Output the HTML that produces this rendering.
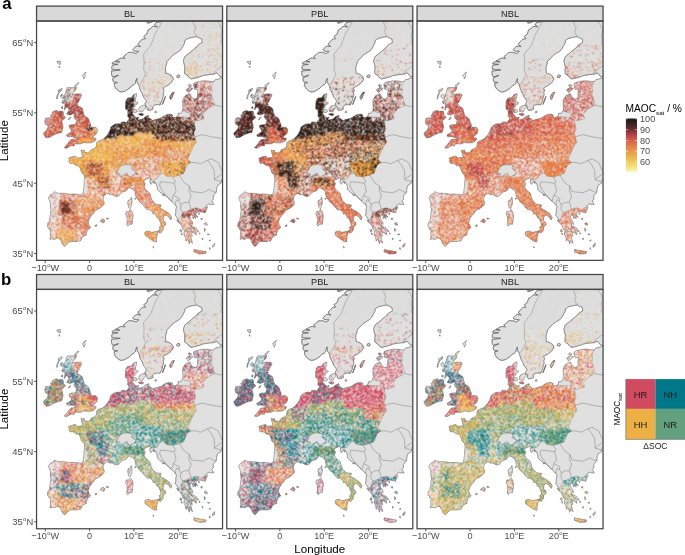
<!DOCTYPE html><html><head><meta charset="utf-8"><style>
html,body{margin:0;padding:0;background:#fff;}
svg{display:block;}
text{font-family:"Liberation Sans",Arial,sans-serif;}
</style></head><body>
<svg width="685" height="555" viewBox="0 0 685 555">
<defs>
<clipPath id="land"><path d="M65.9,245.4 67.9,243.0 70.1,241.4 74.1,241.4 77.2,241.5 78.7,240.6 80.1,241.3 81.2,239.4 82.5,236.6 85.2,235.4 86.5,235.0 86.3,233.5 87.4,230.1 89.6,228.2 90.6,227.3 89.2,225.7 88.1,222.2 89.4,218.5 91.4,215.5 93.5,213.4 95.1,210.6 99.2,208.6 102.0,206.4 103.8,204.6 104.2,202.0 103.1,200.4 103.1,198.0 104.0,195.5 106.9,193.4 108.7,193.7 110.0,194.8 111.8,194.4 113.3,195.2 116.0,196.6 118.9,195.9 120.4,193.7 121.7,192.3 123.1,191.8 126.0,190.9 129.1,187.3 131.7,188.8 133.3,189.7 135.0,191.6 135.3,193.4 136.1,197.3 138.8,200.4 139.2,201.5 141.9,203.6 143.9,206.0 145.7,208.2 147.2,209.6 149.7,209.8 151.2,210.6 152.8,212.5 153.2,214.1 155.0,213.6 156.1,215.5 157.3,218.1 159.0,218.3 159.6,220.5 160.7,223.3 161.2,225.7 159.0,227.5 160.1,228.9 159.0,231.0 159.0,232.4 160.7,233.0 163.0,229.9 163.2,226.8 165.6,225.0 165.4,222.6 163.0,220.5 163.2,217.6 164.5,215.2 166.1,215.2 169.0,216.9 169.6,218.7 171.0,219.8 171.6,217.3 169.4,213.8 166.3,211.7 164.4,210.4 161.4,208.9 160.1,207.5 161.2,205.0 158.8,204.8 156.5,204.6 153.9,202.5 152.5,201.0 151.0,198.0 149.9,193.4 149.4,192.9 145.5,189.7 144.1,187.1 145.2,183.6 143.9,181.8 144.3,180.0 146.8,179.0 149.4,177.9 150.6,178.6 149.9,181.1 149.9,182.5 151.0,184.3 152.3,182.5 153.7,180.9 155.7,182.8 157.0,186.0 157.4,189.5 160.1,192.3 162.5,193.7 165.0,195.2 167.6,197.6 169.8,199.7 171.8,201.5 174.0,203.6 175.6,205.3 176.5,207.1 175.8,209.2 175.8,212.4 175.2,215.5 176.7,216.9 178.5,220.5 179.6,223.3 181.6,225.7 183.1,229.6 184.9,230.3 186.0,229.9 188.9,229.6 192.0,232.1 189.3,231.7 186.2,230.7 184.0,231.7 184.2,234.9 185.6,237.7 185.8,240.8 187.6,239.4 188.7,241.9 189.3,243.8 189.8,240.8 190.7,241.2 192.4,243.3 191.6,240.1 190.5,235.9 192.4,235.9 191.6,234.5 192.0,232.8 193.3,232.4 194.7,233.1 196.1,234.9 196.2,232.4 194.0,229.6 192.4,227.8 190.7,226.4 191.3,222.9 192.9,224.3 192.4,221.9 190.5,219.1 189.8,216.6 191.1,214.1 192.9,216.6 193.1,218.7 194.4,216.9 195.5,218.7 196.0,215.9 197.8,217.3 195.3,213.8 197.8,211.8 200.4,211.7 204.4,212.4 205.1,213.1 206.4,209.6 207.5,207.1 206.4,206.0 207.5,204.6 209.3,203.9 211.5,204.6 213.7,204.4 212.6,202.2 211.5,201.1 213.3,199.4 213.3,195.9 216.4,192.0 216.6,188.8 217.7,185.3 221.0,183.2 221.3,181.1 222.1,179.0 223.9,176.2 229.2,173.4 229.2,78.5 223.5,78.5 220.4,78.1 218.2,79.2 215.5,79.5 213.7,81.5 211.1,81.6 207.1,80.9 202.6,80.9 199.3,81.6 196.2,82.3 193.8,83.4 193.6,85.1 194.2,87.6 194.7,89.3 198.2,89.1 197.5,93.2 197.5,96.7 196.4,98.8 194.2,99.1 191.6,97.4 189.8,93.6 185.4,95.7 182.9,99.5 182.7,102.4 182.9,105.9 183.1,108.0 182.5,110.8 180.7,113.3 178.0,113.3 178.0,115.7 176.5,116.8 175.2,117.5 172.5,117.1 171.8,115.7 172.9,115.4 171.2,114.3 167.6,114.3 164.5,115.7 161.4,117.8 158.8,118.7 155.2,119.6 152.8,120.5 150.8,119.2 149.9,118.2 147.9,117.8 149.0,115.7 148.1,115.4 145.0,116.8 143.2,118.7 140.6,119.6 138.4,119.9 137.7,119.2 138.8,117.1 137.0,117.8 134.8,116.8 133.5,114.7 132.2,114.0 132.8,112.2 132.2,110.1 132.8,109.0 134.8,106.9 135.0,104.8 136.8,104.5 138.1,102.7 135.3,101.7 135.5,98.8 136.4,95.7 136.6,93.6 133.7,94.6 131.3,97.8 127.7,98.0 126.0,100.6 125.5,103.8 125.5,109.0 127.7,110.1 127.9,113.6 127.7,116.4 129.1,117.8 128.8,119.9 127.7,120.8 126.0,123.1 125.1,122.0 121.5,122.0 120.6,124.1 118.9,123.8 115.3,124.1 111.8,126.3 110.7,127.3 109.8,130.8 108.2,133.6 106.9,135.4 105.3,137.2 104.5,138.2 102.9,139.3 100.9,140.3 97.8,141.4 96.7,142.8 96.5,146.6 94.5,148.5 91.2,149.8 90.0,151.6 88.5,153.0 84.7,152.4 84.1,150.2 82.5,150.5 81.0,150.0 81.6,152.6 82.5,156.1 83.2,157.5 80.7,157.5 77.4,158.2 75.4,156.1 71.9,157.0 68.5,158.2 69.4,159.6 69.0,161.8 70.3,163.5 72.3,163.2 74.5,164.2 75.9,165.6 78.5,165.6 79.8,167.4 80.7,169.5 81.6,172.7 84.3,175.1 84.7,179.0 84.1,183.2 84.1,185.7 83.6,190.2 83.0,193.7 81.6,194.7 80.7,194.9 76.5,194.3 72.8,194.0 69.7,194.4 64.3,193.4 60.8,193.3 58.3,193.4 54.6,191.8 52.8,193.4 50.1,195.2 48.4,198.0 49.7,200.8 50.6,203.6 50.4,206.0 51.0,210.3 50.1,216.9 49.5,221.2 47.9,222.9 47.5,226.9 49.3,227.8 48.8,229.2 50.6,229.2 50.4,232.8 50.6,236.6 49.9,239.4 51.5,238.7 54.6,239.4 56.8,238.0 58.8,238.0 61.2,240.8 61.9,243.0 63.2,245.1 64.8,246.5Z"/><path d="M229.2,77.4 220.4,76.7 216.8,72.8 213.7,74.2 208.8,74.6 202.6,75.6 200.2,76.7 196.0,77.8 191.3,79.0 189.3,77.8 187.6,75.6 184.5,73.5 184.7,70.0 184.9,66.9 184.0,63.7 183.4,60.9 184.5,57.4 185.4,56.0 188.5,53.8 192.0,50.7 196.0,47.5 198.2,44.7 202.2,42.6 201.8,39.1 198.7,37.7 196.7,36.6 193.8,37.0 188.0,38.4 184.9,40.5 184.5,43.3 183.6,44.7 181.8,48.2 179.6,51.0 176.0,53.1 172.9,55.3 170.7,57.4 169.0,59.5 166.7,61.6 166.7,63.7 165.8,65.8 165.4,68.6 165.8,72.1 165.8,73.2 168.5,73.9 171.2,75.3 172.9,77.8 173.4,79.2 172.1,81.3 171.2,82.7 169.4,84.1 167.6,85.5 164.5,86.9 163.2,88.3 164.1,90.4 163.2,92.5 163.6,94.6 162.7,97.4 161.9,100.9 159.9,105.2 158.8,104.5 154.8,104.8 152.5,106.9 153.2,109.0 150.8,110.1 148.1,110.4 147.0,109.0 147.0,107.3 145.7,105.5 145.0,103.8 146.6,101.3 145.0,98.8 143.2,96.7 142.4,93.9 141.2,91.8 140.1,89.7 139.2,86.2 138.8,84.4 137.5,83.4 136.8,80.6 137.0,78.5 135.9,80.6 135.3,83.4 133.9,84.8 132.2,85.5 129.5,88.3 127.3,89.7 125.1,91.1 122.8,91.8 120.9,92.0 118.9,91.1 116.2,89.0 114.4,86.2 114.4,84.8 114.0,83.4 117.5,82.5 114.0,82.0 113.1,81.3 112.7,79.2 113.1,77.8 118.4,75.3 113.1,76.9 112.2,76.3 111.5,74.2 111.5,71.1 120.2,69.9 111.8,69.3 111.8,66.5 112.7,65.1 118.0,64.4 112.2,63.8 112.2,63.0 114.4,61.6 119.7,61.9 115.8,60.7 117.1,60.2 120.6,58.1 125.1,58.4 123.3,56.7 126.0,54.6 128.2,52.4 132.2,52.3 136.1,53.5 138.8,51.4 133.9,51.0 132.6,49.6 134.8,47.5 136.1,46.1 140.6,46.5 137.9,44.7 138.8,42.6 142.4,39.1 145.5,38.7 143.7,36.3 146.8,34.2 148.1,29.9 150.3,28.9 152.5,26.4 157.4,26.8 154.3,25.0 156.1,22.6 161.4,21.5 158.3,20.1 160.5,14.5 229.2,14.5Z"/><path d="M95.8,140.0 96.0,138.3 93.6,137.9 92.7,137.5 93.8,135.7 95.1,135.0 96.7,133.3 97.4,130.5 97.1,128.7 95.6,127.3 91.8,127.3 90.9,128.0 90.0,127.7 90.9,126.3 90.5,123.8 89.8,122.7 88.7,119.2 87.6,117.8 85.2,116.4 84.3,115.4 83.2,112.5 82.5,108.7 80.7,107.3 79.0,106.2 76.3,105.9 78.1,104.5 77.2,103.4 78.5,101.7 80.3,98.1 81.6,95.3 80.7,93.9 76.3,93.9 71.9,95.0 72.8,92.9 75.9,89.7 76.3,87.2 72.8,87.6 67.4,87.6 66.5,89.7 65.7,92.5 64.8,95.0 63.9,97.1 64.3,100.2 62.1,100.9 64.8,102.7 65.0,105.9 64.3,110.1 66.1,107.3 67.9,107.6 69.0,110.1 67.4,112.9 66.8,114.0 70.1,115.0 73.6,113.6 75.0,113.6 73.9,116.4 75.4,119.2 77.0,119.9 76.3,121.7 75.9,124.1 75.0,124.5 71.0,124.9 69.2,125.6 69.7,128.4 71.4,129.8 71.4,131.9 68.8,133.6 66.5,135.0 67.4,136.8 70.5,136.5 72.3,136.8 75.4,137.9 77.6,137.2 76.3,138.9 72.8,139.6 71.0,139.6 69.7,141.0 67.4,144.2 64.3,147.7 66.5,148.3 71.0,145.6 74.1,145.9 74.5,143.8 78.5,143.8 81.0,143.8 83.8,142.4 86.1,142.8 90.5,142.8 93.8,141.7Z"/><path d="M63.0,111.5 63.4,115.4 65.4,117.1 64.8,118.2 62.6,119.9 61.7,121.3 62.6,124.5 63.0,127.3 61.5,132.6 58.6,132.9 55.0,134.3 52.8,135.4 49.7,137.2 46.2,137.9 44.4,135.7 43.5,133.3 46.6,130.1 47.5,128.7 48.4,125.9 45.3,124.1 44.8,121.3 45.7,118.2 49.7,117.8 51.9,117.8 50.6,115.4 51.9,114.0 52.8,111.8 56.4,110.4 58.6,111.5 60.8,111.1Z"/><path d="M68.3,119.6 70.1,117.1 70.5,117.5 69.2,119.6Z"/><path d="M62.1,88.3 61.7,90.4 59.0,92.5 57.2,95.3 56.6,98.8 57.2,98.8 57.9,95.3 58.8,93.6 58.1,90.4 60.3,89.3Z"/><path d="M62.1,93.9 64.3,96.7 63.0,98.8 60.3,96.7 60.8,95.0Z"/><path d="M64.3,102.4 61.7,102.0 63.0,103.8Z"/><path d="M62.6,106.6 61.0,107.6 62.6,108.7Z"/><path d="M74.5,85.8 77.2,83.4 79.0,82.7 77.2,85.1 75.9,86.5Z"/><path d="M83.8,78.8 85.2,76.3 84.7,74.2 86.1,72.1 84.1,73.5 82.1,75.6 83.8,77.0Z"/><path d="M56.8,61.6 60.3,61.2 60.3,64.4 58.6,64.0Z"/><path d="M59.7,66.5 59.5,67.9 58.8,66.5Z"/><path d="M131.3,197.3 131.9,200.1 131.9,203.6 130.6,207.5 130.2,208.6 128.6,207.5 128.2,205.0 127.7,202.2 128.4,200.4 130.8,199.5Z"/><path d="M130.4,209.6 132.2,212.0 133.0,215.5 132.4,221.9 131.9,224.3 129.9,224.0 127.7,226.1 126.8,224.7 127.3,220.5 126.8,216.2 125.7,214.1 126.2,211.7 128.6,211.7Z"/><path d="M158.8,230.7 157.0,235.2 156.5,239.1 156.5,241.9 153.4,241.2 149.4,238.4 145.2,235.2 144.8,232.4 146.3,231.4 148.6,231.0 151.7,232.4 156.5,231.4Z"/><path d="M193.8,251.4 194.2,249.3 196.0,250.0 200.4,250.7 204.0,251.4 206.2,251.7 205.5,253.5 199.1,254.0 196.9,252.8 194.2,252.1Z"/><path d="M100.0,221.2 102.9,218.7 104.9,220.5 103.8,222.9 101.8,221.9Z"/><path d="M106.4,218.0 108.7,218.7 106.7,219.1Z"/><path d="M94.9,225.7 96.5,224.7 96.7,226.1 95.4,226.4Z"/><path d="M143.9,105.2 145.5,105.5 145.5,108.0 143.7,109.7 142.8,111.8 139.2,111.5 138.8,108.7 140.6,106.2Z"/><path d="M132.6,109.4 136.1,109.4 137.3,111.5 135.7,112.5 133.5,112.2Z"/><path d="M138.4,114.0 141.9,113.3 143.7,114.3 142.4,115.7 139.7,115.0Z"/><path d="M154.8,112.2 155.7,110.8 156.8,112.2 155.2,113.0Z"/><path d="M169.8,96.7 172.5,92.5 174.3,92.2 172.9,95.0 172.1,97.4 170.7,99.5 170.1,98.5Z"/><path d="M162.3,104.5 164.5,99.5 165.4,96.4 163.9,100.2 162.7,104.1Z"/><path d="M186.2,89.7 189.3,87.6 192.9,88.3 190.7,90.4 188.0,92.5 187.1,91.1Z"/><path d="M188.0,85.5 189.3,84.4 191.6,85.8 189.8,86.9Z"/><path d="M176.5,77.0 177.8,74.9 180.0,75.6 179.1,77.8Z"/><path d="M146.8,22.6 151.2,20.8 156.1,19.0 159.2,17.3 157.9,19.4 153.0,21.5 148.6,23.3Z"/><path d="M190.7,225.4 193.3,226.8 196.4,228.5 198.7,231.7 196.9,231.0 194.2,229.2 192.0,227.5Z"/><path d="M176.7,220.1 178.3,220.5 178.7,222.6 177.6,221.5Z"/><path d="M179.8,231.0 180.9,229.2 181.8,231.7 180.3,231.7Z"/><path d="M181.1,233.1 182.5,234.2 181.8,234.9Z"/><path d="M204.2,223.6 206.2,222.6 207.5,225.0 205.3,225.0Z"/><path d="M204.2,228.2 205.5,229.6 204.6,231.4Z"/><path d="M207.3,234.2 209.5,234.2 208.0,234.9Z"/><path d="M212.6,245.1 214.8,243.3 214.4,246.1 212.6,247.2Z"/><path d="M200.6,218.7 202.4,218.3 202.0,219.8Z"/><path d="M198.4,213.1 199.5,213.4 198.9,214.5Z"/><path d="M202.0,238.4 202.9,238.4 202.6,239.8Z"/><path d="M199.1,232.8 200.2,233.5 199.5,234.2Z"/><path d="M209.1,240.5 210.8,240.1 209.7,241.2Z"/><path d="M209.7,247.5 210.2,249.3 209.5,249.3Z"/><path d="M153.0,246.5 154.1,247.5 153.4,247.9Z"/><path d="M134.4,198.7 135.9,198.3 135.5,199.2Z"/><path d="M153.4,181.8 155.0,182.8 154.1,183.6Z"/><path d="M162.3,194.8 164.5,195.2 163.2,195.5Z"/></clipPath>
<clipPath id="mask"><path d="M32.0,267.6 32.0,92.5 137.5,92.5 140.6,98.8 144.1,104.5 146.1,108.7 149.4,112.9 171.6,112.9 175.2,116.4 176.5,116.8 190.7,117.5 189.8,112.9 184.0,111.5 182.5,110.8 180.5,108.7 180.5,95.3 184.9,88.3 184.9,81.3 204.9,78.5 213.7,79.9 213.7,81.5 211.5,85.5 212.0,91.8 211.1,94.6 212.4,96.7 214.6,105.2 207.5,108.7 202.6,114.3 204.0,118.5 197.8,120.6 193.8,120.6 195.5,129.1 193.8,132.6 194.7,136.8 196.4,142.4 193.8,145.2 189.6,154.4 187.6,159.3 191.1,162.5 187.1,164.9 183.6,173.4 179.6,175.1 172.9,176.9 166.3,176.2 163.2,172.7 159.2,174.8 157.4,178.3 153.9,179.7 149.9,179.7 148.6,179.7 147.2,183.2 149.4,190.2 155.2,197.3 162.7,202.9 171.6,209.9 173.8,214.8 175.2,219.4 177.8,220.6 178.5,220.5 180.9,217.6 182.7,212.4 186.2,211.7 191.1,209.2 196.0,207.8 201.8,209.6 206.2,206.4 207.5,207.1 206.4,209.6 205.1,213.1 218.2,214.8 218.2,267.6Z"/><path d="M138.4,91.8 138.6,86.2 139.5,84.4 140.1,84.1 143.7,78.5 145.5,74.2 144.1,70.7 143.7,68.6 144.1,61.6 143.5,54.2 150.8,45.4 155.2,33.5 162.3,21.5 165.0,17.3 216.4,14.5 216.8,20.8 219.9,25.0 222.1,29.9 220.8,35.6 221.7,39.8 220.8,43.3 224.8,47.5 224.8,63.0 221.7,66.2 216.8,70.0 212.8,73.9 211.5,77.8 187.1,81.3 173.8,98.8 160.5,110.8 151.7,111.5 145.0,110.8 142.8,103.8Z"/><path d="M40.8,151.6 99.4,141.7 99.4,123.4 87.4,67.2 40.8,67.2Z"/></clipPath>
<path id="landp" d="M65.9,245.4 67.9,243.0 70.1,241.4 74.1,241.4 77.2,241.5 78.7,240.6 80.1,241.3 81.2,239.4 82.5,236.6 85.2,235.4 86.5,235.0 86.3,233.5 87.4,230.1 89.6,228.2 90.6,227.3 89.2,225.7 88.1,222.2 89.4,218.5 91.4,215.5 93.5,213.4 95.1,210.6 99.2,208.6 102.0,206.4 103.8,204.6 104.2,202.0 103.1,200.4 103.1,198.0 104.0,195.5 106.9,193.4 108.7,193.7 110.0,194.8 111.8,194.4 113.3,195.2 116.0,196.6 118.9,195.9 120.4,193.7 121.7,192.3 123.1,191.8 126.0,190.9 129.1,187.3 131.7,188.8 133.3,189.7 135.0,191.6 135.3,193.4 136.1,197.3 138.8,200.4 139.2,201.5 141.9,203.6 143.9,206.0 145.7,208.2 147.2,209.6 149.7,209.8 151.2,210.6 152.8,212.5 153.2,214.1 155.0,213.6 156.1,215.5 157.3,218.1 159.0,218.3 159.6,220.5 160.7,223.3 161.2,225.7 159.0,227.5 160.1,228.9 159.0,231.0 159.0,232.4 160.7,233.0 163.0,229.9 163.2,226.8 165.6,225.0 165.4,222.6 163.0,220.5 163.2,217.6 164.5,215.2 166.1,215.2 169.0,216.9 169.6,218.7 171.0,219.8 171.6,217.3 169.4,213.8 166.3,211.7 164.4,210.4 161.4,208.9 160.1,207.5 161.2,205.0 158.8,204.8 156.5,204.6 153.9,202.5 152.5,201.0 151.0,198.0 149.9,193.4 149.4,192.9 145.5,189.7 144.1,187.1 145.2,183.6 143.9,181.8 144.3,180.0 146.8,179.0 149.4,177.9 150.6,178.6 149.9,181.1 149.9,182.5 151.0,184.3 152.3,182.5 153.7,180.9 155.7,182.8 157.0,186.0 157.4,189.5 160.1,192.3 162.5,193.7 165.0,195.2 167.6,197.6 169.8,199.7 171.8,201.5 174.0,203.6 175.6,205.3 176.5,207.1 175.8,209.2 175.8,212.4 175.2,215.5 176.7,216.9 178.5,220.5 179.6,223.3 181.6,225.7 183.1,229.6 184.9,230.3 186.0,229.9 188.9,229.6 192.0,232.1 189.3,231.7 186.2,230.7 184.0,231.7 184.2,234.9 185.6,237.7 185.8,240.8 187.6,239.4 188.7,241.9 189.3,243.8 189.8,240.8 190.7,241.2 192.4,243.3 191.6,240.1 190.5,235.9 192.4,235.9 191.6,234.5 192.0,232.8 193.3,232.4 194.7,233.1 196.1,234.9 196.2,232.4 194.0,229.6 192.4,227.8 190.7,226.4 191.3,222.9 192.9,224.3 192.4,221.9 190.5,219.1 189.8,216.6 191.1,214.1 192.9,216.6 193.1,218.7 194.4,216.9 195.5,218.7 196.0,215.9 197.8,217.3 195.3,213.8 197.8,211.8 200.4,211.7 204.4,212.4 205.1,213.1 206.4,209.6 207.5,207.1 206.4,206.0 207.5,204.6 209.3,203.9 211.5,204.6 213.7,204.4 212.6,202.2 211.5,201.1 213.3,199.4 213.3,195.9 216.4,192.0 216.6,188.8 217.7,185.3 221.0,183.2 221.3,181.1 222.1,179.0 223.9,176.2 229.2,173.4 229.2,78.5 223.5,78.5 220.4,78.1 218.2,79.2 215.5,79.5 213.7,81.5 211.1,81.6 207.1,80.9 202.6,80.9 199.3,81.6 196.2,82.3 193.8,83.4 193.6,85.1 194.2,87.6 194.7,89.3 198.2,89.1 197.5,93.2 197.5,96.7 196.4,98.8 194.2,99.1 191.6,97.4 189.8,93.6 185.4,95.7 182.9,99.5 182.7,102.4 182.9,105.9 183.1,108.0 182.5,110.8 180.7,113.3 178.0,113.3 178.0,115.7 176.5,116.8 175.2,117.5 172.5,117.1 171.8,115.7 172.9,115.4 171.2,114.3 167.6,114.3 164.5,115.7 161.4,117.8 158.8,118.7 155.2,119.6 152.8,120.5 150.8,119.2 149.9,118.2 147.9,117.8 149.0,115.7 148.1,115.4 145.0,116.8 143.2,118.7 140.6,119.6 138.4,119.9 137.7,119.2 138.8,117.1 137.0,117.8 134.8,116.8 133.5,114.7 132.2,114.0 132.8,112.2 132.2,110.1 132.8,109.0 134.8,106.9 135.0,104.8 136.8,104.5 138.1,102.7 135.3,101.7 135.5,98.8 136.4,95.7 136.6,93.6 133.7,94.6 131.3,97.8 127.7,98.0 126.0,100.6 125.5,103.8 125.5,109.0 127.7,110.1 127.9,113.6 127.7,116.4 129.1,117.8 128.8,119.9 127.7,120.8 126.0,123.1 125.1,122.0 121.5,122.0 120.6,124.1 118.9,123.8 115.3,124.1 111.8,126.3 110.7,127.3 109.8,130.8 108.2,133.6 106.9,135.4 105.3,137.2 104.5,138.2 102.9,139.3 100.9,140.3 97.8,141.4 96.7,142.8 96.5,146.6 94.5,148.5 91.2,149.8 90.0,151.6 88.5,153.0 84.7,152.4 84.1,150.2 82.5,150.5 81.0,150.0 81.6,152.6 82.5,156.1 83.2,157.5 80.7,157.5 77.4,158.2 75.4,156.1 71.9,157.0 68.5,158.2 69.4,159.6 69.0,161.8 70.3,163.5 72.3,163.2 74.5,164.2 75.9,165.6 78.5,165.6 79.8,167.4 80.7,169.5 81.6,172.7 84.3,175.1 84.7,179.0 84.1,183.2 84.1,185.7 83.6,190.2 83.0,193.7 81.6,194.7 80.7,194.9 76.5,194.3 72.8,194.0 69.7,194.4 64.3,193.4 60.8,193.3 58.3,193.4 54.6,191.8 52.8,193.4 50.1,195.2 48.4,198.0 49.7,200.8 50.6,203.6 50.4,206.0 51.0,210.3 50.1,216.9 49.5,221.2 47.9,222.9 47.5,226.9 49.3,227.8 48.8,229.2 50.6,229.2 50.4,232.8 50.6,236.6 49.9,239.4 51.5,238.7 54.6,239.4 56.8,238.0 58.8,238.0 61.2,240.8 61.9,243.0 63.2,245.1 64.8,246.5ZM229.2,77.4 220.4,76.7 216.8,72.8 213.7,74.2 208.8,74.6 202.6,75.6 200.2,76.7 196.0,77.8 191.3,79.0 189.3,77.8 187.6,75.6 184.5,73.5 184.7,70.0 184.9,66.9 184.0,63.7 183.4,60.9 184.5,57.4 185.4,56.0 188.5,53.8 192.0,50.7 196.0,47.5 198.2,44.7 202.2,42.6 201.8,39.1 198.7,37.7 196.7,36.6 193.8,37.0 188.0,38.4 184.9,40.5 184.5,43.3 183.6,44.7 181.8,48.2 179.6,51.0 176.0,53.1 172.9,55.3 170.7,57.4 169.0,59.5 166.7,61.6 166.7,63.7 165.8,65.8 165.4,68.6 165.8,72.1 165.8,73.2 168.5,73.9 171.2,75.3 172.9,77.8 173.4,79.2 172.1,81.3 171.2,82.7 169.4,84.1 167.6,85.5 164.5,86.9 163.2,88.3 164.1,90.4 163.2,92.5 163.6,94.6 162.7,97.4 161.9,100.9 159.9,105.2 158.8,104.5 154.8,104.8 152.5,106.9 153.2,109.0 150.8,110.1 148.1,110.4 147.0,109.0 147.0,107.3 145.7,105.5 145.0,103.8 146.6,101.3 145.0,98.8 143.2,96.7 142.4,93.9 141.2,91.8 140.1,89.7 139.2,86.2 138.8,84.4 137.5,83.4 136.8,80.6 137.0,78.5 135.9,80.6 135.3,83.4 133.9,84.8 132.2,85.5 129.5,88.3 127.3,89.7 125.1,91.1 122.8,91.8 120.9,92.0 118.9,91.1 116.2,89.0 114.4,86.2 114.4,84.8 114.0,83.4 117.5,82.5 114.0,82.0 113.1,81.3 112.7,79.2 113.1,77.8 118.4,75.3 113.1,76.9 112.2,76.3 111.5,74.2 111.5,71.1 120.2,69.9 111.8,69.3 111.8,66.5 112.7,65.1 118.0,64.4 112.2,63.8 112.2,63.0 114.4,61.6 119.7,61.9 115.8,60.7 117.1,60.2 120.6,58.1 125.1,58.4 123.3,56.7 126.0,54.6 128.2,52.4 132.2,52.3 136.1,53.5 138.8,51.4 133.9,51.0 132.6,49.6 134.8,47.5 136.1,46.1 140.6,46.5 137.9,44.7 138.8,42.6 142.4,39.1 145.5,38.7 143.7,36.3 146.8,34.2 148.1,29.9 150.3,28.9 152.5,26.4 157.4,26.8 154.3,25.0 156.1,22.6 161.4,21.5 158.3,20.1 160.5,14.5 229.2,14.5ZM95.8,140.0 96.0,138.3 93.6,137.9 92.7,137.5 93.8,135.7 95.1,135.0 96.7,133.3 97.4,130.5 97.1,128.7 95.6,127.3 91.8,127.3 90.9,128.0 90.0,127.7 90.9,126.3 90.5,123.8 89.8,122.7 88.7,119.2 87.6,117.8 85.2,116.4 84.3,115.4 83.2,112.5 82.5,108.7 80.7,107.3 79.0,106.2 76.3,105.9 78.1,104.5 77.2,103.4 78.5,101.7 80.3,98.1 81.6,95.3 80.7,93.9 76.3,93.9 71.9,95.0 72.8,92.9 75.9,89.7 76.3,87.2 72.8,87.6 67.4,87.6 66.5,89.7 65.7,92.5 64.8,95.0 63.9,97.1 64.3,100.2 62.1,100.9 64.8,102.7 65.0,105.9 64.3,110.1 66.1,107.3 67.9,107.6 69.0,110.1 67.4,112.9 66.8,114.0 70.1,115.0 73.6,113.6 75.0,113.6 73.9,116.4 75.4,119.2 77.0,119.9 76.3,121.7 75.9,124.1 75.0,124.5 71.0,124.9 69.2,125.6 69.7,128.4 71.4,129.8 71.4,131.9 68.8,133.6 66.5,135.0 67.4,136.8 70.5,136.5 72.3,136.8 75.4,137.9 77.6,137.2 76.3,138.9 72.8,139.6 71.0,139.6 69.7,141.0 67.4,144.2 64.3,147.7 66.5,148.3 71.0,145.6 74.1,145.9 74.5,143.8 78.5,143.8 81.0,143.8 83.8,142.4 86.1,142.8 90.5,142.8 93.8,141.7ZM63.0,111.5 63.4,115.4 65.4,117.1 64.8,118.2 62.6,119.9 61.7,121.3 62.6,124.5 63.0,127.3 61.5,132.6 58.6,132.9 55.0,134.3 52.8,135.4 49.7,137.2 46.2,137.9 44.4,135.7 43.5,133.3 46.6,130.1 47.5,128.7 48.4,125.9 45.3,124.1 44.8,121.3 45.7,118.2 49.7,117.8 51.9,117.8 50.6,115.4 51.9,114.0 52.8,111.8 56.4,110.4 58.6,111.5 60.8,111.1ZM68.3,119.6 70.1,117.1 70.5,117.5 69.2,119.6ZM62.1,88.3 61.7,90.4 59.0,92.5 57.2,95.3 56.6,98.8 57.2,98.8 57.9,95.3 58.8,93.6 58.1,90.4 60.3,89.3ZM62.1,93.9 64.3,96.7 63.0,98.8 60.3,96.7 60.8,95.0ZM64.3,102.4 61.7,102.0 63.0,103.8ZM62.6,106.6 61.0,107.6 62.6,108.7ZM74.5,85.8 77.2,83.4 79.0,82.7 77.2,85.1 75.9,86.5ZM83.8,78.8 85.2,76.3 84.7,74.2 86.1,72.1 84.1,73.5 82.1,75.6 83.8,77.0ZM56.8,61.6 60.3,61.2 60.3,64.4 58.6,64.0ZM59.7,66.5 59.5,67.9 58.8,66.5ZM131.3,197.3 131.9,200.1 131.9,203.6 130.6,207.5 130.2,208.6 128.6,207.5 128.2,205.0 127.7,202.2 128.4,200.4 130.8,199.5ZM130.4,209.6 132.2,212.0 133.0,215.5 132.4,221.9 131.9,224.3 129.9,224.0 127.7,226.1 126.8,224.7 127.3,220.5 126.8,216.2 125.7,214.1 126.2,211.7 128.6,211.7ZM158.8,230.7 157.0,235.2 156.5,239.1 156.5,241.9 153.4,241.2 149.4,238.4 145.2,235.2 144.8,232.4 146.3,231.4 148.6,231.0 151.7,232.4 156.5,231.4ZM193.8,251.4 194.2,249.3 196.0,250.0 200.4,250.7 204.0,251.4 206.2,251.7 205.5,253.5 199.1,254.0 196.9,252.8 194.2,252.1ZM100.0,221.2 102.9,218.7 104.9,220.5 103.8,222.9 101.8,221.9ZM106.4,218.0 108.7,218.7 106.7,219.1ZM94.9,225.7 96.5,224.7 96.7,226.1 95.4,226.4ZM143.9,105.2 145.5,105.5 145.5,108.0 143.7,109.7 142.8,111.8 139.2,111.5 138.8,108.7 140.6,106.2ZM132.6,109.4 136.1,109.4 137.3,111.5 135.7,112.5 133.5,112.2ZM138.4,114.0 141.9,113.3 143.7,114.3 142.4,115.7 139.7,115.0ZM154.8,112.2 155.7,110.8 156.8,112.2 155.2,113.0ZM169.8,96.7 172.5,92.5 174.3,92.2 172.9,95.0 172.1,97.4 170.7,99.5 170.1,98.5ZM162.3,104.5 164.5,99.5 165.4,96.4 163.9,100.2 162.7,104.1ZM186.2,89.7 189.3,87.6 192.9,88.3 190.7,90.4 188.0,92.5 187.1,91.1ZM188.0,85.5 189.3,84.4 191.6,85.8 189.8,86.9ZM176.5,77.0 177.8,74.9 180.0,75.6 179.1,77.8ZM146.8,22.6 151.2,20.8 156.1,19.0 159.2,17.3 157.9,19.4 153.0,21.5 148.6,23.3ZM190.7,225.4 193.3,226.8 196.4,228.5 198.7,231.7 196.9,231.0 194.2,229.2 192.0,227.5ZM176.7,220.1 178.3,220.5 178.7,222.6 177.6,221.5ZM179.8,231.0 180.9,229.2 181.8,231.7 180.3,231.7ZM181.1,233.1 182.5,234.2 181.8,234.9ZM204.2,223.6 206.2,222.6 207.5,225.0 205.3,225.0ZM204.2,228.2 205.5,229.6 204.6,231.4ZM207.3,234.2 209.5,234.2 208.0,234.9ZM212.6,245.1 214.8,243.3 214.4,246.1 212.6,247.2ZM200.6,218.7 202.4,218.3 202.0,219.8ZM198.4,213.1 199.5,213.4 198.9,214.5ZM202.0,238.4 202.9,238.4 202.6,239.8ZM199.1,232.8 200.2,233.5 199.5,234.2ZM209.1,240.5 210.8,240.1 209.7,241.2ZM209.7,247.5 210.2,249.3 209.5,249.3ZM153.0,246.5 154.1,247.5 153.4,247.9ZM134.4,198.7 135.9,198.3 135.5,199.2ZM153.4,181.8 155.0,182.8 154.1,183.6ZM162.3,194.8 164.5,195.2 163.2,195.5Z"/>
<path id="bord" d="M50.1,205.2 53.2,203.6 57.7,204.6 60.3,204.6 62.1,207.1 59.0,211.3 59.5,216.2 58.6,220.5 56.4,220.8 58.6,225.4 57.2,229.2 58.6,232.4 56.4,235.6 56.8,238.0M81.7,194.7 83.4,196.9 86.5,198.3 89.6,199.4 92.7,198.3 96.0,200.1 98.5,201.5 103.6,201.3M100.9,140.3 102.5,143.1 106.0,145.9 108.2,148.1 110.9,147.0 111.1,149.5 114.0,151.6 115.3,151.2 118.0,151.8 120.6,154.0 126.0,155.3M126.0,155.3 124.2,158.6 123.3,164.9 120.6,166.0 118.4,169.5 116.6,173.4 119.7,173.4 120.6,176.9M120.6,176.9 121.1,181.8 119.1,183.2 120.6,188.8 122.8,191.8M104.5,138.4 108.7,138.2 111.8,137.9 115.3,140.0 114.9,142.8M114.9,142.8 116.6,145.2 118.0,145.9 116.6,148.8 115.3,151.2M114.9,142.8 116.2,141.0 117.1,137.5 116.0,135.4 119.7,134.7 120.9,131.5 121.5,125.2M127.9,113.6 131.5,114.3M152.8,120.5 153.4,124.9 154.3,129.8 154.8,133.3 156.1,140.3M156.1,140.3 153.0,140.7 150.8,143.1 146.8,145.2 143.2,145.9 145.0,148.4 146.3,153.0 150.8,156.8M150.8,156.8 147.2,160.0 146.8,164.2 143.7,164.9 138.4,166.3 134.8,167.0 132.2,165.3M132.2,165.3 127.7,164.6 123.3,164.9M132.2,165.3 131.7,168.8 135.9,172.3 134.4,174.4 129.5,177.2 126.8,173.0 120.6,176.9M135.9,170.2 143.7,168.8 150.3,172.5M150.3,172.5 156.1,171.6 160.5,171.2 161.0,170.2M150.3,172.5 149.4,176.2 150.6,178.6M150.8,156.8 154.8,157.9 156.1,155.1 160.5,156.8 164.5,157.9M164.5,157.9 165.4,162.1 162.7,165.6 161.0,170.2M156.1,140.3 161.9,143.5 163.6,146.6 168.5,148.1 173.2,151.6M173.2,151.6 168.1,155.8 164.5,157.9M173.2,151.6 178.3,153.7 182.7,152.3 189.6,154.4M189.6,154.4 193.8,145.2 196.4,142.4 194.7,136.8 193.8,132.6 195.5,129.1 193.8,120.6M193.8,120.6 190.7,117.5 176.5,116.8M190.7,117.5 189.8,112.9 184.0,111.5 182.5,110.8M193.8,120.6 197.8,120.6 204.0,118.5 202.6,114.3 207.5,108.7M182.9,105.5 187.1,103.1 196.0,103.8 203.1,104.8 207.5,108.7M207.5,108.7 214.6,105.2 212.4,96.7 211.1,94.6M197.5,92.9 203.5,92.5 207.1,95.0 211.1,94.6M211.1,94.6 212.0,91.8 211.5,85.5 213.7,81.5M165.4,162.1 172.9,163.5 178.3,160.7 187.6,159.3M187.6,159.3 189.6,154.4M161.0,170.2 163.2,172.7 166.3,176.2 172.9,176.9 179.6,175.1M179.6,175.1 183.6,173.4 187.1,164.9 191.1,162.5 187.6,159.3M191.1,162.5 196.0,162.5 200.4,163.9 207.5,160.4M207.5,160.4 211.5,165.6 214.2,170.5 214.6,179.7M207.5,160.4 211.5,158.9 218.2,162.5 223.0,173.4 217.7,176.9 214.6,179.7M214.6,179.7 221.3,181.8M179.6,175.1 182.7,180.4 184.9,183.2 189.3,186.0M189.3,186.0 191.6,191.6 198.2,192.3 202.6,192.7 209.3,189.5 213.7,192.0 216.3,192.1M189.3,186.0 188.9,190.9 191.1,195.9 189.3,200.8 188.9,202.2M188.9,202.2 191.1,209.2M191.1,209.2 196.0,207.8 201.8,209.6 206.2,206.4M191.1,209.2 186.2,211.7 182.7,212.4M182.7,212.4 180.5,209.2 180.9,204.3M180.9,204.3 184.9,202.5 188.9,202.2M182.7,212.4 180.9,217.6 178.5,220.5M180.9,204.3 178.7,200.8 176.9,199.7 175.2,202.9 175.6,205.3M171.6,201.1 173.4,195.2 176.0,196.6 179.6,198.7 178.7,200.8M171.6,201.1 167.6,197.3 161.4,189.5 159.6,185.0 160.5,181.8 165.0,182.1 173.8,183.2M173.8,183.2 175.2,186.7 176.0,191.6 173.4,195.2M173.8,183.2 175.6,181.8 172.9,176.9M149.9,179.7 153.9,179.7 157.4,178.3 159.2,174.8 163.2,172.7M194.7,136.8 202.6,134.7 211.5,136.8 224.8,138.9M214.6,105.2 224.8,107.3 229.2,119.9"/>
<path id="nbord" d="M140.1,84.1 143.7,78.5 145.5,74.2 144.1,70.7 143.7,68.6 144.1,61.6 143.5,54.2 150.8,45.4 155.2,33.5 162.3,21.5 165.0,17.3M196.7,36.6 194.2,32.1 195.5,28.5 193.3,22.9 194.2,20.8 188.9,17.3M212.8,73.9 216.8,70.0 221.7,66.2 224.8,63.0M224.8,47.5 220.8,43.3 221.7,39.8 220.8,35.6 222.1,29.9 219.9,25.0 216.8,20.8 216.4,14.5M229.2,77.4 220.4,76.7 216.8,72.8 213.7,74.2 208.8,74.6 202.6,75.6 200.2,76.7 196.0,77.8 191.3,79.0 189.3,77.8 187.6,75.6 184.5,73.5 184.7,70.0 184.9,66.9 184.0,63.7 183.4,60.9 184.5,57.4 185.4,56.0 188.5,53.8 192.0,50.7 196.0,47.5 198.2,44.7 202.2,42.6 201.8,39.1 198.7,37.7 196.7,36.6 193.8,37.0 188.0,38.4 184.9,40.5 184.5,43.3 183.6,44.7 181.8,48.2 179.6,51.0 176.0,53.1 172.9,55.3 170.7,57.4 169.0,59.5 166.7,61.6 166.7,63.7 165.8,65.8 165.4,68.6 165.8,72.1 165.8,73.2 168.5,73.9 171.2,75.3 172.9,77.8 173.4,79.2 172.1,81.3 171.2,82.7 169.4,84.1 167.6,85.5 164.5,86.9 163.2,88.3 164.1,90.4 163.2,92.5 163.6,94.6 162.7,97.4 161.9,100.9 159.9,105.2 158.8,104.5 154.8,104.8 152.5,106.9 153.2,109.0 150.8,110.1 148.1,110.4 147.0,109.0 147.0,107.3 145.7,105.5 145.0,103.8 146.6,101.3 145.0,98.8 143.2,96.7 142.4,93.9 141.2,91.8 140.1,89.7 139.2,86.2 138.8,84.4 137.5,83.4 136.8,80.6 137.0,78.5 135.9,80.6 135.3,83.4 133.9,84.8 132.2,85.5 129.5,88.3 127.3,89.7 125.1,91.1 122.8,91.8 120.9,92.0 118.9,91.1 116.2,89.0 114.4,86.2 114.4,84.8 114.0,83.4 117.5,82.5 114.0,82.0 113.1,81.3 112.7,79.2 113.1,77.8 118.4,75.3 113.1,76.9 112.2,76.3 111.5,74.2 111.5,71.1 120.2,69.9 111.8,69.3 111.8,66.5 112.7,65.1 118.0,64.4 112.2,63.8 112.2,63.0 114.4,61.6 119.7,61.9 115.8,60.7 117.1,60.2 120.6,58.1 125.1,58.4 123.3,56.7 126.0,54.6 128.2,52.4 132.2,52.3 136.1,53.5 138.8,51.4 133.9,51.0 132.6,49.6 134.8,47.5 136.1,46.1 140.6,46.5 137.9,44.7 138.8,42.6 142.4,39.1 145.5,38.7 143.7,36.3 146.8,34.2 148.1,29.9 150.3,28.9 152.5,26.4 157.4,26.8 154.3,25.0 156.1,22.6 161.4,21.5 158.3,20.1 160.5,14.5 229.2,14.5ZM169.8,96.7 172.5,92.5 174.3,92.2 172.9,95.0 172.1,97.4 170.7,99.5 170.1,98.5ZM162.3,104.5 164.5,99.5 165.4,96.4 163.9,100.2 162.7,104.1ZM176.5,77.0 177.8,74.9 180.0,75.6 179.1,77.8ZM146.8,22.6 151.2,20.8 156.1,19.0 159.2,17.3 157.9,19.4 153.0,21.5 148.6,23.3Z"/>
<path id="swiss" d="M123.3,164.9 127.7,164.6 132.2,165.3 131.7,168.8 135.9,172.3 134.4,174.4 129.5,177.2 126.8,173.0 120.6,176.9 119.7,173.4 116.6,173.4 118.4,169.5 120.6,166.0Z"/>
<path id="z_all" d="M32.0,267.6 231.5,267.6 231.5,7.5 32.0,7.5Z"/>
<path id="z_ire" d="M40.8,141.0 41.3,140.6 44.4,140.1 45.7,139.2 45.5,138.7 47.2,141.2 48.4,140.1 49.9,138.1 50.7,137.6 54.1,137.9 53.3,137.3 54.7,137.3 57.0,137.4 59.7,138.9 60.8,137.0 61.0,137.7 61.7,136.2 63.9,136.8 65.2,135.4 64.4,131.2 63.9,130.7 63.8,129.8 66.0,125.2 64.6,124.4 64.8,121.4 65.3,121.2 65.7,117.8 64.7,115.5 64.1,114.3 62.9,112.6 62.8,110.4 61.4,110.3 59.4,109.9 57.8,110.6 58.6,110.2 55.7,110.3 55.0,110.9 53.1,108.7 52.8,109.7 50.6,110.0 49.7,109.5 48.3,110.4 46.1,109.7 44.1,108.2 44.6,109.9 42.2,110.2 40.8,108.7 40.8,111.9 39.7,112.1 39.8,116.5 40.2,116.4 39.6,120.4 41.2,121.7 39.8,123.0 40.3,125.2 41.3,126.8 42.0,128.9 40.6,132.7 41.0,133.2 39.8,138.0 41.2,137.9Z"/>
<path id="z_ire_w" d="M40.8,127.7 42.9,126.7 43.8,126.4 44.5,127.9 45.6,128.1 47.2,128.1 49.7,127.7 51.1,124.8 49.6,123.3 50.4,121.8 51.5,118.5 52.3,114.9 52.7,114.6 52.6,111.0 53.2,109.4 51.7,108.4 50.0,108.6 49.0,110.0 48.6,109.8 46.1,109.1 44.8,110.1 43.8,110.4 43.3,108.3 40.8,109.4 41.9,110.4 39.6,114.1 41.3,116.0 40.3,119.8 39.9,119.6 40.6,122.5 40.6,124.2Z"/>
<path id="z_scot_hi" d="M54.1,103.8 54.6,104.5 56.5,103.0 57.7,104.2 59.3,102.6 61.5,103.2 62.5,104.1 63.1,102.4 64.3,105.1 66.3,102.9 67.1,104.7 68.8,102.4 71.6,105.1 72.3,103.8 74.1,101.1 73.0,98.8 74.1,96.7 74.6,93.2 73.1,91.3 72.8,90.0 73.8,87.3 73.6,86.2 71.5,86.9 70.2,87.3 70.4,85.2 66.8,86.6 66.5,85.7 66.3,85.5 64.3,86.3 63.0,85.8 61.1,84.9 58.6,84.6 57.6,85.0 57.8,83.7 55.9,84.1 54.1,84.8 54.2,88.2 53.9,90.4 55.0,91.0 55.4,92.6 52.9,94.7 55.3,98.9 53.7,99.4 53.8,101.8Z"/>
<path id="z_scot_ne" d="M72.3,103.8 74.7,104.8 74.6,103.2 75.1,104.1 78.0,102.9 77.9,102.4 81.1,103.2 80.5,103.2 83.0,103.8 82.4,102.0 81.9,100.3 82.5,97.6 82.8,96.1 83.8,93.7 83.8,91.8 83.0,88.0 83.0,86.2 82.9,85.9 80.5,86.7 79.8,86.6 78.2,85.6 75.4,85.0 75.2,86.5 73.6,86.2 74.6,89.6 74.7,91.3 73.2,93.9 73.3,94.0 74.1,96.7 73.2,98.5 72.8,102.7Z"/>
<path id="z_scot_isl" d="M73.6,86.9 75.4,86.4 76.3,85.9 77.7,88.3 79.6,86.5 81.1,88.2 80.5,88.2 82.5,86.6 85.5,87.8 86.5,88.1 87.6,87.7 88.3,86.2 89.6,86.9 88.7,84.2 88.4,81.9 88.7,79.0 89.7,78.2 88.5,77.2 89.1,73.0 90.9,71.4 90.3,68.8 89.6,67.2 89.3,67.6 87.8,67.5 84.9,67.5 83.6,65.9 82.6,68.1 82.8,67.9 81.1,67.4 79.6,67.1 77.5,67.6 75.5,66.0 76.2,67.4 73.6,67.2 73.2,69.1 74.5,72.7 72.5,74.0 72.9,75.3 72.9,76.7 72.9,81.7 72.7,81.6 74.5,83.7Z"/>
<path id="z_faroe" d="M54.1,69.3 54.5,70.4 58.2,70.4 58.3,67.9 59.7,70.3 62.0,68.5 63.0,69.3 63.3,66.0 62.9,64.0 62.9,61.1 63.0,60.2 61.4,59.0 60.4,61.1 58.7,59.8 56.5,58.9 55.6,60.2 54.1,60.2 53.1,62.6 54.4,65.1 53.4,67.1Z"/>
<path id="z_scot_s" d="M58.6,115.7 60.7,115.4 60.9,117.0 63.2,116.3 64.5,116.0 66.2,114.6 67.6,116.8 68.9,115.5 69.7,115.9 71.9,116.9 72.8,114.8 73.1,114.4 76.0,115.9 76.0,115.8 77.3,114.8 78.0,114.9 79.8,115.1 80.4,114.5 81.6,116.1 84.3,115.7 84.4,112.0 83.4,110.4 85.4,109.8 84.5,107.1 84.3,103.8 82.4,104.7 82.5,104.1 81.5,103.3 78.2,102.3 77.4,102.8 76.0,104.9 74.3,104.4 73.2,104.4 72.2,104.8 70.9,103.5 68.6,102.8 67.4,102.5 68.0,104.0 64.5,103.0 64.2,103.9 63.2,102.5 61.5,103.2 61.2,103.7 58.6,103.8 59.6,107.1 57.5,108.1 59.7,112.3 57.6,114.2Z"/>
<path id="z_eng_n" d="M73.2,127.0 73.6,127.5 77.2,125.5 76.0,126.3 79.1,126.4 78.6,128.1 82.0,127.4 81.6,126.7 84.4,127.5 85.6,127.4 86.3,128.1 87.4,127.4 89.3,126.2 90.0,126.4 91.5,127.3 93.1,127.0 93.2,124.1 93.0,121.5 94.0,120.8 94.3,119.0 93.1,115.7 91.5,116.2 90.1,116.0 89.8,115.7 87.9,116.3 85.6,114.6 84.7,114.3 85.0,115.7 83.6,115.5 81.7,115.8 79.4,115.9 78.7,114.5 76.0,116.5 76.6,115.9 74.7,116.4 73.2,115.7 72.4,117.1 72.0,120.9 73.5,121.5 72.3,123.7Z"/>
<path id="z_wales" d="M65.2,137.5 65.7,136.5 68.0,136.6 70.2,138.4 70.3,138.7 73.7,136.9 73.5,136.3 76.5,137.3 76.7,137.5 75.8,133.7 76.8,132.9 77.4,131.1 75.5,129.4 77.2,124.4 76.7,123.4 76.5,124.4 73.4,123.4 72.2,123.9 72.3,124.9 70.6,122.9 68.3,122.1 66.4,124.2 65.2,123.4 64.9,126.6 64.6,129.1 65.3,129.9 64.0,133.1 65.2,134.8Z"/>
<path id="z_eng_sw" d="M63.0,149.5 64.8,150.3 65.4,150.5 66.6,148.4 69.1,149.6 69.9,150.1 70.8,148.5 71.3,148.6 72.6,150.6 74.1,150.2 75.7,148.3 77.4,150.1 79.0,149.5 79.5,146.5 80.3,144.0 78.0,142.4 78.3,142.2 79.0,138.9 77.6,137.6 76.8,138.1 74.5,139.4 72.8,139.7 72.8,137.5 70.1,140.3 70.2,138.9 67.9,139.4 67.2,139.0 66.1,139.8 64.4,139.9 63.0,138.9 64.0,141.5 63.9,141.9 62.1,143.9 63.7,148.1Z"/>
<path id="z_eng_mid" d="M76.7,138.9 77.1,137.7 78.9,140.2 81.7,138.9 82.1,138.4 83.6,137.5 85.9,139.0 87.6,139.5 87.2,138.9 89.6,138.9 89.9,135.6 89.1,134.0 89.4,132.2 89.9,130.5 89.6,127.0 87.1,125.7 86.9,126.1 84.8,126.3 84.9,127.0 83.2,125.9 80.3,126.7 80.3,126.4 77.5,127.7 76.7,127.0 76.9,129.7 77.5,130.3 78.0,133.2 77.2,135.9Z"/>
<path id="z_eng_s" d="M79.0,145.2 79.0,144.5 82.8,143.9 82.8,145.9 83.5,144.4 84.4,143.9 88.2,145.5 87.8,144.5 89.3,144.5 91.7,145.7 91.0,144.1 94.9,145.1 95.0,143.9 97.4,146.2 97.6,145.2 97.5,142.2 97.6,138.9 96.6,139.2 95.3,138.0 93.3,139.2 92.3,139.1 91.8,138.0 89.8,140.2 87.8,138.4 87.1,138.5 86.0,137.5 85.5,138.6 81.8,137.9 80.6,137.9 80.2,138.8 79.0,138.9 80.1,141.8Z"/>
<path id="z_eng_e" d="M89.6,138.9 90.1,137.8 91.5,138.8 94.7,140.2 95.7,137.8 98.0,137.7 98.5,138.9 97.4,135.4 98.4,133.7 99.1,131.6 99.7,128.3 98.5,127.0 97.9,128.4 95.8,125.5 94.0,126.8 93.1,128.3 90.9,126.0 89.6,127.0 89.8,128.0 90.2,131.2 88.8,133.0 89.0,136.0Z"/>
<path id="z_fens" d="M87.8,131.2 89.1,130.4 90.8,130.3 92.7,131.2 92.8,128.6 92.7,126.3 89.9,125.2 90.2,126.1 87.8,126.3 86.6,129.3Z"/>
<path id="z_brittany" d="M67.4,167.7 68.1,166.4 70.5,168.6 71.1,166.6 71.8,169.0 73.8,167.9 75.2,166.8 78.3,168.3 77.7,166.5 80.3,166.9 81.5,167.9 83.0,167.7 81.8,165.1 81.7,162.1 83.3,160.4 82.8,158.3 83.0,155.1 81.9,155.3 79.2,154.7 78.8,154.8 78.6,153.9 74.6,155.0 74.2,155.5 73.1,156.5 72.0,154.1 70.2,155.5 69.9,156.2 67.4,155.1 68.2,158.7 67.5,159.7 68.3,161.6 68.1,165.2Z"/>
<path id="z_normandy" d="M81.2,159.3 81.4,158.7 84.1,160.6 85.0,158.2 87.1,158.0 87.4,159.0 88.5,160.7 90.2,159.4 92.5,160.6 94.2,158.7 95.7,159.0 95.5,158.9 97.1,159.3 95.9,155.8 98.0,156.1 96.2,152.2 97.1,151.3 97.1,148.1 97.1,147.5 94.4,147.2 92.1,147.4 92.3,147.5 89.9,147.8 88.6,148.4 86.9,146.8 87.5,147.1 85.4,147.3 84.2,147.1 81.7,148.3 81.2,148.1 80.3,150.1 79.9,151.6 80.5,155.0 80.0,157.2Z"/>
<path id="z_fra_n" d="M96.2,160.0 97.7,161.4 98.1,159.5 99.8,159.2 103.0,159.7 103.2,158.5 105.0,160.3 107.0,159.9 108.0,160.5 109.9,160.5 110.0,160.0 110.4,156.5 110.0,155.7 109.8,154.4 109.2,151.6 110.8,149.3 110.1,146.9 109.1,142.8 111.3,142.0 110.0,139.6 108.8,138.9 107.4,139.1 105.7,140.4 105.5,140.3 102.0,140.0 101.1,141.0 100.0,138.6 97.7,140.3 97.7,139.5 96.2,139.6 96.3,142.3 95.6,143.6 97.4,145.7 95.1,148.5 96.2,150.0 95.6,152.2 96.3,154.0 95.2,156.3Z"/>
<path id="z_fra_ne" d="M110.0,166.3 112.4,166.1 111.7,166.7 113.6,167.2 115.1,167.6 117.4,167.7 118.7,167.5 120.0,165.1 120.6,165.9 122.8,166.3 124.0,167.7 124.4,166.4 126.4,166.3 127.7,165.0 127.3,161.2 126.3,160.5 125.4,158.6 125.7,156.0 127.1,152.4 127.6,150.3 126.4,148.1 124.2,147.1 124.6,148.9 121.3,147.4 119.9,148.4 119.5,147.6 117.6,148.9 117.2,147.4 114.6,148.6 114.9,148.8 112.3,149.4 111.2,147.9 110.0,148.1 109.5,150.4 110.8,151.4 109.9,153.9 109.2,156.9 111.1,158.3 110.3,161.7 108.8,163.9Z"/>
<path id="z_fra_w" d="M78.5,179.0 80.8,178.3 82.5,180.3 83.0,180.4 83.1,177.9 86.6,179.3 87.8,180.4 88.7,180.1 89.8,179.2 92.1,178.1 92.1,179.1 93.4,180.3 94.9,179.0 95.7,177.6 96.1,175.4 96.2,173.0 94.1,169.5 93.9,169.3 95.5,165.3 95.5,163.4 94.6,161.6 94.9,159.3 93.2,160.0 92.7,160.2 90.8,158.0 89.5,160.6 88.0,159.6 87.0,157.9 84.8,158.6 84.2,159.0 83.9,160.0 82.2,158.6 81.1,160.7 78.5,159.3 79.4,162.8 77.5,162.8 78.7,165.8 78.3,169.4 78.9,169.0 79.4,173.2 78.5,173.6 77.7,177.8Z"/>
<path id="z_fra_c" d="M94.9,181.8 95.0,181.6 98.4,182.0 98.2,180.5 100.1,181.4 101.4,181.8 102.0,181.8 103.8,180.8 105.1,182.4 106.8,182.1 107.1,181.1 109.5,181.8 110.7,178.5 110.8,177.9 109.5,175.6 109.3,174.5 110.9,171.6 109.1,169.4 108.3,165.7 109.9,163.7 109.5,163.1 109.5,160.0 109.5,161.1 106.0,159.5 105.9,159.9 103.7,161.4 103.4,160.5 100.5,158.9 100.1,158.6 99.4,161.1 98.0,160.7 95.8,160.2 94.9,160.0 94.6,162.8 94.0,164.9 95.9,165.5 95.9,169.3 96.2,170.8 94.8,172.8 95.2,176.3 94.2,176.9 95.3,180.2Z"/>
<path id="z_fra_cw" d="M87.4,176.2 88.8,175.7 90.6,175.7 92.5,176.3 93.6,175.2 95.0,177.6 95.4,176.1 97.9,176.3 99.7,175.8 100.8,177.6 101.7,176.9 102.9,176.2 103.2,173.6 102.2,171.8 103.6,167.2 102.8,166.2 102.9,163.5 102.2,163.5 99.0,162.4 99.4,164.2 98.2,164.1 95.1,162.4 93.9,164.9 93.0,163.2 91.8,163.3 90.7,162.2 89.8,162.6 87.4,163.5 86.6,164.9 86.1,167.3 88.1,169.9 88.0,174.1Z"/>
<path id="z_massif" d="M97.6,188.1 99.4,187.9 101.6,186.8 101.6,188.1 103.5,188.1 104.8,189.4 104.6,187.9 107.1,187.8 109.4,189.4 109.5,188.1 110.2,186.9 110.0,183.5 109.8,180.3 110.6,179.6 109.1,177.4 109.5,174.8 107.6,175.8 106.3,176.1 104.9,175.9 104.3,173.9 103.2,174.2 100.6,176.0 99.0,174.1 98.5,173.8 97.6,174.8 98.4,178.1 96.8,178.5 96.8,180.2 98.0,182.5 98.7,185.0Z"/>
<path id="z_fra_sw" d="M80.7,197.3 81.8,197.6 82.8,198.2 84.2,196.5 85.7,198.4 87.9,198.2 89.4,198.7 89.9,195.9 91.0,198.1 94.6,196.2 95.0,197.4 96.4,195.9 97.6,197.3 96.9,196.4 98.2,191.2 97.7,191.5 98.7,186.9 96.8,187.0 97.3,184.8 96.3,181.0 97.6,179.0 95.7,178.2 94.9,179.5 94.2,178.5 92.4,178.9 89.6,179.5 89.8,177.6 86.8,177.7 87.0,178.4 83.7,178.6 83.5,179.7 81.6,179.7 80.7,179.0 80.1,181.1 82.0,183.9 81.9,186.3 79.8,189.4 80.2,189.5 80.8,193.1 81.5,194.7Z"/>
<path id="z_landes" d="M83.0,193.0 84.1,192.8 85.1,192.4 87.8,190.9 87.4,189.5 86.9,187.2 87.8,183.2 85.3,182.0 85.2,180.2 83.8,179.0 82.5,181.1 82.4,183.3 83.7,185.0 81.8,189.0 81.9,190.3Z"/>
<path id="z_fra_s" d="M97.6,202.2 97.8,203.1 100.0,203.2 102.9,203.2 102.0,201.0 104.5,203.3 106.0,201.5 107.7,201.9 108.0,200.9 110.0,202.2 110.5,200.1 109.4,197.1 109.8,195.2 110.4,191.3 110.0,190.6 110.0,188.1 109.8,187.7 107.0,188.6 105.3,189.0 105.6,189.1 102.2,187.4 101.9,187.0 99.1,189.0 99.8,188.6 97.6,188.1 96.7,189.2 97.4,192.6 97.3,195.9 97.4,198.6 96.6,200.5Z"/>
<path id="z_fra_se" d="M109.5,197.3 109.9,198.2 111.5,197.1 113.3,198.3 114.7,198.0 116.7,198.0 117.0,196.2 117.6,196.2 120.6,196.0 120.3,198.6 122.2,196.5 124.2,197.3 124.4,194.3 124.6,192.1 124.6,191.9 125.1,189.4 123.6,186.2 125.1,183.1 124.9,182.7 125.3,180.3 124.4,178.7 124.4,175.3 124.2,173.4 122.7,173.9 121.1,174.3 120.3,174.1 118.9,174.1 118.0,171.9 116.5,172.2 114.7,174.2 113.5,173.1 111.3,172.7 111.2,174.0 109.5,173.4 110.5,175.0 108.9,176.7 109.5,180.8 108.8,181.4 108.3,185.5 110.1,186.8 110.1,189.1 109.2,190.0 108.7,191.9 108.8,195.4Z"/>
<path id="z_alps_fr" d="M114.9,188.8 116.5,190.3 117.8,188.7 120.5,189.4 119.8,189.6 122.4,188.5 124.2,188.8 122.9,187.7 125.1,184.6 124.3,180.8 125.2,179.3 125.3,178.5 125.1,176.5 124.2,173.4 123.5,172.4 120.3,174.6 119.7,173.9 117.9,174.3 116.8,173.0 114.9,173.4 114.8,175.4 115.6,178.1 114.6,178.8 114.2,181.2 115.5,185.7 114.0,186.0Z"/>
<path id="z_belg" d="M100.7,152.3 101.1,150.9 104.5,152.8 104.1,151.4 106.4,152.7 107.0,151.6 107.5,153.0 109.6,151.5 111.5,152.9 113.8,153.1 114.3,151.9 115.3,151.3 116.0,152.5 118.0,152.3 116.9,151.4 117.5,147.0 117.9,146.8 118.0,144.5 119.3,139.5 118.0,138.6 116.6,137.8 115.4,137.6 114.1,138.0 113.6,139.6 111.0,138.8 111.3,139.5 108.0,139.0 108.3,138.3 105.3,139.2 103.7,138.4 103.6,138.0 103.3,138.7 100.7,138.6 100.1,142.2 101.6,144.5 99.5,145.5 101.4,148.4 100.0,151.2Z"/>
<path id="z_neth" d="M104.2,138.6 105.6,139.7 107.0,137.5 109.6,138.2 111.0,138.9 112.2,138.6 113.2,137.4 114.1,138.2 114.9,138.1 116.2,138.7 117.3,140.0 120.8,138.4 121.1,138.6 121.3,135.6 121.7,133.5 120.7,131.9 119.9,129.1 120.0,127.1 121.4,124.9 121.1,122.0 120.4,121.9 117.6,121.8 118.1,122.7 115.6,122.6 113.4,123.0 112.0,121.9 109.9,123.1 108.9,121.9 107.6,121.7 107.0,123.1 106.0,120.8 104.2,122.0 103.5,123.1 104.1,125.4 104.4,129.8 105.3,130.3 104.4,134.7 103.2,135.2Z"/>
<path id="z_de_nw" d="M116.2,135.4 117.4,136.5 120.0,135.1 121.0,135.5 122.1,134.5 124.2,135.2 123.9,136.2 124.7,135.6 127.6,135.3 129.5,134.0 128.8,136.5 129.9,136.1 133.4,135.2 133.9,135.4 134.4,133.7 134.3,129.5 134.4,128.9 134.9,127.9 134.9,125.5 135.0,120.7 133.9,119.9 132.2,119.2 132.1,120.1 129.8,120.4 128.8,120.0 126.8,120.5 126.8,120.1 125.7,119.2 122.7,119.2 122.9,121.2 119.6,119.2 119.6,120.7 118.7,120.9 116.2,119.9 116.7,123.5 116.8,124.3 116.9,126.5 116.3,129.6 116.5,131.8 116.6,134.3Z"/>
<path id="z_de_n" d="M120.6,132.6 121.9,133.6 123.7,133.7 124.7,134.0 125.4,133.4 126.3,132.5 129.8,131.8 129.1,133.4 131.3,132.4 133.9,132.2 133.7,134.1 134.1,133.4 136.8,132.4 139.0,131.7 139.8,131.7 141.8,132.5 143.1,132.7 144.7,132.2 145.0,132.9 146.1,131.6 147.9,133.9 147.8,131.3 151.4,131.2 151.4,132.2 152.1,131.2 154.3,132.6 154.7,129.1 155.1,127.2 154.6,125.1 153.2,124.6 154.6,121.5 153.2,118.0 155.1,118.5 154.2,115.1 154.3,112.9 152.4,113.8 151.7,114.4 150.3,111.5 149.1,113.4 148.3,112.6 147.1,113.2 144.6,112.0 144.4,113.7 142.6,114.2 140.4,112.5 139.5,111.9 139.1,113.3 137.9,111.7 135.0,112.7 133.4,112.9 133.8,113.6 132.3,113.9 130.0,112.8 127.4,113.7 127.3,111.6 126.5,111.7 125.5,112.3 124.1,112.5 121.3,113.6 120.6,112.9 121.8,114.4 120.7,115.8 121.0,119.3 120.6,121.2 120.8,122.5 121.8,126.6 121.7,128.3 121.0,131.7Z"/>
<path id="z_de_c" d="M116.2,145.9 116.3,144.9 120.2,147.2 119.6,144.9 120.6,146.9 123.7,147.3 124.1,146.1 127.0,146.1 126.9,145.3 127.9,145.6 129.6,145.4 130.4,145.2 131.2,146.4 133.2,146.8 134.8,145.4 135.3,145.4 138.1,144.9 138.5,146.7 140.9,146.7 141.1,146.9 144.1,144.8 145.2,145.3 147.0,144.5 147.7,146.2 148.2,145.1 149.0,146.0 150.5,147.0 153.5,146.5 153.1,145.6 154.9,146.8 157.0,145.9 156.1,142.3 156.4,142.8 157.5,139.9 157.0,135.8 156.0,136.3 157.0,132.6 155.5,132.7 155.5,131.6 152.5,131.8 152.3,132.1 150.2,132.7 150.0,132.7 146.2,132.2 147.3,132.8 144.8,131.9 142.9,133.0 140.9,132.7 139.9,131.5 140.1,133.7 138.0,131.7 137.5,132.8 136.3,131.5 134.8,131.6 131.7,133.5 132.2,132.5 129.8,133.6 128.9,133.1 127.8,133.5 124.9,131.9 125.4,132.1 122.9,133.7 121.2,131.6 119.4,131.7 118.2,132.7 116.9,132.6 116.2,132.6 117.5,134.0 115.2,135.7 117.1,137.8 116.6,141.4 115.8,142.5Z"/>
<path id="z_de_s" d="M116.2,167.7 118.5,166.6 118.4,167.7 121.0,167.2 122.2,166.6 122.1,168.1 125.2,167.1 125.9,166.8 126.1,167.2 129.0,167.7 128.3,168.0 131.1,168.4 131.4,167.7 133.8,166.8 135.7,168.8 137.3,169.1 136.7,167.9 138.4,166.3 140.7,168.0 142.6,168.1 142.4,168.9 143.5,167.4 145.2,166.8 147.4,166.6 148.9,167.9 149.7,166.4 150.8,167.7 151.7,164.6 151.1,163.6 150.7,161.3 151.0,158.4 149.5,157.8 150.6,154.5 150.4,151.8 151.0,151.3 149.9,148.8 150.8,145.9 150.7,145.0 147.1,145.1 146.8,145.2 144.5,145.1 142.8,144.8 142.9,147.1 142.7,147.1 140.3,145.1 140.1,147.4 137.9,147.0 134.8,145.9 134.5,144.6 134.7,144.8 131.9,145.2 132.1,144.6 129.3,147.0 128.2,147.3 126.2,146.8 125.9,144.7 123.7,146.0 123.6,146.8 121.4,146.2 120.3,145.6 117.6,146.5 118.6,146.8 116.2,145.9 115.1,148.7 116.2,150.2 116.2,153.6 116.5,153.6 116.4,157.8 116.2,158.6 116.1,161.8 115.0,163.2 115.4,164.2Z"/>
<path id="z_dk" d="M124.2,114.3 126.1,114.9 127.0,115.3 127.6,113.5 128.8,115.6 129.8,113.7 131.4,114.8 133.8,113.6 135.1,113.0 135.3,115.6 137.3,114.8 139.6,114.7 141.3,115.7 143.1,115.1 142.3,115.7 144.8,113.2 147.1,114.9 147.2,114.3 147.6,111.0 147.5,108.6 147.4,107.7 146.3,104.4 148.4,103.1 146.2,101.0 147.7,98.1 148.5,96.0 147.2,94.9 147.2,91.8 146.9,92.4 144.5,90.8 144.1,92.2 140.9,90.4 140.8,91.4 138.9,91.9 136.6,91.5 137.1,92.6 135.5,90.9 133.5,91.7 132.5,90.7 130.2,93.2 128.3,91.7 128.6,91.6 127.2,92.3 126.4,92.9 124.2,91.8 123.9,95.2 123.3,95.6 124.0,98.9 123.8,100.9 124.2,102.7 123.4,105.4 123.2,107.8 125.2,111.0 125.1,112.2Z"/>
<path id="z_pl_n" d="M151.7,134.0 152.4,134.7 154.4,132.9 154.4,135.0 157.4,133.5 159.4,134.8 158.6,134.5 160.8,134.1 163.5,134.0 164.3,135.0 166.1,134.1 167.7,133.2 168.5,133.2 169.5,134.7 169.4,135.2 172.7,132.6 173.4,134.8 175.2,134.4 175.6,133.3 177.8,135.0 178.1,132.7 179.2,134.9 181.6,135.4 181.3,133.1 184.3,135.4 184.0,134.2 186.0,132.6 188.6,133.3 190.0,134.5 190.1,135.0 191.9,133.5 193.5,134.2 195.1,134.1 196.0,134.0 196.9,131.8 195.2,128.7 196.1,129.0 195.4,124.7 195.1,122.9 196.8,120.6 197.1,119.7 194.9,117.9 196.8,113.6 196.0,112.9 194.8,113.5 194.1,111.9 192.9,111.6 190.3,114.4 188.7,112.4 188.4,113.0 186.2,114.4 185.4,113.0 184.5,114.1 183.6,114.1 180.9,113.5 181.0,114.3 178.8,113.1 177.8,112.0 175.6,112.0 173.8,112.5 172.0,112.4 172.6,113.0 170.4,112.5 169.0,112.9 167.0,112.2 167.7,112.2 165.8,113.0 164.7,112.4 161.2,111.5 161.3,111.5 161.0,112.3 159.6,114.1 156.8,113.3 155.8,112.2 153.1,112.9 154.2,112.3 151.7,112.9 152.0,115.4 150.9,117.8 151.6,117.9 150.7,122.8 152.3,122.8 151.3,124.1 152.4,127.9 150.7,129.2 151.3,130.6Z"/>
<path id="z_pl_c" d="M154.3,141.0 156.3,140.7 156.9,141.9 159.5,141.7 161.0,140.1 162.0,142.3 163.7,140.8 162.5,141.4 164.5,139.7 165.8,140.7 169.0,140.4 168.1,141.8 170.3,140.7 172.2,142.0 174.1,140.1 174.2,141.0 175.8,142.3 175.8,140.8 179.4,141.1 179.6,139.9 180.3,141.6 182.1,140.5 184.0,141.3 185.3,140.5 187.8,141.1 188.3,141.3 190.5,141.2 190.3,140.1 191.3,140.6 192.8,139.8 195.5,142.4 196.0,141.0 195.4,138.2 196.7,136.7 196.0,134.0 195.6,134.7 193.4,133.2 192.1,135.1 189.8,134.5 189.2,134.0 187.8,133.5 185.3,133.6 185.7,133.5 183.7,133.6 183.5,134.2 180.6,134.7 179.9,135.3 178.6,133.4 176.4,132.6 174.8,134.1 174.6,132.6 172.8,133.7 172.8,133.9 171.0,134.2 169.4,134.7 168.1,135.4 165.6,133.1 165.0,133.6 162.9,134.7 161.6,133.1 160.5,133.8 160.6,133.4 159.7,135.4 157.6,132.6 154.5,134.5 154.3,134.0 154.4,136.1 153.3,137.5Z"/>
<path id="z_pl_s" d="M151.7,155.1 153.6,153.7 154.7,155.4 155.8,154.7 157.5,155.7 157.0,154.8 159.1,156.0 162.3,153.7 162.1,155.9 163.0,155.9 164.7,156.5 166.2,153.6 167.4,154.4 168.9,154.6 169.7,153.7 171.4,155.9 174.1,154.9 173.8,155.2 175.1,154.9 177.8,155.6 178.4,154.0 178.7,155.9 182.2,154.6 183.0,153.8 183.0,156.5 186.1,154.4 186.6,155.7 187.9,154.3 187.9,153.7 191.5,154.9 190.4,155.2 193.7,155.0 193.4,155.4 195.5,155.4 195.6,154.4 198.2,155.1 197.1,154.1 199.0,149.6 197.8,148.9 197.6,144.5 199.4,142.2 198.2,141.0 196.7,140.1 194.7,140.7 194.3,140.8 191.7,141.1 191.5,142.4 189.7,140.9 188.4,142.5 187.2,141.2 187.3,141.7 184.1,139.8 183.8,142.1 181.9,142.1 180.1,140.9 180.4,140.0 178.3,141.7 177.7,141.9 174.6,140.4 174.0,142.0 171.8,142.5 172.6,142.4 169.4,139.6 168.5,139.9 168.6,140.1 166.2,141.6 166.0,140.8 164.3,142.4 161.9,141.0 161.0,141.2 158.7,139.7 158.8,141.3 158.3,140.7 155.7,140.3 154.0,142.0 154.2,140.7 151.7,141.0 152.8,141.9 150.6,144.2 151.5,149.5 152.3,150.1 152.0,152.7Z"/>
<path id="z_cz" d="M142.8,158.6 143.5,158.7 146.4,158.9 146.9,157.5 148.3,158.9 150.6,158.5 151.9,158.8 151.7,158.9 153.4,159.5 155.1,157.4 155.5,158.8 159.3,157.4 160.5,159.5 161.5,157.6 162.6,157.5 163.3,158.9 163.8,158.3 167.5,158.4 168.1,159.0 169.6,157.3 171.4,158.8 171.4,157.8 173.4,158.6 174.3,155.2 172.7,153.3 173.5,152.3 173.6,149.6 173.9,148.0 172.8,145.7 174.6,142.1 173.4,140.3 171.8,140.5 169.8,141.2 169.3,141.1 166.9,140.2 165.2,139.7 163.9,141.2 164.3,140.8 161.2,140.9 160.6,139.7 158.5,141.6 157.8,139.5 157.7,139.8 154.8,140.1 154.8,139.0 153.3,139.3 152.3,141.3 149.1,139.9 148.6,139.8 147.8,138.9 144.3,140.6 143.7,140.7 142.8,140.3 143.7,141.6 141.7,145.2 141.8,147.5 143.2,148.1 142.7,150.6 142.7,155.3 144.1,156.0Z"/>
<path id="z_at" d="M131.7,174.1 132.4,173.1 133.4,174.2 135.3,173.2 136.6,174.4 137.5,173.9 141.2,173.8 142.0,174.3 142.0,175.4 143.6,173.8 144.8,174.4 146.6,174.0 149.2,174.7 150.6,173.9 151.4,175.1 151.6,173.6 154.6,172.8 155.0,174.1 157.4,173.4 157.0,173.7 157.9,175.2 161.5,175.3 163.0,174.2 162.8,174.4 163.9,174.3 165.8,174.1 164.5,171.4 165.4,169.0 167.1,168.2 166.9,164.8 166.8,162.2 165.6,161.6 165.8,157.9 165.5,157.6 163.4,157.4 162.1,157.4 160.0,158.6 160.3,157.1 158.9,157.7 157.3,156.7 153.6,159.2 153.2,157.1 153.1,159.3 149.6,156.4 148.7,158.4 148.1,158.9 147.7,157.7 144.8,157.4 144.0,156.6 141.8,158.5 140.6,157.6 141.2,157.5 138.3,157.3 136.9,156.8 136.7,156.7 135.1,158.2 132.2,158.1 131.7,157.9 131.1,161.0 130.6,161.7 132.4,165.1 133.0,167.1 131.5,168.5 131.7,173.2Z"/>
<path id="z_sk" d="M164.1,163.9 166.0,164.0 167.7,165.0 167.8,164.1 169.7,164.5 169.6,163.1 171.5,163.7 173.8,163.2 175.4,163.0 177.2,165.0 177.5,162.8 178.7,163.6 180.6,163.9 182.7,163.8 183.0,165.2 184.5,163.4 184.5,163.4 185.8,163.5 189.0,164.7 189.8,163.9 189.2,161.5 189.6,159.3 190.4,155.9 189.1,156.0 188.7,151.7 189.8,150.2 188.9,151.0 187.2,151.3 185.5,149.8 185.7,151.4 182.0,151.6 182.6,149.2 180.6,149.3 178.7,150.4 178.5,150.4 176.1,151.3 175.9,151.6 172.7,150.4 173.5,150.8 171.0,151.4 168.9,150.1 168.8,150.5 165.7,149.9 165.9,150.1 164.1,150.2 164.3,151.2 163.9,154.6 163.7,156.8 164.2,160.1 164.1,161.5Z"/>
<path id="z_hu" d="M160.5,178.3 162.2,178.2 162.2,178.7 164.4,179.7 165.1,176.9 166.9,179.2 169.4,179.4 169.7,177.5 170.9,179.6 171.9,178.2 175.1,178.3 175.9,177.4 178.0,178.8 178.2,177.8 180.2,178.8 180.9,178.7 180.9,178.9 183.3,177.6 186.1,178.4 187.3,177.7 186.9,177.2 188.6,178.4 190.8,176.8 191.6,178.3 190.6,177.4 192.6,174.1 191.6,172.4 191.6,168.7 192.0,166.5 191.0,165.2 191.6,162.1 190.6,162.8 189.0,161.3 188.5,161.0 186.0,162.8 184.4,162.6 183.4,161.6 183.1,161.9 180.2,160.8 180.6,161.5 178.2,162.1 176.0,162.2 174.4,162.1 175.3,163.0 172.3,161.6 170.7,162.0 169.4,161.6 169.2,161.5 166.1,160.8 164.9,163.1 165.3,163.2 162.2,161.6 161.4,161.0 160.5,162.1 159.8,164.6 161.0,166.9 161.7,167.9 161.0,171.3 161.5,172.3 160.8,176.5Z"/>
<path id="z_hu_e" d="M179.6,174.1 181.3,175.0 181.3,174.3 183.5,174.3 185.3,173.3 188.2,173.8 188.2,173.9 191.0,173.6 191.6,174.1 190.9,172.6 190.3,170.0 191.5,167.9 190.6,164.4 192.5,163.1 191.6,160.7 190.2,160.9 188.0,162.1 188.2,161.4 186.6,159.3 185.0,161.5 183.5,162.2 181.1,160.0 179.6,160.7 178.7,163.8 180.2,164.3 180.8,168.3 179.0,168.2 179.0,171.9Z"/>
<path id="z_si" d="M148.6,180.4 150.7,180.7 150.4,180.5 153.0,180.7 154.6,179.1 155.9,180.7 155.8,179.3 157.6,180.0 159.6,179.3 160.3,179.5 163.0,181.7 163.2,180.4 162.9,179.2 164.0,175.0 161.9,175.2 163.5,172.4 163.2,169.8 161.9,169.3 159.6,170.6 159.3,170.4 157.2,168.6 156.8,170.0 154.5,170.5 153.3,169.1 152.5,169.2 152.0,170.0 151.1,169.2 148.6,169.8 148.4,171.0 148.6,173.8 147.8,175.7 149.2,178.2Z"/>
<path id="z_it_alps" d="M118.9,177.6 121.0,177.5 120.9,178.5 123.5,178.5 123.3,176.6 126.4,178.4 125.7,178.8 128.4,177.1 129.6,176.9 131.3,177.2 133.1,177.7 132.9,178.3 133.8,178.5 136.1,177.9 138.2,178.4 139.4,178.9 139.3,178.8 142.2,176.2 143.0,178.7 145.2,177.7 146.1,177.7 145.5,176.3 149.2,177.0 149.1,176.1 150.8,177.6 151.8,175.3 151.6,171.3 150.7,169.6 150.8,167.7 149.7,167.1 147.7,167.2 148.0,168.6 145.9,169.2 143.3,167.6 143.5,168.4 142.7,167.7 139.1,167.3 138.6,168.1 138.0,168.0 137.4,168.3 134.9,169.0 134.2,167.8 131.6,167.2 130.5,166.6 128.6,167.8 127.3,166.9 127.5,166.4 124.2,167.7 124.9,168.0 121.6,168.3 121.7,167.9 121.4,167.4 118.9,167.7 119.0,169.1 120.0,172.9 119.7,174.9Z"/>
<path id="z_it_po" d="M122.4,186.0 123.5,186.6 124.8,187.1 127.5,185.4 127.8,185.7 128.0,187.1 130.8,187.1 130.8,186.6 134.4,185.1 135.4,186.6 137.1,187.2 138.0,186.6 138.0,186.9 140.0,185.6 141.3,186.1 141.4,184.8 145.0,186.2 145.5,186.0 146.6,183.2 144.7,182.3 144.6,180.5 145.5,176.9 145.0,176.9 142.2,177.2 142.3,175.6 141.1,175.5 139.2,177.7 137.8,175.8 136.4,176.2 134.1,177.9 134.2,176.0 132.2,176.0 129.5,176.8 129.8,177.7 128.1,177.7 126.2,177.1 126.2,177.6 124.2,177.1 122.4,176.9 123.4,178.8 123.3,182.4 121.2,184.5Z"/>
<path id="z_it_nw" d="M118.9,192.3 120.0,191.4 122.6,192.8 121.7,191.6 123.7,193.2 125.7,191.4 127.8,193.7 128.9,193.1 128.8,193.7 130.0,193.0 132.8,193.5 133.9,192.3 134.7,190.4 133.9,186.0 132.6,185.7 132.2,187.3 130.2,186.1 127.2,187.1 126.0,187.2 127.0,186.1 124.3,186.2 122.8,184.7 121.2,187.0 120.6,184.9 118.9,186.0 118.6,190.6Z"/>
<path id="z_it_c" d="M131.7,209.2 132.1,209.7 134.6,208.0 135.8,209.3 136.5,209.8 139.2,208.0 138.6,210.4 141.8,209.5 141.7,210.4 144.3,210.2 145.0,208.6 147.3,210.2 148.0,209.3 148.3,209.3 151.7,210.2 150.9,207.8 153.5,209.6 155.6,208.0 156.1,209.2 155.9,205.7 156.9,205.8 155.9,204.0 157.0,199.5 156.3,198.2 155.2,195.9 156.4,194.3 157.1,191.4 154.8,190.8 155.1,186.8 156.1,186.0 155.0,185.1 153.8,185.7 152.8,185.3 150.3,185.1 148.0,186.5 148.1,186.6 147.5,185.1 145.4,185.9 145.1,185.0 143.7,186.5 140.7,185.5 139.0,185.9 138.0,187.4 136.0,186.5 136.7,186.2 133.7,187.4 131.9,187.4 131.7,186.0 132.4,187.7 132.1,191.3 131.5,192.9 131.9,194.7 131.9,196.6 131.7,199.3 130.7,201.2 132.8,202.0 131.2,205.4 130.4,207.0Z"/>
<path id="z_it_s" d="M149.4,233.8 152.1,232.6 152.5,234.1 154.0,233.6 154.2,233.0 155.8,233.2 157.1,234.2 158.5,234.6 160.1,233.4 161.0,234.0 161.9,234.6 163.4,233.7 166.1,232.8 166.9,235.2 168.3,233.3 170.1,233.9 171.6,232.9 172.1,233.8 173.2,230.8 173.0,230.0 170.9,226.0 172.6,225.7 172.4,222.0 171.4,221.6 172.2,217.7 172.5,215.5 172.9,212.8 171.9,210.4 171.0,208.3 171.2,207.2 172.1,205.0 170.8,204.5 169.4,204.8 166.7,204.5 167.1,203.9 165.6,204.9 163.2,203.9 163.6,203.9 162.5,203.7 160.7,204.9 159.5,204.8 158.2,205.4 157.1,205.8 153.5,204.9 152.6,206.5 151.8,203.6 150.9,204.0 149.4,205.0 148.9,207.0 148.6,208.1 150.8,212.4 150.1,214.0 149.3,217.2 148.9,218.5 150.7,219.6 150.5,223.8 148.5,224.0 148.9,225.7 148.2,229.0 148.8,231.7Z"/>
<path id="z_sardinia" d="M125.1,226.8 126.9,225.7 127.1,225.4 129.9,226.2 129.6,225.8 132.4,227.2 133.5,226.8 133.0,224.8 134.0,223.2 133.3,220.5 134.7,218.1 133.8,216.2 133.8,215.0 133.9,211.7 133.5,209.2 131.6,208.9 129.6,207.9 130.3,210.5 128.0,209.1 126.4,210.1 125.1,209.2 126.4,210.8 123.9,213.6 124.7,215.7 123.9,217.3 124.6,218.9 124.5,223.3 126.2,225.2Z"/>
<path id="z_corsica" d="M127.3,209.2 129.5,209.6 131.3,210.5 132.2,209.2 131.6,206.5 131.7,204.9 131.0,203.0 132.2,199.4 131.6,197.3 132.2,196.6 129.4,195.5 128.9,197.3 127.3,196.6 127.9,199.8 128.0,200.4 127.4,202.9 127.1,204.9 126.1,208.4Z"/>
<path id="z_sicily" d="M144.1,243.0 145.2,243.4 147.4,241.8 148.5,243.1 148.6,243.7 149.8,242.7 151.7,244.1 154.5,241.9 155.1,241.8 156.8,242.1 158.5,242.6 159.2,243.0 159.4,241.9 159.8,239.6 159.3,237.5 159.0,232.9 159.5,230.8 159.2,229.6 156.9,229.8 156.3,230.0 154.5,228.5 153.4,228.7 153.2,230.9 150.0,228.6 149.0,228.9 147.5,230.3 148.1,230.5 144.3,231.0 144.1,229.6 142.9,230.9 143.7,233.1 143.8,236.0 145.0,237.1 145.1,239.6Z"/>
<path id="z_galicia" d="M47.5,205.7 47.7,204.7 49.1,206.7 51.5,204.6 53.4,206.3 54.2,205.1 56.0,205.3 57.3,206.3 56.9,206.6 58.5,206.4 60.8,205.7 60.2,204.0 60.9,202.1 60.2,199.6 61.2,197.4 61.0,195.3 62.0,193.5 60.8,190.9 59.6,190.2 57.0,190.0 55.5,189.9 55.8,190.2 55.3,190.5 51.8,192.3 50.1,191.5 49.2,192.3 49.4,189.6 47.5,190.9 47.4,192.8 46.2,194.9 47.8,197.8 46.5,200.7 48.5,202.9 47.0,204.3Z"/>
<path id="z_pt_n" d="M47.0,221.9 47.7,222.5 49.1,221.1 51.4,221.2 52.5,223.3 54.3,222.5 55.4,222.9 56.1,220.6 57.0,221.3 58.6,221.3 60.8,221.9 60.0,218.8 60.7,217.5 61.0,214.3 61.9,212.0 60.5,209.0 61.3,207.7 60.8,205.0 58.3,203.7 57.1,205.9 57.0,206.5 55.3,206.4 53.8,203.8 51.5,206.1 50.4,205.0 50.3,204.7 47.3,205.1 47.0,205.0 47.8,206.3 46.2,210.0 46.3,212.9 48.1,215.1 48.3,218.2 46.3,218.3Z"/>
<path id="z_pt_s" d="M46.2,240.1 47.2,241.5 48.2,240.2 49.8,238.9 53.2,240.2 52.1,239.0 54.3,241.2 57.5,240.6 57.7,240.1 56.6,238.3 58.3,237.0 56.9,234.5 57.8,232.1 57.3,228.7 57.1,226.2 57.0,223.8 57.7,221.9 55.1,220.9 54.7,222.4 54.3,222.8 52.8,221.7 51.0,221.6 48.8,222.0 48.9,222.4 46.2,221.9 45.4,225.0 47.3,225.3 46.0,227.9 46.5,230.5 46.0,234.0 47.2,235.8 45.3,237.6Z"/>
<path id="z_es_n" d="M60.8,200.1 61.7,199.2 63.4,199.2 65.8,201.4 67.4,200.7 68.8,201.5 69.9,200.9 71.5,200.1 73.2,201.0 72.2,198.6 75.7,200.2 76.3,201.1 76.1,200.8 79.1,200.2 80.7,199.7 81.2,200.8 83.0,200.1 83.3,198.3 83.6,193.6 83.0,191.6 82.0,192.2 80.6,192.7 79.3,191.5 77.8,192.9 75.1,190.2 75.8,191.8 73.6,191.8 73.1,192.1 71.4,191.5 68.5,192.4 67.1,191.6 67.1,192.3 64.5,192.4 63.5,191.2 61.8,192.8 60.8,191.6 59.6,195.1 60.1,196.0Z"/>
<path id="z_es_cn" d="M59.0,215.5 60.2,214.2 63.1,216.8 62.3,214.6 63.3,216.8 66.7,215.2 67.4,216.8 69.4,215.0 69.3,214.2 70.3,214.5 73.3,215.0 74.8,216.4 75.4,215.5 75.8,214.5 76.1,212.4 75.5,207.3 76.4,206.9 75.8,203.5 75.9,202.2 75.4,199.4 73.3,200.1 72.8,199.5 70.4,198.2 70.4,199.6 69.3,198.6 67.6,200.0 66.6,200.4 64.1,199.1 62.3,200.7 61.2,198.5 60.6,200.3 59.0,199.4 59.9,201.0 59.1,204.8 58.7,205.4 59.5,207.9 58.9,210.7 58.2,213.1Z"/>
<path id="z_es_cn_dk" d="M62.1,213.4 63.4,214.2 65.2,212.1 65.7,213.0 68.0,213.8 69.2,213.4 68.3,212.4 70.4,209.5 68.3,207.3 69.7,204.2 69.2,202.9 66.5,203.1 67.5,202.1 64.9,201.6 62.2,202.3 62.1,202.9 63.1,205.6 61.5,208.0 61.1,210.6 61.6,212.3Z"/>
<path id="z_es_c" d="M60.8,229.6 62.4,229.6 63.4,230.7 66.1,228.3 65.3,228.9 67.3,228.3 70.2,230.4 69.5,230.3 72.5,229.5 73.9,231.0 75.4,230.3 76.4,228.7 76.0,228.9 77.5,230.6 79.7,229.5 79.8,229.1 81.6,231.0 84.2,228.7 85.2,229.6 84.9,227.9 84.1,225.8 86.2,222.4 83.9,221.0 86.0,217.8 85.2,215.5 84.4,216.6 83.7,216.0 82.3,215.2 79.0,216.7 79.6,215.4 76.7,215.0 74.8,216.0 74.8,216.0 73.7,214.1 72.6,215.2 70.8,214.1 68.8,215.0 67.9,214.8 65.7,216.8 65.0,215.9 64.7,217.0 61.6,215.9 60.8,215.5 59.6,218.7 62.0,221.0 61.4,223.1 61.6,225.9 60.9,228.2Z"/>
<path id="z_es_ne" d="M75.4,215.5 77.0,215.3 78.1,214.5 79.7,214.3 81.8,215.1 82.4,214.3 84.7,216.9 84.0,214.9 87.1,216.0 87.8,214.4 87.5,216.6 90.5,216.0 92.7,216.1 91.7,215.9 95.2,215.5 95.3,216.5 97.8,216.6 99.2,215.3 99.0,215.5 100.7,216.5 102.1,215.2 102.5,216.3 104.7,215.5 105.2,214.2 104.5,210.6 103.5,209.7 105.1,204.5 105.3,203.5 105.2,201.7 104.7,198.7 102.0,200.0 101.7,199.3 101.4,199.9 100.3,198.4 99.0,198.7 97.8,198.4 95.2,197.6 93.2,197.5 91.4,200.1 90.1,198.8 91.1,199.0 88.6,199.2 88.2,198.8 85.1,199.8 84.9,199.9 83.9,199.2 83.4,199.8 80.4,197.6 79.8,198.3 77.4,197.7 75.7,198.4 75.4,198.7 76.3,201.8 74.1,204.6 75.9,206.0 76.3,208.6 75.7,210.4 74.5,212.2Z"/>
<path id="z_es_e" d="M81.6,237.3 84.0,238.5 84.0,237.1 86.3,238.6 87.7,238.1 87.8,238.2 91.7,237.9 91.8,237.3 92.5,233.8 91.6,233.9 91.2,230.3 90.8,228.0 90.7,226.8 93.1,225.6 90.7,222.2 92.8,219.5 91.9,218.7 91.8,215.5 89.8,214.9 89.9,214.7 86.5,216.2 85.9,214.3 83.9,214.4 82.1,216.8 81.6,215.5 81.4,217.4 82.6,221.2 81.3,221.9 80.8,224.6 82.0,226.1 82.1,229.7 81.3,229.7 80.5,233.9 82.2,234.4Z"/>
<path id="z_es_s" d="M56.4,246.5 58.0,247.1 59.5,247.3 59.2,246.6 60.4,247.9 63.9,247.9 64.0,245.9 66.6,247.9 67.5,246.0 68.8,246.1 69.6,245.6 71.5,246.1 71.6,247.3 73.1,245.5 73.7,247.3 77.4,246.7 76.5,247.3 79.2,247.5 81.3,247.1 80.6,246.0 83.0,246.5 84.1,243.0 84.2,241.0 83.5,238.2 81.8,236.8 82.5,234.9 84.2,230.9 83.0,229.6 81.7,228.3 80.9,229.0 77.9,231.0 78.6,230.2 76.1,228.5 75.7,230.2 74.1,228.7 73.0,230.2 70.4,230.0 70.5,229.9 69.2,231.1 67.8,229.4 66.3,229.1 63.3,229.4 62.6,228.3 61.9,229.0 60.5,230.4 59.0,229.5 57.2,230.2 56.4,229.6 55.8,231.3 55.4,235.5 55.7,237.6 56.7,239.2 55.5,241.2 57.1,243.2Z"/>
<path id="z_es_se" d="M76.7,242.3 77.4,242.6 78.3,243.3 82.1,241.1 81.3,241.9 83.1,243.0 85.6,242.8 84.9,243.1 87.4,242.3 86.7,240.1 88.0,236.0 86.5,234.4 88.6,232.0 87.4,229.6 86.1,228.3 86.0,230.7 83.3,230.2 81.9,229.5 80.4,228.2 80.3,230.4 77.3,231.1 76.7,229.6 77.2,233.4 75.6,234.3 75.7,237.2 75.7,239.2Z"/>
<path id="z_balear" d="M94.0,228.2 95.5,228.6 97.2,227.7 97.7,227.7 100.3,229.2 101.0,226.9 102.5,227.3 102.8,226.7 104.4,229.5 105.6,227.1 108.4,227.9 109.5,228.2 109.8,225.5 109.0,223.5 109.0,221.6 110.1,219.7 109.5,216.9 109.2,215.9 106.2,217.3 104.0,217.1 105.2,216.5 102.1,215.7 100.0,218.4 99.8,218.3 99.3,217.2 96.8,218.0 94.6,218.4 94.0,216.9 93.6,220.5 94.1,220.5 93.0,223.2 95.0,227.1Z"/>
<path id="z_se_n" d="M133.9,60.2 135.6,60.4 136.2,59.3 137.9,60.6 139.6,58.8 141.0,59.2 142.8,60.9 142.0,59.6 144.3,60.9 144.9,60.2 146.5,60.5 149.6,59.9 150.5,59.5 150.5,59.8 153.5,60.1 154.0,59.3 154.8,61.4 156.7,59.3 158.9,60.5 158.7,60.9 161.3,59.6 161.9,60.3 162.6,59.2 164.6,60.8 164.8,60.1 167.0,60.2 167.9,59.5 170.9,59.3 171.8,58.8 173.6,60.2 173.2,59.6 176.1,60.4 177.8,59.3 178.9,59.7 178.7,60.3 181.0,59.6 180.9,60.9 183.3,60.8 183.5,59.1 185.6,61.4 186.3,60.4 188.3,61.2 189.1,60.8 192.8,61.2 193.3,59.6 195.2,59.3 196.6,61.6 196.9,60.2 197.2,57.6 195.7,54.5 195.7,53.1 196.9,50.6 198.0,50.6 195.9,47.6 197.4,45.1 196.7,42.4 197.7,41.7 197.1,39.6 197.8,37.4 197.6,35.3 197.7,31.1 196.6,29.3 195.9,27.8 196.4,25.5 196.1,21.8 197.4,20.3 195.7,18.4 195.7,17.5 196.9,14.5 196.2,14.3 194.8,14.7 192.7,13.8 190.6,13.5 191.4,15.1 188.4,14.8 186.6,15.3 187.0,13.2 184.1,14.1 183.5,14.6 182.0,14.8 179.8,13.7 180.8,13.1 177.6,14.9 178.0,14.4 175.1,13.4 173.2,14.1 174.0,15.9 172.0,14.3 170.5,15.4 169.6,14.5 168.0,13.2 164.8,15.6 166.0,15.6 162.3,15.0 160.8,15.7 161.3,15.0 159.2,13.7 158.2,13.3 157.4,15.3 155.0,14.3 154.4,14.0 152.0,14.1 152.4,13.4 150.4,15.5 148.6,14.7 147.5,14.0 146.1,13.9 145.5,14.2 143.4,14.6 140.9,15.4 140.2,15.4 139.8,13.2 138.5,13.3 137.7,13.8 135.3,13.7 133.9,14.5 135.1,15.6 133.4,19.2 134.8,20.2 133.0,23.1 133.9,26.7 134.3,27.8 134.1,29.2 134.8,32.9 134.0,34.4 134.2,35.9 132.8,39.4 134.4,40.0 133.2,41.8 134.7,45.3 134.6,46.0 133.1,48.7 134.2,51.9 134.0,52.2 134.5,56.3 133.6,57.3Z"/>
<path id="z_se_c" d="M133.9,77.8 134.1,77.1 135.4,77.4 136.9,78.4 140.4,77.3 140.2,77.3 141.3,78.1 143.1,77.9 145.6,77.1 145.5,78.9 147.9,78.8 149.1,77.9 149.1,77.5 152.2,76.5 151.8,76.9 153.4,76.7 155.5,78.0 156.8,77.8 157.6,77.8 159.8,78.4 159.8,77.9 162.1,76.8 164.1,78.1 163.8,77.7 165.9,78.8 167.1,77.6 168.6,78.6 171.4,77.6 171.9,76.7 173.5,77.2 175.5,76.8 176.1,76.8 177.3,77.6 178.3,77.8 179.5,75.5 178.2,72.8 178.3,69.7 177.6,70.4 177.6,65.8 177.3,66.0 178.9,63.5 178.3,60.2 177.1,60.5 174.7,59.6 174.8,60.5 172.4,58.8 172.7,59.3 171.2,61.1 168.7,59.0 166.4,60.1 166.6,60.4 166.0,59.5 164.6,59.9 163.0,60.1 159.8,59.0 159.4,60.3 158.4,60.2 155.8,59.7 155.7,59.6 154.0,61.0 152.7,59.8 152.4,61.0 151.2,60.3 149.9,59.7 147.4,61.5 147.3,59.3 144.8,60.9 144.2,59.8 143.2,60.4 140.7,60.1 140.0,61.2 138.8,60.6 136.2,61.5 134.4,58.8 133.9,60.2 133.0,62.0 134.5,63.7 132.8,66.7 135.2,70.0 133.6,72.1 133.1,73.6 134.1,76.2Z"/>
<path id="z_se_m" d="M133.9,89.0 136.6,89.9 136.6,90.4 138.5,89.0 138.5,87.6 140.2,90.1 142.6,88.1 144.5,89.3 145.8,90.4 147.2,89.3 147.8,89.7 149.5,88.3 150.7,90.3 150.6,90.3 151.4,87.9 154.0,89.5 155.6,89.8 155.4,88.0 157.4,88.4 160.3,88.6 159.6,87.9 163.3,88.3 162.7,90.1 164.4,89.3 166.6,88.9 167.9,88.4 168.2,89.0 169.2,89.0 171.6,87.9 172.7,88.0 173.5,88.9 175.1,89.8 177.2,89.6 178.3,89.0 177.9,87.7 178.9,84.5 177.7,81.8 177.7,81.4 178.3,77.8 178.1,78.4 175.3,77.9 173.1,78.8 172.0,77.5 170.6,78.8 169.7,77.8 168.5,76.5 168.1,79.1 167.5,76.7 165.9,79.0 163.4,77.7 163.0,76.3 161.7,78.1 158.6,78.2 157.9,78.8 155.6,78.1 154.8,77.4 154.0,77.4 153.2,77.5 150.6,76.5 149.7,76.5 150.0,77.3 146.9,78.4 146.7,77.7 143.8,76.3 143.8,76.9 142.0,77.7 141.0,79.1 139.3,76.3 136.7,77.1 136.2,78.5 135.2,77.4 133.9,77.8 133.4,80.1 132.6,82.4 134.8,85.5 133.9,87.1Z"/>
<path id="z_se_s" d="M133.9,112.9 134.5,114.3 136.4,113.2 137.7,113.6 138.9,113.3 141.7,112.5 143.1,113.4 143.3,111.7 145.0,112.1 146.0,113.4 147.7,112.4 149.5,113.3 149.6,113.3 151.4,114.0 153.1,113.1 153.6,114.0 154.6,111.7 158.1,113.7 157.7,112.8 158.8,112.4 162.1,113.4 162.3,113.1 164.4,113.7 165.6,114.3 166.1,113.9 168.0,113.8 168.3,112.9 169.8,111.7 171.0,112.0 173.0,114.3 174.3,113.2 175.5,111.7 176.8,112.0 178.3,112.9 178.0,111.8 178.2,108.1 178.5,107.7 179.2,105.4 177.2,101.3 179.2,99.0 179.2,96.3 177.7,96.1 178.1,93.2 177.7,92.0 178.3,89.0 177.9,88.7 175.6,88.9 175.1,89.3 174.2,89.4 171.7,89.5 171.5,88.4 168.1,89.0 167.7,89.0 166.7,88.9 163.8,88.9 162.6,89.9 162.8,90.2 162.0,87.6 158.8,89.8 158.6,89.2 157.2,88.4 155.3,89.2 154.3,89.8 153.4,89.4 151.9,87.8 150.7,90.3 147.9,89.0 147.1,88.9 145.0,88.8 146.0,89.6 143.5,88.0 142.3,88.8 140.1,88.1 139.8,88.4 138.1,89.2 136.0,89.0 134.8,87.9 133.9,89.0 134.6,90.8 134.2,92.0 134.5,96.0 133.5,96.5 134.6,98.7 134.0,103.2 134.1,105.1 134.2,106.6 133.0,107.2 133.3,112.1Z"/>
<path id="z_gotland" d="M168.5,100.2 170.4,100.1 172.5,99.0 172.3,101.3 175.2,100.7 176.0,100.2 175.8,98.8 175.5,96.1 176.5,93.8 176.0,91.1 173.6,90.3 173.5,90.2 172.2,89.8 168.9,90.6 168.5,91.1 169.7,93.2 167.2,95.2 168.1,97.1Z"/>
<path id="z_fi_s" d="M180.5,79.9 182.7,79.8 184.3,79.4 183.5,78.7 184.7,81.1 185.9,79.9 187.8,80.5 189.2,79.5 190.3,79.0 191.7,80.0 193.1,81.2 195.2,78.6 195.5,79.4 196.9,80.6 198.7,78.5 199.8,80.4 201.0,80.3 204.4,80.4 205.5,80.6 205.8,80.5 208.1,79.8 209.3,79.5 211.1,78.6 211.1,78.7 212.1,79.2 212.7,79.4 214.2,80.6 216.8,81.0 219.1,78.8 220.5,80.6 220.5,78.9 223.3,79.8 223.6,79.0 224.8,79.9 224.5,77.7 224.4,74.5 225.6,72.9 224.8,71.1 225.0,67.1 224.8,67.0 224.8,63.7 222.8,64.3 221.6,62.7 220.6,62.8 220.3,63.2 218.4,64.1 217.4,64.0 215.9,65.0 213.7,62.4 211.9,62.7 211.0,62.3 211.3,63.0 209.6,62.5 206.4,63.2 206.1,64.8 205.1,62.9 204.6,62.5 202.6,62.8 200.7,64.8 199.5,64.1 197.9,63.9 196.2,64.9 195.4,63.8 193.6,63.5 191.3,63.1 191.3,63.5 190.2,63.6 188.8,64.9 186.9,62.9 186.8,63.3 183.9,63.0 182.3,63.4 181.0,64.3 180.5,63.7 180.8,66.5 180.1,67.4 181.6,70.9 181.4,72.2 180.4,76.5 180.9,76.6Z"/>
<path id="z_fi_sw" d="M180.5,79.9 183.0,79.4 183.9,81.3 184.2,80.1 186.3,79.3 187.2,79.2 187.7,79.3 190.3,79.8 192.3,79.6 193.4,79.3 195.4,80.2 194.2,78.9 195.8,79.4 198.2,79.9 199.5,77.7 197.1,75.7 199.3,73.9 197.5,70.3 198.9,68.3 198.2,65.1 196.6,64.8 194.8,65.5 195.4,65.3 192.7,64.0 190.1,65.3 191.1,65.5 188.4,65.0 186.3,64.8 185.8,64.7 184.6,66.5 183.9,64.3 181.9,64.6 180.5,65.1 179.4,66.6 181.3,69.7 179.7,73.5 181.6,74.6 179.4,78.0Z"/>
<path id="z_fi_c" d="M180.5,63.7 182.1,65.0 183.7,62.8 184.7,63.9 185.3,63.7 187.4,65.2 188.8,64.2 189.6,64.5 191.5,65.1 192.6,64.4 193.4,63.8 194.3,64.7 196.1,64.8 198.1,63.4 198.7,63.3 201.1,63.3 201.6,64.4 202.5,62.8 203.6,62.2 207.0,65.0 206.3,63.8 210.0,62.3 211.0,62.4 210.1,63.0 211.8,63.1 214.7,62.7 214.2,64.2 215.8,62.8 218.9,64.1 219.9,62.5 221.1,63.4 220.8,64.1 222.5,63.4 224.8,63.7 225.7,61.8 224.3,58.3 226.0,57.3 225.4,54.7 224.7,51.9 225.8,49.2 223.6,47.3 224.8,46.1 222.2,47.1 222.7,45.9 220.2,45.8 220.0,47.0 219.0,45.2 217.9,45.7 214.9,47.5 214.5,46.5 211.9,47.3 210.6,45.1 209.8,45.7 209.8,46.6 206.1,45.6 207.3,46.9 204.8,45.1 203.9,45.7 201.6,46.8 200.1,44.6 199.3,46.8 197.1,47.1 195.6,45.2 196.2,47.3 192.8,47.5 193.3,44.6 191.5,46.1 189.5,45.4 187.2,47.4 186.7,45.2 184.8,45.1 183.3,45.6 183.1,44.7 182.8,46.0 180.5,46.1 179.7,47.0 179.9,50.2 180.5,53.1 181.5,55.5 181.0,58.3 180.4,59.9 179.8,62.7Z"/>
<path id="z_fi_n" d="M196.0,46.1 198.6,45.5 199.9,45.0 200.5,45.2 202.2,46.7 202.2,46.7 203.9,45.0 206.5,44.9 206.7,46.9 209.0,45.9 209.1,46.6 210.3,46.3 213.7,45.8 212.8,46.7 215.6,44.9 215.5,46.5 218.1,45.1 218.6,45.9 219.6,46.0 221.1,47.2 222.7,45.0 224.8,46.1 224.1,42.7 224.3,41.6 224.7,39.6 223.7,37.2 223.5,34.2 225.0,33.6 225.8,30.4 225.9,28.4 224.8,27.1 225.4,24.1 226.1,22.0 225.5,21.6 224.7,19.8 225.8,16.6 224.8,14.5 224.2,13.3 223.3,15.9 220.4,15.9 220.6,15.0 219.1,15.4 217.7,13.8 216.0,14.7 213.9,15.1 212.3,13.5 210.1,13.4 209.6,13.6 209.6,13.5 208.0,13.5 206.9,14.9 203.8,15.5 201.8,15.2 200.9,13.4 200.2,15.7 198.7,14.4 197.4,15.8 196.0,14.5 196.9,17.3 195.2,17.8 195.6,20.1 196.7,24.4 195.1,25.3 196.4,27.5 196.4,29.4 195.3,30.0 194.8,33.5 195.3,34.3 195.0,37.7 195.8,41.2 197.1,40.9 195.9,44.0Z"/>
<path id="z_ee" d="M184.9,92.9 186.8,92.3 188.0,92.0 189.7,92.9 189.6,91.7 191.3,92.5 192.8,91.8 194.1,91.9 195.7,92.6 196.7,91.7 197.8,93.3 199.2,91.4 200.7,92.5 203.8,93.2 203.3,94.2 206.4,93.5 207.4,94.3 207.1,92.1 209.7,91.5 210.5,91.7 211.1,92.7 212.4,91.5 215.1,92.6 215.9,92.9 216.8,89.7 216.9,88.4 215.7,86.5 216.0,84.7 215.7,82.7 215.9,79.2 215.0,80.0 213.7,78.4 210.7,79.0 210.1,78.6 208.3,79.3 208.2,79.1 205.5,77.7 206.3,78.5 204.0,80.5 203.1,77.9 199.9,78.1 200.9,77.8 198.2,78.9 196.9,80.5 194.4,78.3 195.4,79.1 192.4,80.4 191.9,79.3 190.6,77.9 188.8,79.3 188.6,79.4 186.5,78.7 184.9,79.2 184.7,80.5 185.7,83.6 185.4,85.3 184.1,87.4 184.1,89.5Z"/>
<path id="z_lv" d="M181.8,105.9 183.9,106.7 184.2,104.8 185.4,104.4 187.6,105.8 187.9,105.3 189.6,104.9 191.2,105.0 192.1,104.6 193.9,106.1 195.5,105.8 197.6,107.0 197.1,105.1 198.7,105.9 201.8,107.1 201.8,105.3 204.2,106.4 206.1,104.4 205.4,106.1 208.5,105.6 209.5,106.6 209.9,106.5 212.8,106.3 212.4,106.2 214.3,105.6 215.9,105.9 216.2,104.5 215.0,101.6 215.8,98.6 214.9,97.8 215.6,95.0 215.9,92.9 214.6,94.2 213.8,92.9 211.2,93.8 209.4,94.1 209.0,92.8 207.7,92.8 205.8,92.8 204.9,93.9 204.0,93.9 202.6,92.6 201.2,91.8 200.3,92.8 199.1,92.9 195.9,92.7 195.6,94.0 194.5,91.8 193.0,91.5 190.2,93.7 189.2,94.1 189.9,92.7 186.2,93.5 186.6,92.1 185.1,93.7 182.5,92.7 181.8,92.9 180.8,93.9 180.8,98.0 181.2,99.7 182.6,100.3 181.2,104.4Z"/>
<path id="z_lt" d="M181.8,121.3 183.6,121.8 184.9,120.2 185.6,120.7 186.5,120.7 190.0,120.4 190.3,121.1 191.8,121.7 192.2,120.5 193.8,122.8 196.4,120.6 195.9,122.8 197.3,122.6 200.7,120.5 201.9,121.9 201.6,121.8 203.1,120.4 205.0,122.7 207.3,121.1 208.5,122.3 209.3,121.3 208.2,119.3 210.3,117.6 209.4,115.7 208.0,114.0 209.8,109.5 209.2,109.1 209.3,105.9 207.9,105.8 206.2,106.5 205.8,105.3 204.6,105.1 202.8,104.7 201.1,104.6 200.4,106.6 197.0,105.3 195.7,106.0 195.2,105.5 193.8,105.8 192.3,104.5 191.6,105.4 190.7,106.8 188.4,104.8 188.4,105.3 187.1,105.6 185.3,106.4 183.2,106.3 181.8,105.9 181.9,106.8 182.6,108.9 181.0,111.7 182.8,113.4 180.9,118.0 180.6,120.3Z"/>
<path id="z_gr" d="M175.2,257.0 176.2,257.2 177.8,257.3 178.5,257.5 180.8,257.1 183.0,256.8 183.6,258.3 183.8,256.7 186.3,255.8 186.5,256.2 189.5,257.5 189.9,257.6 191.7,257.2 192.8,258.2 193.8,257.1 195.1,257.5 197.8,255.6 197.1,257.1 199.0,256.7 199.7,255.7 201.3,257.4 203.8,256.4 203.9,258.0 207.3,256.7 206.1,255.8 208.1,256.5 211.2,256.8 210.9,256.2 213.9,256.5 213.2,256.5 215.4,258.1 217.2,256.0 218.2,257.0 218.4,253.5 219.4,253.5 217.6,250.4 218.0,247.6 219.0,247.7 217.9,245.2 218.8,242.4 217.6,238.9 216.9,237.1 218.2,236.0 217.0,232.1 217.9,231.3 218.7,228.1 217.3,226.4 218.8,225.6 219.3,224.3 217.5,220.3 218.4,218.2 218.0,216.1 219.2,215.0 218.9,210.8 217.2,209.9 219.1,206.7 218.2,205.7 218.0,204.8 215.9,204.9 214.9,207.1 214.0,204.9 212.7,207.2 210.1,206.1 208.0,207.0 208.5,206.0 207.1,204.4 203.7,206.0 203.1,204.3 201.3,205.0 200.5,207.2 199.2,206.3 197.5,205.1 196.9,206.9 196.0,205.8 192.8,206.4 192.8,205.4 192.6,206.4 189.1,206.9 187.5,206.3 187.4,205.6 186.4,205.8 183.7,207.0 182.5,206.5 181.6,204.9 180.8,206.8 179.8,206.5 178.8,204.5 175.6,206.1 175.2,205.7 173.8,206.9 175.9,208.6 175.2,212.4 173.9,213.3 174.6,216.5 175.4,219.0 176.4,219.5 174.3,223.0 174.4,224.6 174.2,228.2 174.5,229.3 175.2,231.7 175.3,234.4 175.1,236.6 176.3,237.7 174.5,239.9 175.1,241.9 175.2,243.5 176.0,246.3 174.2,247.4 174.0,249.5 174.0,253.5 174.5,256.1Z"/>
<path id="z_gr_n" d="M180.5,216.9 182.4,217.8 184.0,217.7 184.3,217.8 186.8,215.9 188.0,217.9 188.4,218.1 189.4,217.0 192.8,218.1 193.3,217.9 195.5,217.2 196.2,217.3 198.1,218.2 199.4,217.8 198.6,215.7 200.6,217.3 201.6,215.7 203.3,216.3 205.9,215.5 206.0,216.7 208.0,216.9 206.8,215.6 207.9,213.0 208.1,209.5 208.9,208.8 208.0,205.7 205.8,206.2 206.1,206.3 202.9,206.3 203.7,205.7 201.1,207.0 200.1,205.3 197.1,204.3 196.4,206.1 195.1,205.2 194.9,205.1 192.4,205.3 192.7,207.0 189.1,206.0 188.3,204.3 186.2,205.0 185.3,204.5 185.6,206.9 182.3,207.0 180.9,205.8 180.5,205.7 181.3,207.8 180.4,210.0 180.5,212.1 179.4,215.1Z"/>
<path id="z_crete" d="M193.3,254.9 193.8,254.6 196.9,254.2 198.7,254.4 198.8,254.1 200.0,255.8 201.5,254.1 203.1,256.1 204.2,254.3 206.9,255.5 207.1,254.9 206.5,252.4 207.4,251.9 207.1,248.6 205.9,247.3 204.0,247.6 202.8,248.8 200.5,247.6 201.5,247.2 199.3,249.5 196.2,249.5 195.8,250.0 195.7,247.5 193.3,248.6 193.0,249.9 194.5,253.9Z"/>
<clipPath id="cp00"><rect x="36.55" y="21.00" width="186.00" height="239.35"/></clipPath>
<clipPath id="cp01"><rect x="226.80" y="21.00" width="186.00" height="239.35"/></clipPath>
<clipPath id="cp02"><rect x="417.05" y="21.00" width="186.00" height="239.35"/></clipPath>
<clipPath id="cp10"><rect x="36.55" y="289.40" width="186.00" height="239.35"/></clipPath>
<clipPath id="cp11"><rect x="226.80" y="289.40" width="186.00" height="239.35"/></clipPath>
<clipPath id="cp12"><rect x="417.05" y="289.40" width="186.00" height="239.35"/></clipPath>
<filter id="soft" x="-50" y="-50" width="800" height="400" filterUnits="userSpaceOnUse" color-interpolation-filters="sRGB"><feConvolveMatrix order="3" kernelMatrix="1 2 1 2 6 2 1 2 1" divisor="18" edgeMode="none"/></filter>
</defs>
<rect width="685" height="555" fill="#fff"/>
<g clip-path="url(#cp00)"><g transform="translate(0.00,0.00)">
<use href="#landp" fill="#e0e0e0"/>
<use href="#bord" fill="none" stroke="#555" stroke-width="0.35" stroke-linejoin="round"/>
<use href="#landp" fill="none" stroke="#555" stroke-width="0.35" stroke-linejoin="round"/>
<g clip-path="url(#land)"><g clip-path="url(#mask)"><g filter="url(#soft)">
<use href="#z_all" fill="#ebe6e3"/>
<use href="#z_all" fill="#e8874a" mask="url(#m0_7)"/>
<use href="#z_all" fill="#eeb048" mask="url(#m1_4)"/>
<use href="#z_ire" fill="#d45a4a"/>
<use href="#z_ire" fill="#a8423e" mask="url(#m0_7)"/>
<use href="#z_ire" fill="#e8874a" mask="url(#m1_5)"/>
<use href="#z_ire" fill="#ebe6e3" mask="url(#m2_4)"/>
<use href="#z_ire_w" fill="#ebe6e3"/>
<use href="#z_ire_w" fill="#d45a4a" mask="url(#m0_7)"/>
<use href="#z_ire_w" fill="#a8423e" mask="url(#m1_4)"/>
<use href="#z_scot_hi" fill="#dcdcdc"/>
<use href="#z_scot_hi" fill="#ebe6e3" mask="url(#m0_10)"/>
<use href="#z_scot_hi" fill="#2b2119" mask="url(#m1_2)"/>
<use href="#z_scot_hi" fill="#a8423e" mask="url(#m2_2)"/>
<use href="#z_scot_ne" fill="#d45a4a"/>
<use href="#z_scot_ne" fill="#a8423e" mask="url(#m0_9)"/>
<use href="#z_scot_ne" fill="#ebe6e3" mask="url(#m1_6)"/>
<use href="#z_scot_isl" fill="#dcdcdc"/>
<use href="#z_scot_isl" fill="#ebe6e3" mask="url(#m0_4)"/>
<use href="#z_faroe" fill="#dcdcdc"/>
<use href="#z_scot_s" fill="#a8423e"/>
<use href="#z_scot_s" fill="#d45a4a" mask="url(#m0_9)"/>
<use href="#z_scot_s" fill="#ebe6e3" mask="url(#m1_4)"/>
<use href="#z_scot_s" fill="#2b2119" mask="url(#m2_2)"/>
<use href="#z_eng_n" fill="#d45a4a"/>
<use href="#z_eng_n" fill="#a8423e" mask="url(#m0_7)"/>
<use href="#z_eng_n" fill="#e8874a" mask="url(#m1_5)"/>
<use href="#z_eng_n" fill="#ebe6e3" mask="url(#m2_4)"/>
<use href="#z_wales" fill="#d45a4a"/>
<use href="#z_wales" fill="#a8423e" mask="url(#m0_7)"/>
<use href="#z_wales" fill="#e8874a" mask="url(#m1_5)"/>
<use href="#z_wales" fill="#ebe6e3" mask="url(#m2_4)"/>
<use href="#z_eng_sw" fill="#d45a4a"/>
<use href="#z_eng_sw" fill="#e8874a" mask="url(#m0_6)"/>
<use href="#z_eng_sw" fill="#ebe6e3" mask="url(#m1_4)"/>
<use href="#z_eng_sw" fill="#a8423e" mask="url(#m2_2)"/>
<use href="#z_eng_mid" fill="#e8874a"/>
<use href="#z_eng_mid" fill="#d45a4a" mask="url(#m0_9)"/>
<use href="#z_eng_mid" fill="#ebe6e3" mask="url(#m1_4)"/>
<use href="#z_eng_mid" fill="#a8423e" mask="url(#m2_2)"/>
<use href="#z_eng_s" fill="#e8874a"/>
<use href="#z_eng_s" fill="#eeb048" mask="url(#m0_10)"/>
<use href="#z_eng_s" fill="#ebe6e3" mask="url(#m1_4)"/>
<use href="#z_eng_e" fill="#e8874a"/>
<use href="#z_eng_e" fill="#d45a4a" mask="url(#m0_7)"/>
<use href="#z_eng_e" fill="#eeb048" mask="url(#m1_5)"/>
<use href="#z_eng_e" fill="#ebe6e3" mask="url(#m2_4)"/>
<use href="#z_fens" fill="#2b2119"/>
<use href="#z_fens" fill="#5a2e28" mask="url(#m0_4)"/>
<use href="#z_fens" fill="#ebe6e3" mask="url(#m1_2)"/>
<use href="#z_fra_w" fill="#eeb048"/>
<use href="#z_fra_w" fill="#e8874a" mask="url(#m0_7)"/>
<use href="#z_fra_w" fill="#ebe6e3" mask="url(#m1_2)"/>
<use href="#z_fra_w" fill="#a8423e" mask="url(#m2_2)"/>
<use href="#z_fra_c" fill="#eeb048"/>
<use href="#z_fra_c" fill="#e8874a" mask="url(#m0_6)"/>
<use href="#z_fra_c" fill="#f4d56a" mask="url(#m1_2)"/>
<use href="#z_fra_c" fill="#ebe6e3" mask="url(#m2_2)"/>
<use href="#z_fra_c" fill="#d45a4a" mask="url(#m3_2)"/>
<use href="#z_fra_n" fill="#eeb048"/>
<use href="#z_fra_n" fill="#f4d56a" mask="url(#m0_5)"/>
<use href="#z_fra_n" fill="#e8874a" mask="url(#m1_2)"/>
<use href="#z_fra_n" fill="#ebe6e3" mask="url(#m2_2)"/>
<use href="#z_fra_ne" fill="#eeb048"/>
<use href="#z_fra_ne" fill="#e8874a" mask="url(#m0_6)"/>
<use href="#z_fra_ne" fill="#f4d56a" mask="url(#m1_2)"/>
<use href="#z_fra_ne" fill="#ebe6e3" mask="url(#m2_2)"/>
<use href="#z_fra_ne" fill="#d45a4a" mask="url(#m3_2)"/>
<use href="#z_brittany" fill="#eeb048"/>
<use href="#z_brittany" fill="#e8874a" mask="url(#m0_5)"/>
<use href="#z_brittany" fill="#f4d56a" mask="url(#m1_2)"/>
<use href="#z_brittany" fill="#ebe6e3" mask="url(#m2_2)"/>
<use href="#z_normandy" fill="#eeb048"/>
<use href="#z_normandy" fill="#f4d56a" mask="url(#m0_5)"/>
<use href="#z_normandy" fill="#e8874a" mask="url(#m1_2)"/>
<use href="#z_normandy" fill="#ebe6e3" mask="url(#m2_2)"/>
<use href="#z_fra_cw" fill="#e8874a"/>
<use href="#z_fra_cw" fill="#a8423e" mask="url(#m0_10)"/>
<use href="#z_fra_cw" fill="#5a2e28" mask="url(#m1_5)"/>
<use href="#z_fra_cw" fill="#eeb048" mask="url(#m2_2)"/>
<use href="#z_fra_cw" fill="#ebe6e3" mask="url(#m3_2)"/>
<use href="#z_massif" fill="#e8874a"/>
<use href="#z_massif" fill="#eeb048" mask="url(#m0_8)"/>
<use href="#z_massif" fill="#a8423e" mask="url(#m1_6)"/>
<use href="#z_massif" fill="#5a2e28" mask="url(#m2_4)"/>
<use href="#z_massif" fill="#ebe6e3" mask="url(#m3_2)"/>
<use href="#z_fra_sw" fill="#ebe6e3"/>
<use href="#z_fra_sw" fill="#e8874a" mask="url(#m0_7)"/>
<use href="#z_fra_sw" fill="#eeb048" mask="url(#m1_2)"/>
<use href="#z_fra_sw" fill="#d45a4a" mask="url(#m2_2)"/>
<use href="#z_landes" fill="#dcdcdc"/>
<use href="#z_landes" fill="#ebe6e3" mask="url(#m0_8)"/>
<use href="#z_fra_s" fill="#ebe6e3"/>
<use href="#z_fra_s" fill="#e8874a" mask="url(#m0_7)"/>
<use href="#z_fra_s" fill="#d45a4a" mask="url(#m1_4)"/>
<use href="#z_fra_se" fill="#ebe6e3"/>
<use href="#z_fra_se" fill="#e8874a" mask="url(#m0_7)"/>
<use href="#z_fra_se" fill="#eeb048" mask="url(#m1_2)"/>
<use href="#z_fra_se" fill="#d45a4a" mask="url(#m2_2)"/>
<use href="#z_alps_fr" fill="#ebe6e3"/>
<use href="#z_alps_fr" fill="#e8874a" mask="url(#m0_4)"/>
<use href="#z_alps_fr" fill="#d45a4a" mask="url(#m1_2)"/>
<use href="#z_belg" fill="#eeb048"/>
<use href="#z_belg" fill="#e8874a" mask="url(#m0_7)"/>
<use href="#z_belg" fill="#ebe6e3" mask="url(#m1_4)"/>
<use href="#z_neth" fill="#2b2119"/>
<use href="#z_neth" fill="#5a2e28" mask="url(#m0_5)"/>
<use href="#z_neth" fill="#ebe6e3" mask="url(#m1_4)"/>
<use href="#z_de_c" fill="#eeb048"/>
<use href="#z_de_c" fill="#e8874a" mask="url(#m0_6)"/>
<use href="#z_de_c" fill="#ebe6e3" mask="url(#m1_4)"/>
<use href="#z_de_c" fill="#f4d56a" mask="url(#m2_2)"/>
<use href="#z_de_s" fill="#eeb048"/>
<use href="#z_de_s" fill="#e8874a" mask="url(#m0_6)"/>
<use href="#z_de_s" fill="#ebe6e3" mask="url(#m1_4)"/>
<use href="#z_de_s" fill="#d45a4a" mask="url(#m2_2)"/>
<use href="#z_de_nw" fill="#2b2119"/>
<use href="#z_de_nw" fill="#5a2e28" mask="url(#m0_5)"/>
<use href="#z_de_nw" fill="#ebe6e3" mask="url(#m1_4)"/>
<use href="#z_de_n" fill="#2b2119"/>
<use href="#z_de_n" fill="#5a2e28" mask="url(#m0_6)"/>
<use href="#z_de_n" fill="#ebe6e3" mask="url(#m1_4)"/>
<use href="#z_de_n" fill="#e8874a" mask="url(#m2_2)"/>
<use href="#z_dk" fill="#2b2119"/>
<use href="#z_dk" fill="#5a2e28" mask="url(#m0_5)"/>
<use href="#z_dk" fill="#ebe6e3" mask="url(#m1_4)"/>
<use href="#z_pl_c" fill="#2b2119"/>
<use href="#z_pl_c" fill="#e8874a" mask="url(#m0_10)"/>
<use href="#z_pl_c" fill="#5a2e28" mask="url(#m1_5)"/>
<use href="#z_pl_c" fill="#ebe6e3" mask="url(#m2_4)"/>
<use href="#z_pl_s" fill="#eeb048"/>
<use href="#z_pl_s" fill="#ebe6e3" mask="url(#m0_7)"/>
<use href="#z_pl_s" fill="#e8874a" mask="url(#m1_4)"/>
<use href="#z_pl_n" fill="#2b2119"/>
<use href="#z_pl_n" fill="#5a2e28" mask="url(#m0_6)"/>
<use href="#z_pl_n" fill="#ebe6e3" mask="url(#m1_4)"/>
<use href="#z_pl_n" fill="#e8874a" mask="url(#m2_2)"/>
<use href="#z_cz" fill="#eeb048"/>
<use href="#z_cz" fill="#e8874a" mask="url(#m0_9)"/>
<use href="#z_cz" fill="#ebe6e3" mask="url(#m1_4)"/>
<use href="#z_cz" fill="#d45a4a" mask="url(#m2_2)"/>
<use href="#z_at" fill="#ebe6e3"/>
<use href="#z_at" fill="#e8874a" mask="url(#m0_6)"/>
<use href="#z_at" fill="#d45a4a" mask="url(#m1_4)"/>
<use href="#z_at" fill="#eeb048" mask="url(#m2_2)"/>
<use href="#z_sk" fill="#ebe6e3"/>
<use href="#z_sk" fill="#e8874a" mask="url(#m0_9)"/>
<use href="#z_sk" fill="#eeb048" mask="url(#m1_4)"/>
<use href="#z_sk" fill="#d45a4a" mask="url(#m2_2)"/>
<use href="#z_hu" fill="#eeb048"/>
<use href="#z_hu" fill="#e8874a" mask="url(#m0_5)"/>
<use href="#z_hu" fill="#ebe6e3" mask="url(#m1_3)"/>
<use href="#z_hu" fill="#2b2119" mask="url(#m2_0)"/>
<use href="#z_hu_e" fill="#eeb048"/>
<use href="#z_hu_e" fill="#e8874a" mask="url(#m0_6)"/>
<use href="#z_hu_e" fill="#ebe6e3" mask="url(#m1_3)"/>
<use href="#z_hu_e" fill="#2b2119" mask="url(#m2_2)"/>
<use href="#z_si" fill="#ebe6e3"/>
<use href="#z_si" fill="#e8874a" mask="url(#m0_7)"/>
<use href="#z_si" fill="#d45a4a" mask="url(#m1_4)"/>
<use href="#z_it_po" fill="#e8874a"/>
<use href="#z_it_po" fill="#eeb048" mask="url(#m0_6)"/>
<use href="#z_it_po" fill="#a8423e" mask="url(#m1_4)"/>
<use href="#z_it_po" fill="#ebe6e3" mask="url(#m2_2)"/>
<use href="#z_it_nw" fill="#ebe6e3"/>
<use href="#z_it_nw" fill="#e8874a" mask="url(#m0_10)"/>
<use href="#z_it_nw" fill="#d45a4a" mask="url(#m1_4)"/>
<use href="#z_it_c" fill="#ebe6e3"/>
<use href="#z_it_c" fill="#e8874a" mask="url(#m0_10)"/>
<use href="#z_it_c" fill="#d45a4a" mask="url(#m1_4)"/>
<use href="#z_it_s" fill="#e8874a"/>
<use href="#z_it_s" fill="#ebe6e3" mask="url(#m0_7)"/>
<use href="#z_it_s" fill="#eeb048" mask="url(#m1_4)"/>
<use href="#z_it_alps" fill="#ebe6e3"/>
<use href="#z_it_alps" fill="#e8874a" mask="url(#m0_5)"/>
<use href="#z_it_alps" fill="#d45a4a" mask="url(#m1_4)"/>
<use href="#z_sardinia" fill="#ebe6e3"/>
<use href="#z_sardinia" fill="#e8874a" mask="url(#m0_5)"/>
<use href="#z_sardinia" fill="#d45a4a" mask="url(#m1_4)"/>
<use href="#z_corsica" fill="#ebe6e3"/>
<use href="#z_corsica" fill="#e8874a" mask="url(#m0_4)"/>
<use href="#z_corsica" fill="#d45a4a" mask="url(#m1_2)"/>
<use href="#z_sicily" fill="#e8874a"/>
<use href="#z_sicily" fill="#ebe6e3" mask="url(#m0_7)"/>
<use href="#z_sicily" fill="#eeb048" mask="url(#m1_4)"/>
<use href="#z_galicia" fill="#ebe6e3"/>
<use href="#z_galicia" fill="#dcdcdc" mask="url(#m0_7)"/>
<use href="#z_galicia" fill="#d45a4a" mask="url(#m1_2)"/>
<use href="#z_pt_n" fill="#ebe6e3"/>
<use href="#z_pt_n" fill="#dcdcdc" mask="url(#m0_5)"/>
<use href="#z_pt_n" fill="#d45a4a" mask="url(#m1_2)"/>
<use href="#z_pt_n" fill="#e8874a" mask="url(#m2_2)"/>
<use href="#z_pt_s" fill="#ebe6e3"/>
<use href="#z_pt_s" fill="#e8874a" mask="url(#m0_5)"/>
<use href="#z_pt_s" fill="#dcdcdc" mask="url(#m1_2)"/>
<use href="#z_pt_s" fill="#d45a4a" mask="url(#m2_2)"/>
<use href="#z_es_n" fill="#ebe6e3"/>
<use href="#z_es_n" fill="#d45a4a" mask="url(#m0_7)"/>
<use href="#z_es_n" fill="#e8874a" mask="url(#m1_4)"/>
<use href="#z_es_cn" fill="#e8874a"/>
<use href="#z_es_cn" fill="#a8423e" mask="url(#m0_10)"/>
<use href="#z_es_cn" fill="#ebe6e3" mask="url(#m1_7)"/>
<use href="#z_es_cn" fill="#5a2e28" mask="url(#m2_2)"/>
<use href="#z_es_c" fill="#e8874a"/>
<use href="#z_es_c" fill="#ebe6e3" mask="url(#m0_9)"/>
<use href="#z_es_c" fill="#d45a4a" mask="url(#m1_4)"/>
<use href="#z_es_c" fill="#a8423e" mask="url(#m2_2)"/>
<use href="#z_es_ne" fill="#e8874a"/>
<use href="#z_es_ne" fill="#ebe6e3" mask="url(#m0_9)"/>
<use href="#z_es_ne" fill="#eeb048" mask="url(#m1_4)"/>
<use href="#z_es_ne" fill="#d45a4a" mask="url(#m2_2)"/>
<use href="#z_es_e" fill="#e8874a"/>
<use href="#z_es_e" fill="#d45a4a" mask="url(#m0_9)"/>
<use href="#z_es_e" fill="#ebe6e3" mask="url(#m1_6)"/>
<use href="#z_es_s" fill="#eeb048"/>
<use href="#z_es_s" fill="#e8874a" mask="url(#m0_9)"/>
<use href="#z_es_s" fill="#ebe6e3" mask="url(#m1_6)"/>
<use href="#z_es_se" fill="#ebe6e3"/>
<use href="#z_es_se" fill="#e8874a" mask="url(#m0_7)"/>
<use href="#z_es_se" fill="#d45a4a" mask="url(#m1_4)"/>
<use href="#z_es_cn_dk" fill="#5a2e28"/>
<use href="#z_es_cn_dk" fill="#2b2119" mask="url(#m0_6)"/>
<use href="#z_es_cn_dk" fill="#a8423e" mask="url(#m1_4)"/>
<use href="#z_es_cn_dk" fill="#e8874a" mask="url(#m2_2)"/>
<use href="#z_balear" fill="#e8874a"/>
<use href="#z_balear" fill="#d45a4a" mask="url(#m0_9)"/>
<use href="#z_balear" fill="#ebe6e3" mask="url(#m1_6)"/>
<use href="#z_se_n" fill="#dcdcdc"/>
<use href="#z_se_n" fill="#ebe6e3" mask="url(#m0_2)"/>
<use href="#z_se_c" fill="#dcdcdc"/>
<use href="#z_se_c" fill="#ebe6e3" mask="url(#m0_3)"/>
<use href="#z_se_c" fill="#e8874a" mask="url(#m1_0)"/>
<use href="#z_se_m" fill="#dcdcdc"/>
<use href="#z_se_m" fill="#ebe6e3" mask="url(#m0_4)"/>
<use href="#z_se_m" fill="#eeb048" mask="url(#m1_1)"/>
<use href="#z_se_m" fill="#e8874a" mask="url(#m2_0)"/>
<use href="#z_se_s" fill="#dcdcdc"/>
<use href="#z_se_s" fill="#ebe6e3" mask="url(#m0_7)"/>
<use href="#z_se_s" fill="#e8874a" mask="url(#m1_0)"/>
<use href="#z_se_s" fill="#d45a4a" mask="url(#m2_0)"/>
<use href="#z_gotland" fill="#ebe6e3"/>
<use href="#z_gotland" fill="#a8423e" mask="url(#m0_9)"/>
<use href="#z_gotland" fill="#d45a4a" mask="url(#m1_4)"/>
<use href="#z_gotland" fill="#2b2119" mask="url(#m2_2)"/>
<use href="#z_fi_s" fill="#dcdcdc"/>
<use href="#z_fi_s" fill="#ebe6e3" mask="url(#m0_4)"/>
<use href="#z_fi_s" fill="#eeb048" mask="url(#m1_1)"/>
<use href="#z_fi_s" fill="#e8874a" mask="url(#m2_0)"/>
<use href="#z_fi_c" fill="#dcdcdc"/>
<use href="#z_fi_c" fill="#ebe6e3" mask="url(#m0_3)"/>
<use href="#z_fi_c" fill="#eeb048" mask="url(#m1_0)"/>
<use href="#z_fi_c" fill="#e8874a" mask="url(#m2_0)"/>
<use href="#z_fi_n" fill="#dcdcdc"/>
<use href="#z_fi_n" fill="#ebe6e3" mask="url(#m0_1)"/>
<use href="#z_fi_n" fill="#eeb048" mask="url(#m1_0)"/>
<use href="#z_fi_sw" fill="#dcdcdc"/>
<use href="#z_fi_sw" fill="#ebe6e3" mask="url(#m0_6)"/>
<use href="#z_fi_sw" fill="#eeb048" mask="url(#m1_4)"/>
<use href="#z_fi_sw" fill="#e8874a" mask="url(#m2_1)"/>
<use href="#z_ee" fill="#ebe6e3"/>
<use href="#z_ee" fill="#dcdcdc" mask="url(#m0_7)"/>
<use href="#z_ee" fill="#d45a4a" mask="url(#m1_5)"/>
<use href="#z_ee" fill="#a8423e" mask="url(#m2_3)"/>
<use href="#z_ee" fill="#2b2119" mask="url(#m3_0)"/>
<use href="#z_lv" fill="#ebe6e3"/>
<use href="#z_lv" fill="#a8423e" mask="url(#m0_8)"/>
<use href="#z_lv" fill="#d45a4a" mask="url(#m1_4)"/>
<use href="#z_lv" fill="#dcdcdc" mask="url(#m2_2)"/>
<use href="#z_lv" fill="#2b2119" mask="url(#m3_2)"/>
<use href="#z_lt" fill="#ebe6e3"/>
<use href="#z_lt" fill="#a8423e" mask="url(#m0_8)"/>
<use href="#z_lt" fill="#d45a4a" mask="url(#m1_4)"/>
<use href="#z_lt" fill="#dcdcdc" mask="url(#m2_2)"/>
<use href="#z_lt" fill="#2b2119" mask="url(#m3_2)"/>
<use href="#z_gr" fill="#ebe6e3"/>
<use href="#z_gr" fill="#e8874a" mask="url(#m0_5)"/>
<use href="#z_gr" fill="#d45a4a" mask="url(#m1_4)"/>
<use href="#z_gr_n" fill="#ebe6e3"/>
<use href="#z_gr_n" fill="#d45a4a" mask="url(#m0_9)"/>
<use href="#z_gr_n" fill="#a8423e" mask="url(#m1_4)"/>
<use href="#z_gr_n" fill="#2b2119" mask="url(#m2_2)"/>
<use href="#z_crete" fill="#e8874a"/>
<use href="#z_crete" fill="#d45a4a" mask="url(#m0_7)"/>
<use href="#z_crete" fill="#ebe6e3" mask="url(#m1_4)"/>
</g></g></g>
<use href="#swiss" fill="#e0e0e0" stroke="#555" stroke-width="0.35"/>
<use href="#nbord" fill="none" stroke="#5a5a5a" stroke-width="0.32" stroke-linejoin="round"/>
<use href="#landp" fill="none" stroke="#606060" stroke-width="0.3" stroke-linejoin="round"/>
</g></g>
<rect x="36.55" y="6.10" width="186.00" height="14.90" fill="#d9d9d9" stroke="#454545" stroke-width="1.25"/>
<text transform="translate(129.55,16.80) scale(1,1.07)" font-size="9.2" fill="#1a1a1a" text-anchor="middle">BL</text>
<rect x="36.55" y="21.00" width="186.00" height="239.35" fill="none" stroke="#454545" stroke-width="1.25"/>
<line x1="45.27" y1="260.35" x2="45.27" y2="262.95" stroke="#333" stroke-width="0.8"/>
<text transform="translate(45.27,270.80) scale(0.95,1.0)" font-size="9.6" fill="#4d4d4d" text-anchor="middle">−10<tspan font-size="6" dx="0.3" dy="-4.3">o</tspan><tspan dx="0.1" dy="4.3">W</tspan></text>
<line x1="89.60" y1="260.35" x2="89.60" y2="262.95" stroke="#333" stroke-width="0.8"/>
<text transform="translate(89.60,270.80) scale(0.95,1.0)" font-size="9.6" fill="#4d4d4d" text-anchor="middle">0</text>
<line x1="133.93" y1="260.35" x2="133.93" y2="262.95" stroke="#333" stroke-width="0.8"/>
<text transform="translate(133.93,270.80) scale(0.95,1.0)" font-size="9.6" fill="#4d4d4d" text-anchor="middle">10<tspan font-size="6" dx="0.3" dy="-4.3">o</tspan><tspan dx="0.1" dy="4.3">E</tspan></text>
<line x1="178.26" y1="260.35" x2="178.26" y2="262.95" stroke="#333" stroke-width="0.8"/>
<text transform="translate(178.26,270.80) scale(0.95,1.0)" font-size="9.6" fill="#4d4d4d" text-anchor="middle">20<tspan font-size="6" dx="0.3" dy="-4.3">o</tspan><tspan dx="0.1" dy="4.3">E</tspan></text>
<line x1="33.95" y1="42.60" x2="36.55" y2="42.60" stroke="#333" stroke-width="0.8"/>
<text transform="translate(33.25,46.05) scale(0.98,1.01)" font-size="9.6" fill="#4d4d4d" text-anchor="end">65<tspan font-size="6" dx="0.3" dy="-4.3">o</tspan><tspan dx="0.1" dy="4.3">N</tspan></text>
<line x1="33.95" y1="112.90" x2="36.55" y2="112.90" stroke="#333" stroke-width="0.8"/>
<text transform="translate(33.25,116.35) scale(0.98,1.01)" font-size="9.6" fill="#4d4d4d" text-anchor="end">55<tspan font-size="6" dx="0.3" dy="-4.3">o</tspan><tspan dx="0.1" dy="4.3">N</tspan></text>
<line x1="33.95" y1="183.20" x2="36.55" y2="183.20" stroke="#333" stroke-width="0.8"/>
<text transform="translate(33.25,186.65) scale(0.98,1.01)" font-size="9.6" fill="#4d4d4d" text-anchor="end">45<tspan font-size="6" dx="0.3" dy="-4.3">o</tspan><tspan dx="0.1" dy="4.3">N</tspan></text>
<line x1="33.95" y1="253.50" x2="36.55" y2="253.50" stroke="#333" stroke-width="0.8"/>
<text transform="translate(33.25,256.95) scale(0.98,1.01)" font-size="9.6" fill="#4d4d4d" text-anchor="end">35<tspan font-size="6" dx="0.3" dy="-4.3">o</tspan><tspan dx="0.1" dy="4.3">N</tspan></text>
<text transform="translate(8.3,140.68) rotate(-90)" font-size="11.5" fill="#000" text-anchor="middle">Latitude</text>
<g clip-path="url(#cp01)"><g transform="translate(190.25,0.00)">
<use href="#landp" fill="#e0e0e0"/>
<use href="#bord" fill="none" stroke="#555" stroke-width="0.35" stroke-linejoin="round"/>
<use href="#landp" fill="none" stroke="#555" stroke-width="0.35" stroke-linejoin="round"/>
<g clip-path="url(#land)"><g clip-path="url(#mask)"><g filter="url(#soft)">
<use href="#z_all" fill="#ebe6e3"/>
<use href="#z_all" fill="#e8874a" mask="url(#m0_6)"/>
<use href="#z_all" fill="#d45a4a" mask="url(#m1_4)"/>
<use href="#z_all" fill="#2b2119" mask="url(#m2_2)"/>
<use href="#z_ire" fill="#2b2119"/>
<use href="#z_ire" fill="#5a2e28" mask="url(#m0_6)"/>
<use href="#z_ire" fill="#a8423e" mask="url(#m1_4)"/>
<use href="#z_ire" fill="#ebe6e3" mask="url(#m2_2)"/>
<use href="#z_ire_w" fill="#ebe6e3"/>
<use href="#z_ire_w" fill="#2b2119" mask="url(#m0_9)"/>
<use href="#z_ire_w" fill="#a8423e" mask="url(#m1_4)"/>
<use href="#z_ire_w" fill="#5a2e28" mask="url(#m2_2)"/>
<use href="#z_scot_hi" fill="#dcdcdc"/>
<use href="#z_scot_hi" fill="#ebe6e3" mask="url(#m0_10)"/>
<use href="#z_scot_hi" fill="#2b2119" mask="url(#m1_3)"/>
<use href="#z_scot_hi" fill="#a8423e" mask="url(#m2_0)"/>
<use href="#z_scot_ne" fill="#a8423e"/>
<use href="#z_scot_ne" fill="#5a2e28" mask="url(#m0_9)"/>
<use href="#z_scot_ne" fill="#ebe6e3" mask="url(#m1_6)"/>
<use href="#z_scot_isl" fill="#dcdcdc"/>
<use href="#z_scot_isl" fill="#ebe6e3" mask="url(#m0_4)"/>
<use href="#z_faroe" fill="#dcdcdc"/>
<use href="#z_scot_s" fill="#2b2119"/>
<use href="#z_scot_s" fill="#5a2e28" mask="url(#m0_9)"/>
<use href="#z_scot_s" fill="#a8423e" mask="url(#m1_4)"/>
<use href="#z_scot_s" fill="#ebe6e3" mask="url(#m2_2)"/>
<use href="#z_eng_n" fill="#2b2119"/>
<use href="#z_eng_n" fill="#5a2e28" mask="url(#m0_10)"/>
<use href="#z_eng_n" fill="#a8423e" mask="url(#m1_7)"/>
<use href="#z_eng_n" fill="#ebe6e3" mask="url(#m2_2)"/>
<use href="#z_wales" fill="#2b2119"/>
<use href="#z_wales" fill="#5a2e28" mask="url(#m0_9)"/>
<use href="#z_wales" fill="#a8423e" mask="url(#m1_4)"/>
<use href="#z_wales" fill="#ebe6e3" mask="url(#m2_2)"/>
<use href="#z_eng_sw" fill="#a8423e"/>
<use href="#z_eng_sw" fill="#5a2e28" mask="url(#m0_9)"/>
<use href="#z_eng_sw" fill="#d45a4a" mask="url(#m1_4)"/>
<use href="#z_eng_sw" fill="#ebe6e3" mask="url(#m2_2)"/>
<use href="#z_eng_mid" fill="#a8423e"/>
<use href="#z_eng_mid" fill="#d45a4a" mask="url(#m0_9)"/>
<use href="#z_eng_mid" fill="#e8874a" mask="url(#m1_4)"/>
<use href="#z_eng_mid" fill="#ebe6e3" mask="url(#m2_2)"/>
<use href="#z_eng_s" fill="#d45a4a"/>
<use href="#z_eng_s" fill="#e8874a" mask="url(#m0_10)"/>
<use href="#z_eng_s" fill="#ebe6e3" mask="url(#m1_4)"/>
<use href="#z_eng_e" fill="#a8423e"/>
<use href="#z_eng_e" fill="#d45a4a" mask="url(#m0_10)"/>
<use href="#z_eng_e" fill="#e8874a" mask="url(#m1_5)"/>
<use href="#z_eng_e" fill="#2b2119" mask="url(#m2_4)"/>
<use href="#z_fens" fill="#2b2119"/>
<use href="#z_fens" fill="#5a2e28" mask="url(#m0_4)"/>
<use href="#z_fra_w" fill="#e8874a"/>
<use href="#z_fra_w" fill="#d45a4a" mask="url(#m0_7)"/>
<use href="#z_fra_w" fill="#2b2119" mask="url(#m1_5)"/>
<use href="#z_fra_w" fill="#ebe6e3" mask="url(#m2_4)"/>
<use href="#z_fra_c" fill="#e8874a"/>
<use href="#z_fra_c" fill="#2b2119" mask="url(#m0_10)"/>
<use href="#z_fra_c" fill="#eeb048" mask="url(#m1_5)"/>
<use href="#z_fra_c" fill="#ebe6e3" mask="url(#m2_4)"/>
<use href="#z_fra_n" fill="#eeb048"/>
<use href="#z_fra_n" fill="#e8874a" mask="url(#m0_10)"/>
<use href="#z_fra_n" fill="#ebe6e3" mask="url(#m1_4)"/>
<use href="#z_fra_ne" fill="#e8874a"/>
<use href="#z_fra_ne" fill="#eeb048" mask="url(#m0_9)"/>
<use href="#z_fra_ne" fill="#ebe6e3" mask="url(#m1_4)"/>
<use href="#z_fra_ne" fill="#2b2119" mask="url(#m2_2)"/>
<use href="#z_brittany" fill="#d45a4a"/>
<use href="#z_brittany" fill="#a8423e" mask="url(#m0_6)"/>
<use href="#z_brittany" fill="#e8874a" mask="url(#m1_4)"/>
<use href="#z_brittany" fill="#ebe6e3" mask="url(#m2_2)"/>
<use href="#z_normandy" fill="#e8874a"/>
<use href="#z_normandy" fill="#d45a4a" mask="url(#m0_6)"/>
<use href="#z_normandy" fill="#eeb048" mask="url(#m1_4)"/>
<use href="#z_normandy" fill="#ebe6e3" mask="url(#m2_2)"/>
<use href="#z_fra_cw" fill="#2b2119"/>
<use href="#z_fra_cw" fill="#5a2e28" mask="url(#m0_6)"/>
<use href="#z_fra_cw" fill="#ebe6e3" mask="url(#m1_4)"/>
<use href="#z_fra_cw" fill="#e8874a" mask="url(#m2_2)"/>
<use href="#z_massif" fill="#2b2119"/>
<use href="#z_massif" fill="#5a2e28" mask="url(#m0_6)"/>
<use href="#z_massif" fill="#ebe6e3" mask="url(#m1_4)"/>
<use href="#z_massif" fill="#e8874a" mask="url(#m2_2)"/>
<use href="#z_fra_sw" fill="#e8874a"/>
<use href="#z_fra_sw" fill="#ebe6e3" mask="url(#m0_10)"/>
<use href="#z_fra_sw" fill="#d45a4a" mask="url(#m1_4)"/>
<use href="#z_landes" fill="#dcdcdc"/>
<use href="#z_landes" fill="#ebe6e3" mask="url(#m0_8)"/>
<use href="#z_fra_s" fill="#ebe6e3"/>
<use href="#z_fra_s" fill="#e8874a" mask="url(#m0_9)"/>
<use href="#z_fra_s" fill="#d45a4a" mask="url(#m1_4)"/>
<use href="#z_fra_s" fill="#2b2119" mask="url(#m2_2)"/>
<use href="#z_fra_se" fill="#ebe6e3"/>
<use href="#z_fra_se" fill="#e8874a" mask="url(#m0_6)"/>
<use href="#z_fra_se" fill="#d45a4a" mask="url(#m1_4)"/>
<use href="#z_fra_se" fill="#2b2119" mask="url(#m2_2)"/>
<use href="#z_alps_fr" fill="#ebe6e3"/>
<use href="#z_alps_fr" fill="#2b2119" mask="url(#m0_5)"/>
<use href="#z_alps_fr" fill="#d45a4a" mask="url(#m1_4)"/>
<use href="#z_belg" fill="#e8874a"/>
<use href="#z_belg" fill="#eeb048" mask="url(#m0_7)"/>
<use href="#z_belg" fill="#ebe6e3" mask="url(#m1_5)"/>
<use href="#z_belg" fill="#2b2119" mask="url(#m2_4)"/>
<use href="#z_neth" fill="#2b2119"/>
<use href="#z_neth" fill="#5a2e28" mask="url(#m0_4)"/>
<use href="#z_neth" fill="#ebe6e3" mask="url(#m1_2)"/>
<use href="#z_de_c" fill="#e8874a"/>
<use href="#z_de_c" fill="#eeb048" mask="url(#m0_7)"/>
<use href="#z_de_c" fill="#ebe6e3" mask="url(#m1_5)"/>
<use href="#z_de_c" fill="#2b2119" mask="url(#m2_4)"/>
<use href="#z_de_s" fill="#e8874a"/>
<use href="#z_de_s" fill="#ebe6e3" mask="url(#m0_9)"/>
<use href="#z_de_s" fill="#2b2119" mask="url(#m1_4)"/>
<use href="#z_de_s" fill="#d45a4a" mask="url(#m2_2)"/>
<use href="#z_de_nw" fill="#2b2119"/>
<use href="#z_de_nw" fill="#5a2e28" mask="url(#m0_4)"/>
<use href="#z_de_nw" fill="#ebe6e3" mask="url(#m1_2)"/>
<use href="#z_de_n" fill="#2b2119"/>
<use href="#z_de_n" fill="#5a2e28" mask="url(#m0_5)"/>
<use href="#z_de_n" fill="#ebe6e3" mask="url(#m1_4)"/>
<use href="#z_dk" fill="#2b2119"/>
<use href="#z_dk" fill="#5a2e28" mask="url(#m0_4)"/>
<use href="#z_dk" fill="#ebe6e3" mask="url(#m1_2)"/>
<use href="#z_pl_c" fill="#2b2119"/>
<use href="#z_pl_c" fill="#5a2e28" mask="url(#m0_6)"/>
<use href="#z_pl_c" fill="#e8874a" mask="url(#m1_4)"/>
<use href="#z_pl_c" fill="#ebe6e3" mask="url(#m2_2)"/>
<use href="#z_pl_s" fill="#e8874a"/>
<use href="#z_pl_s" fill="#ebe6e3" mask="url(#m0_9)"/>
<use href="#z_pl_s" fill="#2b2119" mask="url(#m1_4)"/>
<use href="#z_pl_s" fill="#eeb048" mask="url(#m2_2)"/>
<use href="#z_pl_n" fill="#2b2119"/>
<use href="#z_pl_n" fill="#5a2e28" mask="url(#m0_5)"/>
<use href="#z_pl_n" fill="#ebe6e3" mask="url(#m1_4)"/>
<use href="#z_cz" fill="#e8874a"/>
<use href="#z_cz" fill="#ebe6e3" mask="url(#m0_10)"/>
<use href="#z_cz" fill="#2b2119" mask="url(#m1_7)"/>
<use href="#z_cz" fill="#d45a4a" mask="url(#m2_2)"/>
<use href="#z_at" fill="#ebe6e3"/>
<use href="#z_at" fill="#2b2119" mask="url(#m0_7)"/>
<use href="#z_at" fill="#e8874a" mask="url(#m1_4)"/>
<use href="#z_sk" fill="#ebe6e3"/>
<use href="#z_sk" fill="#2b2119" mask="url(#m0_9)"/>
<use href="#z_sk" fill="#e8874a" mask="url(#m1_4)"/>
<use href="#z_sk" fill="#eeb048" mask="url(#m2_2)"/>
<use href="#z_hu" fill="#eeb048"/>
<use href="#z_hu" fill="#e8874a" mask="url(#m0_7)"/>
<use href="#z_hu" fill="#2b2119" mask="url(#m1_4)"/>
<use href="#z_hu_e" fill="#eeb048"/>
<use href="#z_hu_e" fill="#2b2119" mask="url(#m0_10)"/>
<use href="#z_hu_e" fill="#e8874a" mask="url(#m1_4)"/>
<use href="#z_si" fill="#ebe6e3"/>
<use href="#z_si" fill="#e8874a" mask="url(#m0_7)"/>
<use href="#z_si" fill="#2b2119" mask="url(#m1_4)"/>
<use href="#z_it_po" fill="#e8874a"/>
<use href="#z_it_po" fill="#2b2119" mask="url(#m0_9)"/>
<use href="#z_it_po" fill="#eeb048" mask="url(#m1_4)"/>
<use href="#z_it_po" fill="#ebe6e3" mask="url(#m2_2)"/>
<use href="#z_it_nw" fill="#ebe6e3"/>
<use href="#z_it_nw" fill="#e8874a" mask="url(#m0_9)"/>
<use href="#z_it_nw" fill="#d45a4a" mask="url(#m1_6)"/>
<use href="#z_it_c" fill="#d45a4a"/>
<use href="#z_it_c" fill="#e8874a" mask="url(#m0_10)"/>
<use href="#z_it_c" fill="#ebe6e3" mask="url(#m1_4)"/>
<use href="#z_it_s" fill="#d45a4a"/>
<use href="#z_it_s" fill="#e8874a" mask="url(#m0_10)"/>
<use href="#z_it_s" fill="#ebe6e3" mask="url(#m1_4)"/>
<use href="#z_it_alps" fill="#ebe6e3"/>
<use href="#z_it_alps" fill="#2b2119" mask="url(#m0_5)"/>
<use href="#z_it_alps" fill="#d45a4a" mask="url(#m1_4)"/>
<use href="#z_sardinia" fill="#ebe6e3"/>
<use href="#z_sardinia" fill="#d45a4a" mask="url(#m0_7)"/>
<use href="#z_sardinia" fill="#a8423e" mask="url(#m1_4)"/>
<use href="#z_corsica" fill="#ebe6e3"/>
<use href="#z_corsica" fill="#d45a4a" mask="url(#m0_5)"/>
<use href="#z_corsica" fill="#a8423e" mask="url(#m1_4)"/>
<use href="#z_sicily" fill="#e8874a"/>
<use href="#z_sicily" fill="#d45a4a" mask="url(#m0_7)"/>
<use href="#z_sicily" fill="#ebe6e3" mask="url(#m1_4)"/>
<use href="#z_galicia" fill="#ebe6e3"/>
<use href="#z_galicia" fill="#dcdcdc" mask="url(#m0_4)"/>
<use href="#z_galicia" fill="#d45a4a" mask="url(#m1_2)"/>
<use href="#z_pt_n" fill="#ebe6e3"/>
<use href="#z_pt_n" fill="#d45a4a" mask="url(#m0_5)"/>
<use href="#z_pt_n" fill="#5a2e28" mask="url(#m1_4)"/>
<use href="#z_pt_s" fill="#ebe6e3"/>
<use href="#z_pt_s" fill="#d45a4a" mask="url(#m0_7)"/>
<use href="#z_pt_s" fill="#5a2e28" mask="url(#m1_4)"/>
<use href="#z_es_n" fill="#ebe6e3"/>
<use href="#z_es_n" fill="#d45a4a" mask="url(#m0_9)"/>
<use href="#z_es_n" fill="#5a2e28" mask="url(#m1_4)"/>
<use href="#z_es_n" fill="#e8874a" mask="url(#m2_2)"/>
<use href="#z_es_cn" fill="#2b2119"/>
<use href="#z_es_cn" fill="#ebe6e3" mask="url(#m0_9)"/>
<use href="#z_es_cn" fill="#5a2e28" mask="url(#m1_4)"/>
<use href="#z_es_cn" fill="#d45a4a" mask="url(#m2_2)"/>
<use href="#z_es_c" fill="#2b2119"/>
<use href="#z_es_c" fill="#ebe6e3" mask="url(#m0_10)"/>
<use href="#z_es_c" fill="#5a2e28" mask="url(#m1_5)"/>
<use href="#z_es_c" fill="#d45a4a" mask="url(#m2_4)"/>
<use href="#z_es_ne" fill="#e8874a"/>
<use href="#z_es_ne" fill="#d45a4a" mask="url(#m0_10)"/>
<use href="#z_es_ne" fill="#ebe6e3" mask="url(#m1_7)"/>
<use href="#z_es_ne" fill="#2b2119" mask="url(#m2_2)"/>
<use href="#z_es_e" fill="#d45a4a"/>
<use href="#z_es_e" fill="#e8874a" mask="url(#m0_9)"/>
<use href="#z_es_e" fill="#ebe6e3" mask="url(#m1_6)"/>
<use href="#z_es_s" fill="#a8423e"/>
<use href="#z_es_s" fill="#d45a4a" mask="url(#m0_10)"/>
<use href="#z_es_s" fill="#ebe6e3" mask="url(#m1_7)"/>
<use href="#z_es_s" fill="#5a2e28" mask="url(#m2_2)"/>
<use href="#z_es_se" fill="#ebe6e3"/>
<use href="#z_es_se" fill="#d45a4a" mask="url(#m0_10)"/>
<use href="#z_es_se" fill="#a8423e" mask="url(#m1_4)"/>
<use href="#z_es_cn_dk" fill="#2b2119"/>
<use href="#z_es_cn_dk" fill="#5a2e28" mask="url(#m0_4)"/>
<use href="#z_es_cn_dk" fill="#ebe6e3" mask="url(#m1_2)"/>
<use href="#z_balear" fill="#d45a4a"/>
<use href="#z_balear" fill="#a8423e" mask="url(#m0_9)"/>
<use href="#z_balear" fill="#ebe6e3" mask="url(#m1_6)"/>
<use href="#z_se_n" fill="#dcdcdc"/>
<use href="#z_se_n" fill="#ebe6e3" mask="url(#m0_0)"/>
<use href="#z_se_c" fill="#dcdcdc"/>
<use href="#z_se_c" fill="#ebe6e3" mask="url(#m0_2)"/>
<use href="#z_se_m" fill="#dcdcdc"/>
<use href="#z_se_m" fill="#ebe6e3" mask="url(#m0_7)"/>
<use href="#z_se_m" fill="#e8874a" mask="url(#m1_1)"/>
<use href="#z_se_m" fill="#d45a4a" mask="url(#m2_0)"/>
<use href="#z_se_m" fill="#2b2119" mask="url(#m3_0)"/>
<use href="#z_se_s" fill="#dcdcdc"/>
<use href="#z_se_s" fill="#ebe6e3" mask="url(#m0_7)"/>
<use href="#z_se_s" fill="#d45a4a" mask="url(#m1_1)"/>
<use href="#z_se_s" fill="#2b2119" mask="url(#m2_0)"/>
<use href="#z_gotland" fill="#ebe6e3"/>
<use href="#z_gotland" fill="#2b2119" mask="url(#m0_9)"/>
<use href="#z_gotland" fill="#5a2e28" mask="url(#m1_4)"/>
<use href="#z_gotland" fill="#d45a4a" mask="url(#m2_2)"/>
<use href="#z_fi_s" fill="#dcdcdc"/>
<use href="#z_fi_s" fill="#ebe6e3" mask="url(#m0_4)"/>
<use href="#z_fi_s" fill="#e8874a" mask="url(#m1_0)"/>
<use href="#z_fi_s" fill="#d45a4a" mask="url(#m2_0)"/>
<use href="#z_fi_c" fill="#dcdcdc"/>
<use href="#z_fi_c" fill="#ebe6e3" mask="url(#m0_3)"/>
<use href="#z_fi_c" fill="#d45a4a" mask="url(#m1_0)"/>
<use href="#z_fi_n" fill="#dcdcdc"/>
<use href="#z_fi_n" fill="#ebe6e3" mask="url(#m0_2)"/>
<use href="#z_fi_sw" fill="#dcdcdc"/>
<use href="#z_fi_sw" fill="#ebe6e3" mask="url(#m0_5)"/>
<use href="#z_fi_sw" fill="#e8874a" mask="url(#m1_2)"/>
<use href="#z_fi_sw" fill="#eeb048" mask="url(#m2_0)"/>
<use href="#z_fi_sw" fill="#d45a4a" mask="url(#m3_0)"/>
<use href="#z_ee" fill="#ebe6e3"/>
<use href="#z_ee" fill="#dcdcdc" mask="url(#m0_7)"/>
<use href="#z_ee" fill="#2b2119" mask="url(#m1_4)"/>
<use href="#z_ee" fill="#d45a4a" mask="url(#m2_2)"/>
<use href="#z_lv" fill="#ebe6e3"/>
<use href="#z_lv" fill="#2b2119" mask="url(#m0_7)"/>
<use href="#z_lv" fill="#dcdcdc" mask="url(#m1_4)"/>
<use href="#z_lv" fill="#d45a4a" mask="url(#m2_3)"/>
<use href="#z_lv" fill="#a8423e" mask="url(#m3_2)"/>
<use href="#z_lt" fill="#ebe6e3"/>
<use href="#z_lt" fill="#2b2119" mask="url(#m0_8)"/>
<use href="#z_lt" fill="#d45a4a" mask="url(#m1_4)"/>
<use href="#z_lt" fill="#dcdcdc" mask="url(#m2_2)"/>
<use href="#z_lt" fill="#a8423e" mask="url(#m3_2)"/>
<use href="#z_gr" fill="#ebe6e3"/>
<use href="#z_gr" fill="#d45a4a" mask="url(#m0_5)"/>
<use href="#z_gr" fill="#a8423e" mask="url(#m1_4)"/>
<use href="#z_gr_n" fill="#ebe6e3"/>
<use href="#z_gr_n" fill="#d45a4a" mask="url(#m0_9)"/>
<use href="#z_gr_n" fill="#2b2119" mask="url(#m1_6)"/>
<use href="#z_crete" fill="#d45a4a"/>
<use href="#z_crete" fill="#a8423e" mask="url(#m0_7)"/>
<use href="#z_crete" fill="#ebe6e3" mask="url(#m1_4)"/>
</g></g></g>
<use href="#swiss" fill="#e0e0e0" stroke="#555" stroke-width="0.35"/>
<use href="#nbord" fill="none" stroke="#5a5a5a" stroke-width="0.32" stroke-linejoin="round"/>
<use href="#landp" fill="none" stroke="#606060" stroke-width="0.3" stroke-linejoin="round"/>
</g></g>
<rect x="226.80" y="6.10" width="186.00" height="14.90" fill="#d9d9d9" stroke="#454545" stroke-width="1.25"/>
<text transform="translate(319.80,16.80) scale(1,1.07)" font-size="9.2" fill="#1a1a1a" text-anchor="middle">PBL</text>
<rect x="226.80" y="21.00" width="186.00" height="239.35" fill="none" stroke="#454545" stroke-width="1.25"/>
<line x1="235.52" y1="260.35" x2="235.52" y2="262.95" stroke="#333" stroke-width="0.8"/>
<text transform="translate(235.52,270.80) scale(0.95,1.0)" font-size="9.6" fill="#4d4d4d" text-anchor="middle">−10<tspan font-size="6" dx="0.3" dy="-4.3">o</tspan><tspan dx="0.1" dy="4.3">W</tspan></text>
<line x1="279.85" y1="260.35" x2="279.85" y2="262.95" stroke="#333" stroke-width="0.8"/>
<text transform="translate(279.85,270.80) scale(0.95,1.0)" font-size="9.6" fill="#4d4d4d" text-anchor="middle">0</text>
<line x1="324.18" y1="260.35" x2="324.18" y2="262.95" stroke="#333" stroke-width="0.8"/>
<text transform="translate(324.18,270.80) scale(0.95,1.0)" font-size="9.6" fill="#4d4d4d" text-anchor="middle">10<tspan font-size="6" dx="0.3" dy="-4.3">o</tspan><tspan dx="0.1" dy="4.3">E</tspan></text>
<line x1="368.51" y1="260.35" x2="368.51" y2="262.95" stroke="#333" stroke-width="0.8"/>
<text transform="translate(368.51,270.80) scale(0.95,1.0)" font-size="9.6" fill="#4d4d4d" text-anchor="middle">20<tspan font-size="6" dx="0.3" dy="-4.3">o</tspan><tspan dx="0.1" dy="4.3">E</tspan></text>
<g clip-path="url(#cp02)"><g transform="translate(380.50,0.00)">
<use href="#landp" fill="#e0e0e0"/>
<use href="#bord" fill="none" stroke="#555" stroke-width="0.35" stroke-linejoin="round"/>
<use href="#landp" fill="none" stroke="#555" stroke-width="0.35" stroke-linejoin="round"/>
<g clip-path="url(#land)"><g clip-path="url(#mask)"><g filter="url(#soft)">
<use href="#z_all" fill="#d45a4a"/>
<use href="#z_all" fill="#e8874a" mask="url(#m0_9)"/>
<use href="#z_all" fill="#ebe6e3" mask="url(#m1_6)"/>
<use href="#z_ire" fill="#d45a4a"/>
<use href="#z_ire" fill="#a8423e" mask="url(#m0_5)"/>
<use href="#z_ire" fill="#ebe6e3" mask="url(#m1_4)"/>
<use href="#z_ire_w" fill="#ebe6e3"/>
<use href="#z_ire_w" fill="#d45a4a" mask="url(#m0_10)"/>
<use href="#z_ire_w" fill="#a8423e" mask="url(#m1_4)"/>
<use href="#z_scot_hi" fill="#dcdcdc"/>
<use href="#z_scot_hi" fill="#ebe6e3" mask="url(#m0_10)"/>
<use href="#z_scot_hi" fill="#d45a4a" mask="url(#m1_3)"/>
<use href="#z_scot_hi" fill="#a8423e" mask="url(#m2_0)"/>
<use href="#z_scot_ne" fill="#d45a4a"/>
<use href="#z_scot_ne" fill="#a8423e" mask="url(#m0_5)"/>
<use href="#z_scot_ne" fill="#ebe6e3" mask="url(#m1_4)"/>
<use href="#z_scot_isl" fill="#dcdcdc"/>
<use href="#z_scot_isl" fill="#ebe6e3" mask="url(#m0_4)"/>
<use href="#z_faroe" fill="#dcdcdc"/>
<use href="#z_scot_s" fill="#d45a4a"/>
<use href="#z_scot_s" fill="#a8423e" mask="url(#m0_7)"/>
<use href="#z_scot_s" fill="#ebe6e3" mask="url(#m1_4)"/>
<use href="#z_eng_n" fill="#d45a4a"/>
<use href="#z_eng_n" fill="#a8423e" mask="url(#m0_7)"/>
<use href="#z_eng_n" fill="#ebe6e3" mask="url(#m1_4)"/>
<use href="#z_wales" fill="#d45a4a"/>
<use href="#z_wales" fill="#a8423e" mask="url(#m0_7)"/>
<use href="#z_wales" fill="#ebe6e3" mask="url(#m1_4)"/>
<use href="#z_eng_sw" fill="#d45a4a"/>
<use href="#z_eng_sw" fill="#e8874a" mask="url(#m0_5)"/>
<use href="#z_eng_sw" fill="#ebe6e3" mask="url(#m1_4)"/>
<use href="#z_eng_mid" fill="#d45a4a"/>
<use href="#z_eng_mid" fill="#e8874a" mask="url(#m0_7)"/>
<use href="#z_eng_mid" fill="#ebe6e3" mask="url(#m1_4)"/>
<use href="#z_eng_s" fill="#e8874a"/>
<use href="#z_eng_s" fill="#d45a4a" mask="url(#m0_7)"/>
<use href="#z_eng_s" fill="#ebe6e3" mask="url(#m1_4)"/>
<use href="#z_eng_e" fill="#d45a4a"/>
<use href="#z_eng_e" fill="#e8874a" mask="url(#m0_7)"/>
<use href="#z_eng_e" fill="#a8423e" mask="url(#m1_2)"/>
<use href="#z_eng_e" fill="#ebe6e3" mask="url(#m2_2)"/>
<use href="#z_fens" fill="#a8423e"/>
<use href="#z_fens" fill="#5a2e28" mask="url(#m0_7)"/>
<use href="#z_fens" fill="#ebe6e3" mask="url(#m1_2)"/>
<use href="#z_fra_w" fill="#e8874a"/>
<use href="#z_fra_w" fill="#d45a4a" mask="url(#m0_7)"/>
<use href="#z_fra_w" fill="#ebe6e3" mask="url(#m1_4)"/>
<use href="#z_fra_c" fill="#e8874a"/>
<use href="#z_fra_c" fill="#d45a4a" mask="url(#m0_10)"/>
<use href="#z_fra_c" fill="#ebe6e3" mask="url(#m1_4)"/>
<use href="#z_fra_n" fill="#e8874a"/>
<use href="#z_fra_n" fill="#d45a4a" mask="url(#m0_7)"/>
<use href="#z_fra_n" fill="#ebe6e3" mask="url(#m1_4)"/>
<use href="#z_fra_ne" fill="#e8874a"/>
<use href="#z_fra_ne" fill="#d45a4a" mask="url(#m0_9)"/>
<use href="#z_fra_ne" fill="#ebe6e3" mask="url(#m1_6)"/>
<use href="#z_brittany" fill="#e8874a"/>
<use href="#z_brittany" fill="#d45a4a" mask="url(#m0_7)"/>
<use href="#z_brittany" fill="#ebe6e3" mask="url(#m1_4)"/>
<use href="#z_normandy" fill="#e8874a"/>
<use href="#z_normandy" fill="#d45a4a" mask="url(#m0_5)"/>
<use href="#z_normandy" fill="#ebe6e3" mask="url(#m1_4)"/>
<use href="#z_fra_cw" fill="#d45a4a"/>
<use href="#z_fra_cw" fill="#a8423e" mask="url(#m0_7)"/>
<use href="#z_fra_cw" fill="#ebe6e3" mask="url(#m1_4)"/>
<use href="#z_massif" fill="#d45a4a"/>
<use href="#z_massif" fill="#a8423e" mask="url(#m0_9)"/>
<use href="#z_massif" fill="#ebe6e3" mask="url(#m1_6)"/>
<use href="#z_fra_sw" fill="#e8874a"/>
<use href="#z_fra_sw" fill="#ebe6e3" mask="url(#m0_10)"/>
<use href="#z_fra_sw" fill="#d45a4a" mask="url(#m1_4)"/>
<use href="#z_landes" fill="#dcdcdc"/>
<use href="#z_landes" fill="#ebe6e3" mask="url(#m0_8)"/>
<use href="#z_fra_s" fill="#ebe6e3"/>
<use href="#z_fra_s" fill="#e8874a" mask="url(#m0_10)"/>
<use href="#z_fra_s" fill="#d45a4a" mask="url(#m1_4)"/>
<use href="#z_fra_se" fill="#ebe6e3"/>
<use href="#z_fra_se" fill="#e8874a" mask="url(#m0_7)"/>
<use href="#z_fra_se" fill="#d45a4a" mask="url(#m1_4)"/>
<use href="#z_alps_fr" fill="#ebe6e3"/>
<use href="#z_alps_fr" fill="#d45a4a" mask="url(#m0_7)"/>
<use href="#z_alps_fr" fill="#e8874a" mask="url(#m1_2)"/>
<use href="#z_belg" fill="#d45a4a"/>
<use href="#z_belg" fill="#e8874a" mask="url(#m0_7)"/>
<use href="#z_belg" fill="#ebe6e3" mask="url(#m1_4)"/>
<use href="#z_neth" fill="#d45a4a"/>
<use href="#z_neth" fill="#a8423e" mask="url(#m0_9)"/>
<use href="#z_neth" fill="#ebe6e3" mask="url(#m1_6)"/>
<use href="#z_de_c" fill="#d45a4a"/>
<use href="#z_de_c" fill="#e8874a" mask="url(#m0_7)"/>
<use href="#z_de_c" fill="#ebe6e3" mask="url(#m1_4)"/>
<use href="#z_de_s" fill="#e8874a"/>
<use href="#z_de_s" fill="#d45a4a" mask="url(#m0_7)"/>
<use href="#z_de_s" fill="#ebe6e3" mask="url(#m1_4)"/>
<use href="#z_de_nw" fill="#a8423e"/>
<use href="#z_de_nw" fill="#d45a4a" mask="url(#m0_9)"/>
<use href="#z_de_nw" fill="#ebe6e3" mask="url(#m1_4)"/>
<use href="#z_de_nw" fill="#5a2e28" mask="url(#m2_2)"/>
<use href="#z_de_n" fill="#d45a4a"/>
<use href="#z_de_n" fill="#ebe6e3" mask="url(#m0_7)"/>
<use href="#z_de_n" fill="#a8423e" mask="url(#m1_4)"/>
<use href="#z_dk" fill="#a8423e"/>
<use href="#z_dk" fill="#d45a4a" mask="url(#m0_9)"/>
<use href="#z_dk" fill="#ebe6e3" mask="url(#m1_4)"/>
<use href="#z_dk" fill="#5a2e28" mask="url(#m2_2)"/>
<use href="#z_pl_c" fill="#e8874a"/>
<use href="#z_pl_c" fill="#d45a4a" mask="url(#m0_7)"/>
<use href="#z_pl_c" fill="#ebe6e3" mask="url(#m1_4)"/>
<use href="#z_pl_s" fill="#e8874a"/>
<use href="#z_pl_s" fill="#d45a4a" mask="url(#m0_7)"/>
<use href="#z_pl_s" fill="#ebe6e3" mask="url(#m1_4)"/>
<use href="#z_pl_n" fill="#d45a4a"/>
<use href="#z_pl_n" fill="#e8874a" mask="url(#m0_7)"/>
<use href="#z_pl_n" fill="#ebe6e3" mask="url(#m1_4)"/>
<use href="#z_cz" fill="#e8874a"/>
<use href="#z_cz" fill="#d45a4a" mask="url(#m0_9)"/>
<use href="#z_cz" fill="#ebe6e3" mask="url(#m1_6)"/>
<use href="#z_at" fill="#ebe6e3"/>
<use href="#z_at" fill="#d45a4a" mask="url(#m0_7)"/>
<use href="#z_at" fill="#e8874a" mask="url(#m1_4)"/>
<use href="#z_sk" fill="#ebe6e3"/>
<use href="#z_sk" fill="#e8874a" mask="url(#m0_10)"/>
<use href="#z_sk" fill="#d45a4a" mask="url(#m1_4)"/>
<use href="#z_hu" fill="#e8874a"/>
<use href="#z_hu" fill="#d45a4a" mask="url(#m0_4)"/>
<use href="#z_hu" fill="#ebe6e3" mask="url(#m1_2)"/>
<use href="#z_hu_e" fill="#e8874a"/>
<use href="#z_hu_e" fill="#d45a4a" mask="url(#m0_7)"/>
<use href="#z_hu_e" fill="#ebe6e3" mask="url(#m1_2)"/>
<use href="#z_si" fill="#ebe6e3"/>
<use href="#z_si" fill="#e8874a" mask="url(#m0_7)"/>
<use href="#z_si" fill="#d45a4a" mask="url(#m1_4)"/>
<use href="#z_it_po" fill="#e8874a"/>
<use href="#z_it_po" fill="#d45a4a" mask="url(#m0_7)"/>
<use href="#z_it_po" fill="#ebe6e3" mask="url(#m1_4)"/>
<use href="#z_it_nw" fill="#ebe6e3"/>
<use href="#z_it_nw" fill="#e8874a" mask="url(#m0_10)"/>
<use href="#z_it_nw" fill="#d45a4a" mask="url(#m1_4)"/>
<use href="#z_it_c" fill="#e8874a"/>
<use href="#z_it_c" fill="#ebe6e3" mask="url(#m0_7)"/>
<use href="#z_it_c" fill="#d45a4a" mask="url(#m1_4)"/>
<use href="#z_it_s" fill="#e8874a"/>
<use href="#z_it_s" fill="#ebe6e3" mask="url(#m0_7)"/>
<use href="#z_it_s" fill="#d45a4a" mask="url(#m1_4)"/>
<use href="#z_it_alps" fill="#ebe6e3"/>
<use href="#z_it_alps" fill="#d45a4a" mask="url(#m0_7)"/>
<use href="#z_it_alps" fill="#e8874a" mask="url(#m1_2)"/>
<use href="#z_sardinia" fill="#ebe6e3"/>
<use href="#z_sardinia" fill="#e8874a" mask="url(#m0_7)"/>
<use href="#z_sardinia" fill="#d45a4a" mask="url(#m1_4)"/>
<use href="#z_corsica" fill="#ebe6e3"/>
<use href="#z_corsica" fill="#e8874a" mask="url(#m0_5)"/>
<use href="#z_corsica" fill="#d45a4a" mask="url(#m1_4)"/>
<use href="#z_sicily" fill="#e8874a"/>
<use href="#z_sicily" fill="#d45a4a" mask="url(#m0_5)"/>
<use href="#z_sicily" fill="#ebe6e3" mask="url(#m1_4)"/>
<use href="#z_galicia" fill="#ebe6e3"/>
<use href="#z_galicia" fill="#dcdcdc" mask="url(#m0_7)"/>
<use href="#z_galicia" fill="#d45a4a" mask="url(#m1_4)"/>
<use href="#z_pt_n" fill="#ebe6e3"/>
<use href="#z_pt_n" fill="#dcdcdc" mask="url(#m0_5)"/>
<use href="#z_pt_n" fill="#d45a4a" mask="url(#m1_2)"/>
<use href="#z_pt_n" fill="#e8874a" mask="url(#m2_2)"/>
<use href="#z_pt_s" fill="#ebe6e3"/>
<use href="#z_pt_s" fill="#e8874a" mask="url(#m0_5)"/>
<use href="#z_pt_s" fill="#dcdcdc" mask="url(#m1_2)"/>
<use href="#z_pt_s" fill="#d45a4a" mask="url(#m2_2)"/>
<use href="#z_es_n" fill="#ebe6e3"/>
<use href="#z_es_n" fill="#e8874a" mask="url(#m0_6)"/>
<use href="#z_es_n" fill="#d45a4a" mask="url(#m1_4)"/>
<use href="#z_es_n" fill="#dcdcdc" mask="url(#m2_2)"/>
<use href="#z_es_cn" fill="#e8874a"/>
<use href="#z_es_cn" fill="#ebe6e3" mask="url(#m0_10)"/>
<use href="#z_es_cn" fill="#d45a4a" mask="url(#m1_4)"/>
<use href="#z_es_c" fill="#e8874a"/>
<use href="#z_es_c" fill="#ebe6e3" mask="url(#m0_10)"/>
<use href="#z_es_c" fill="#d45a4a" mask="url(#m1_4)"/>
<use href="#z_es_ne" fill="#e8874a"/>
<use href="#z_es_ne" fill="#ebe6e3" mask="url(#m0_7)"/>
<use href="#z_es_ne" fill="#d45a4a" mask="url(#m1_4)"/>
<use href="#z_es_e" fill="#e8874a"/>
<use href="#z_es_e" fill="#ebe6e3" mask="url(#m0_7)"/>
<use href="#z_es_e" fill="#d45a4a" mask="url(#m1_4)"/>
<use href="#z_es_s" fill="#e8874a"/>
<use href="#z_es_s" fill="#ebe6e3" mask="url(#m0_9)"/>
<use href="#z_es_s" fill="#d45a4a" mask="url(#m1_2)"/>
<use href="#z_es_se" fill="#ebe6e3"/>
<use href="#z_es_se" fill="#e8874a" mask="url(#m0_9)"/>
<use href="#z_es_se" fill="#d45a4a" mask="url(#m1_2)"/>
<use href="#z_es_cn_dk" fill="#e8874a"/>
<use href="#z_es_cn_dk" fill="#d45a4a" mask="url(#m0_9)"/>
<use href="#z_es_cn_dk" fill="#ebe6e3" mask="url(#m1_6)"/>
<use href="#z_balear" fill="#e8874a"/>
<use href="#z_balear" fill="#d45a4a" mask="url(#m0_7)"/>
<use href="#z_balear" fill="#ebe6e3" mask="url(#m1_4)"/>
<use href="#z_se_n" fill="#dcdcdc"/>
<use href="#z_se_n" fill="#ebe6e3" mask="url(#m0_2)"/>
<use href="#z_se_c" fill="#dcdcdc"/>
<use href="#z_se_c" fill="#ebe6e3" mask="url(#m0_3)"/>
<use href="#z_se_c" fill="#d45a4a" mask="url(#m1_0)"/>
<use href="#z_se_m" fill="#dcdcdc"/>
<use href="#z_se_m" fill="#ebe6e3" mask="url(#m0_4)"/>
<use href="#z_se_m" fill="#e8874a" mask="url(#m1_1)"/>
<use href="#z_se_m" fill="#d45a4a" mask="url(#m2_0)"/>
<use href="#z_se_s" fill="#dcdcdc"/>
<use href="#z_se_s" fill="#ebe6e3" mask="url(#m0_7)"/>
<use href="#z_se_s" fill="#d45a4a" mask="url(#m1_2)"/>
<use href="#z_se_s" fill="#e8874a" mask="url(#m2_0)"/>
<use href="#z_gotland" fill="#d45a4a"/>
<use href="#z_gotland" fill="#ebe6e3" mask="url(#m0_10)"/>
<use href="#z_gotland" fill="#a8423e" mask="url(#m1_4)"/>
<use href="#z_fi_s" fill="#dcdcdc"/>
<use href="#z_fi_s" fill="#ebe6e3" mask="url(#m0_4)"/>
<use href="#z_fi_s" fill="#d45a4a" mask="url(#m1_1)"/>
<use href="#z_fi_s" fill="#e8874a" mask="url(#m2_0)"/>
<use href="#z_fi_c" fill="#dcdcdc"/>
<use href="#z_fi_c" fill="#ebe6e3" mask="url(#m0_3)"/>
<use href="#z_fi_c" fill="#d45a4a" mask="url(#m1_0)"/>
<use href="#z_fi_c" fill="#e8874a" mask="url(#m2_0)"/>
<use href="#z_fi_n" fill="#dcdcdc"/>
<use href="#z_fi_n" fill="#ebe6e3" mask="url(#m0_0)"/>
<use href="#z_fi_sw" fill="#dcdcdc"/>
<use href="#z_fi_sw" fill="#ebe6e3" mask="url(#m0_5)"/>
<use href="#z_fi_sw" fill="#e8874a" mask="url(#m1_2)"/>
<use href="#z_fi_sw" fill="#d45a4a" mask="url(#m2_2)"/>
<use href="#z_ee" fill="#ebe6e3"/>
<use href="#z_ee" fill="#d45a4a" mask="url(#m0_9)"/>
<use href="#z_ee" fill="#dcdcdc" mask="url(#m1_2)"/>
<use href="#z_ee" fill="#a8423e" mask="url(#m2_2)"/>
<use href="#z_lv" fill="#ebe6e3"/>
<use href="#z_lv" fill="#d45a4a" mask="url(#m0_9)"/>
<use href="#z_lv" fill="#a8423e" mask="url(#m1_3)"/>
<use href="#z_lv" fill="#dcdcdc" mask="url(#m2_2)"/>
<use href="#z_lt" fill="#ebe6e3"/>
<use href="#z_lt" fill="#d45a4a" mask="url(#m0_9)"/>
<use href="#z_lt" fill="#a8423e" mask="url(#m1_3)"/>
<use href="#z_lt" fill="#dcdcdc" mask="url(#m2_2)"/>
<use href="#z_gr" fill="#ebe6e3"/>
<use href="#z_gr" fill="#e8874a" mask="url(#m0_7)"/>
<use href="#z_gr" fill="#d45a4a" mask="url(#m1_4)"/>
<use href="#z_gr_n" fill="#ebe6e3"/>
<use href="#z_gr_n" fill="#d45a4a" mask="url(#m0_10)"/>
<use href="#z_gr_n" fill="#e8874a" mask="url(#m1_4)"/>
<use href="#z_crete" fill="#e8874a"/>
<use href="#z_crete" fill="#d45a4a" mask="url(#m0_7)"/>
<use href="#z_crete" fill="#ebe6e3" mask="url(#m1_4)"/>
</g></g></g>
<use href="#swiss" fill="#e0e0e0" stroke="#555" stroke-width="0.35"/>
<use href="#nbord" fill="none" stroke="#5a5a5a" stroke-width="0.32" stroke-linejoin="round"/>
<use href="#landp" fill="none" stroke="#606060" stroke-width="0.3" stroke-linejoin="round"/>
</g></g>
<rect x="417.05" y="6.10" width="186.00" height="14.90" fill="#d9d9d9" stroke="#454545" stroke-width="1.25"/>
<text transform="translate(510.05,16.80) scale(1,1.07)" font-size="9.2" fill="#1a1a1a" text-anchor="middle">NBL</text>
<rect x="417.05" y="21.00" width="186.00" height="239.35" fill="none" stroke="#454545" stroke-width="1.25"/>
<line x1="425.77" y1="260.35" x2="425.77" y2="262.95" stroke="#333" stroke-width="0.8"/>
<text transform="translate(425.77,270.80) scale(0.95,1.0)" font-size="9.6" fill="#4d4d4d" text-anchor="middle">−10<tspan font-size="6" dx="0.3" dy="-4.3">o</tspan><tspan dx="0.1" dy="4.3">W</tspan></text>
<line x1="470.10" y1="260.35" x2="470.10" y2="262.95" stroke="#333" stroke-width="0.8"/>
<text transform="translate(470.10,270.80) scale(0.95,1.0)" font-size="9.6" fill="#4d4d4d" text-anchor="middle">0</text>
<line x1="514.43" y1="260.35" x2="514.43" y2="262.95" stroke="#333" stroke-width="0.8"/>
<text transform="translate(514.43,270.80) scale(0.95,1.0)" font-size="9.6" fill="#4d4d4d" text-anchor="middle">10<tspan font-size="6" dx="0.3" dy="-4.3">o</tspan><tspan dx="0.1" dy="4.3">E</tspan></text>
<line x1="558.76" y1="260.35" x2="558.76" y2="262.95" stroke="#333" stroke-width="0.8"/>
<text transform="translate(558.76,270.80) scale(0.95,1.0)" font-size="9.6" fill="#4d4d4d" text-anchor="middle">20<tspan font-size="6" dx="0.3" dy="-4.3">o</tspan><tspan dx="0.1" dy="4.3">E</tspan></text>
<g clip-path="url(#cp10)"><g transform="translate(0.00,268.40)">
<use href="#landp" fill="#e0e0e0"/>
<use href="#bord" fill="none" stroke="#555" stroke-width="0.35" stroke-linejoin="round"/>
<use href="#landp" fill="none" stroke="#555" stroke-width="0.35" stroke-linejoin="round"/>
<g clip-path="url(#land)"><g clip-path="url(#mask)"><g filter="url(#soft)">
<use href="#z_all" fill="#ebe6e3"/>
<use href="#z_all" fill="#62a080" mask="url(#m0_8)"/>
<use href="#z_all" fill="#ecb045" mask="url(#m1_4)"/>
<use href="#z_all" fill="#d04a60" mask="url(#m2_1)"/>
<use href="#z_ire" fill="#d04a60"/>
<use href="#z_ire" fill="#ecb045" mask="url(#m0_10)"/>
<use href="#z_ire" fill="#ebe6e3" mask="url(#m1_5)"/>
<use href="#z_ire" fill="#62a080" mask="url(#m2_4)"/>
<use href="#z_ire" fill="#00788a" mask="url(#m3_2)"/>
<use href="#z_ire_w" fill="#ebe6e3"/>
<use href="#z_ire_w" fill="#00788a" mask="url(#m0_8)"/>
<use href="#z_ire_w" fill="#d04a60" mask="url(#m1_4)"/>
<use href="#z_ire_w" fill="#62a080" mask="url(#m2_1)"/>
<use href="#z_scot_hi" fill="#ebe6e3"/>
<use href="#z_scot_hi" fill="#00788a" mask="url(#m0_6)"/>
<use href="#z_scot_hi" fill="#dcdcdc" mask="url(#m1_1)"/>
<use href="#z_scot_ne" fill="#d04a60"/>
<use href="#z_scot_ne" fill="#ebe6e3" mask="url(#m0_10)"/>
<use href="#z_scot_ne" fill="#ecb045" mask="url(#m1_6)"/>
<use href="#z_scot_isl" fill="#dcdcdc"/>
<use href="#z_scot_isl" fill="#ebe6e3" mask="url(#m0_4)"/>
<use href="#z_faroe" fill="#dcdcdc"/>
<use href="#z_scot_s" fill="#00788a"/>
<use href="#z_scot_s" fill="#ebe6e3" mask="url(#m0_9)"/>
<use href="#z_scot_s" fill="#d04a60" mask="url(#m1_4)"/>
<use href="#z_eng_n" fill="#00788a"/>
<use href="#z_eng_n" fill="#ebe6e3" mask="url(#m0_10)"/>
<use href="#z_eng_n" fill="#d04a60" mask="url(#m1_6)"/>
<use href="#z_wales" fill="#d04a60"/>
<use href="#z_wales" fill="#00788a" mask="url(#m0_10)"/>
<use href="#z_wales" fill="#ebe6e3" mask="url(#m1_6)"/>
<use href="#z_wales" fill="#ecb045" mask="url(#m2_4)"/>
<use href="#z_eng_sw" fill="#ecb045"/>
<use href="#z_eng_sw" fill="#ebe6e3" mask="url(#m0_10)"/>
<use href="#z_eng_sw" fill="#d04a60" mask="url(#m1_6)"/>
<use href="#z_eng_mid" fill="#ecb045"/>
<use href="#z_eng_mid" fill="#ebe6e3" mask="url(#m0_7)"/>
<use href="#z_eng_mid" fill="#d04a60" mask="url(#m1_4)"/>
<use href="#z_eng_mid" fill="#00788a" mask="url(#m2_1)"/>
<use href="#z_eng_s" fill="#ecb045"/>
<use href="#z_eng_s" fill="#ebe6e3" mask="url(#m0_8)"/>
<use href="#z_eng_s" fill="#d04a60" mask="url(#m1_1)"/>
<use href="#z_eng_e" fill="#d04a60"/>
<use href="#z_eng_e" fill="#ebe6e3" mask="url(#m0_6)"/>
<use href="#z_eng_e" fill="#ecb045" mask="url(#m1_4)"/>
<use href="#z_fens" fill="#d04a60"/>
<use href="#z_fens" fill="#ecb045" mask="url(#m0_4)"/>
<use href="#z_fens" fill="#ebe6e3" mask="url(#m1_3)"/>
<use href="#z_fra_w" fill="#ecb045"/>
<use href="#z_fra_w" fill="#ebe6e3" mask="url(#m0_10)"/>
<use href="#z_fra_w" fill="#62a080" mask="url(#m1_6)"/>
<use href="#z_fra_c" fill="#62a080"/>
<use href="#z_fra_c" fill="#ebe6e3" mask="url(#m0_10)"/>
<use href="#z_fra_c" fill="#00788a" mask="url(#m1_4)"/>
<use href="#z_fra_c" fill="#ecb045" mask="url(#m2_1)"/>
<use href="#z_fra_n" fill="#62a080"/>
<use href="#z_fra_n" fill="#ecb045" mask="url(#m0_8)"/>
<use href="#z_fra_n" fill="#ebe6e3" mask="url(#m1_5)"/>
<use href="#z_fra_ne" fill="#62a080"/>
<use href="#z_fra_ne" fill="#ebe6e3" mask="url(#m0_9)"/>
<use href="#z_fra_ne" fill="#ecb045" mask="url(#m1_2)"/>
<use href="#z_fra_ne" fill="#00788a" mask="url(#m2_1)"/>
<use href="#z_brittany" fill="#ecb045"/>
<use href="#z_brittany" fill="#62a080" mask="url(#m0_8)"/>
<use href="#z_brittany" fill="#ebe6e3" mask="url(#m1_5)"/>
<use href="#z_normandy" fill="#ecb045"/>
<use href="#z_normandy" fill="#62a080" mask="url(#m0_10)"/>
<use href="#z_normandy" fill="#ebe6e3" mask="url(#m1_5)"/>
<use href="#z_fra_cw" fill="#00788a"/>
<use href="#z_fra_cw" fill="#d04a60" mask="url(#m0_10)"/>
<use href="#z_fra_cw" fill="#ebe6e3" mask="url(#m1_6)"/>
<use href="#z_fra_cw" fill="#62a080" mask="url(#m2_4)"/>
<use href="#z_massif" fill="#00788a"/>
<use href="#z_massif" fill="#ebe6e3" mask="url(#m0_10)"/>
<use href="#z_massif" fill="#d04a60" mask="url(#m1_4)"/>
<use href="#z_massif" fill="#62a080" mask="url(#m2_1)"/>
<use href="#z_fra_sw" fill="#ebe6e3"/>
<use href="#z_fra_sw" fill="#62a080" mask="url(#m0_8)"/>
<use href="#z_fra_sw" fill="#ecb045" mask="url(#m1_4)"/>
<use href="#z_fra_sw" fill="#d04a60" mask="url(#m2_1)"/>
<use href="#z_landes" fill="#dcdcdc"/>
<use href="#z_landes" fill="#ebe6e3" mask="url(#m0_8)"/>
<use href="#z_fra_s" fill="#ebe6e3"/>
<use href="#z_fra_s" fill="#62a080" mask="url(#m0_5)"/>
<use href="#z_fra_s" fill="#d04a60" mask="url(#m1_4)"/>
<use href="#z_fra_s" fill="#ecb045" mask="url(#m2_1)"/>
<use href="#z_fra_se" fill="#ebe6e3"/>
<use href="#z_fra_se" fill="#62a080" mask="url(#m0_7)"/>
<use href="#z_fra_se" fill="#00788a" mask="url(#m1_2)"/>
<use href="#z_fra_se" fill="#ecb045" mask="url(#m2_1)"/>
<use href="#z_alps_fr" fill="#ebe6e3"/>
<use href="#z_alps_fr" fill="#00788a" mask="url(#m0_5)"/>
<use href="#z_alps_fr" fill="#62a080" mask="url(#m1_4)"/>
<use href="#z_belg" fill="#62a080"/>
<use href="#z_belg" fill="#ebe6e3" mask="url(#m0_10)"/>
<use href="#z_belg" fill="#ecb045" mask="url(#m1_6)"/>
<use href="#z_neth" fill="#d04a60"/>
<use href="#z_neth" fill="#ebe6e3" mask="url(#m0_6)"/>
<use href="#z_neth" fill="#00788a" mask="url(#m1_1)"/>
<use href="#z_de_c" fill="#62a080"/>
<use href="#z_de_c" fill="#ebe6e3" mask="url(#m0_10)"/>
<use href="#z_de_c" fill="#ecb045" mask="url(#m1_6)"/>
<use href="#z_de_s" fill="#62a080"/>
<use href="#z_de_s" fill="#ebe6e3" mask="url(#m0_9)"/>
<use href="#z_de_s" fill="#00788a" mask="url(#m1_2)"/>
<use href="#z_de_s" fill="#ecb045" mask="url(#m2_1)"/>
<use href="#z_de_nw" fill="#d04a60"/>
<use href="#z_de_nw" fill="#ebe6e3" mask="url(#m0_6)"/>
<use href="#z_de_nw" fill="#00788a" mask="url(#m1_4)"/>
<use href="#z_de_n" fill="#d04a60"/>
<use href="#z_de_n" fill="#ebe6e3" mask="url(#m0_9)"/>
<use href="#z_de_n" fill="#00788a" mask="url(#m1_4)"/>
<use href="#z_dk" fill="#d04a60"/>
<use href="#z_dk" fill="#ebe6e3" mask="url(#m0_7)"/>
<use href="#z_pl_c" fill="#ecb045"/>
<use href="#z_pl_c" fill="#ebe6e3" mask="url(#m0_10)"/>
<use href="#z_pl_c" fill="#d04a60" mask="url(#m1_6)"/>
<use href="#z_pl_s" fill="#ecb045"/>
<use href="#z_pl_s" fill="#ebe6e3" mask="url(#m0_10)"/>
<use href="#z_pl_s" fill="#62a080" mask="url(#m1_6)"/>
<use href="#z_pl_n" fill="#d04a60"/>
<use href="#z_pl_n" fill="#ebe6e3" mask="url(#m0_8)"/>
<use href="#z_pl_n" fill="#00788a" mask="url(#m1_1)"/>
<use href="#z_cz" fill="#62a080"/>
<use href="#z_cz" fill="#ebe6e3" mask="url(#m0_10)"/>
<use href="#z_cz" fill="#ecb045" mask="url(#m1_6)"/>
<use href="#z_at" fill="#ebe6e3"/>
<use href="#z_at" fill="#00788a" mask="url(#m0_7)"/>
<use href="#z_at" fill="#62a080" mask="url(#m1_4)"/>
<use href="#z_sk" fill="#ebe6e3"/>
<use href="#z_sk" fill="#62a080" mask="url(#m0_9)"/>
<use href="#z_sk" fill="#ecb045" mask="url(#m1_4)"/>
<use href="#z_hu" fill="#62a080"/>
<use href="#z_hu" fill="#00788a" mask="url(#m0_5)"/>
<use href="#z_hu" fill="#ebe6e3" mask="url(#m1_3)"/>
<use href="#z_hu" fill="#d04a60" mask="url(#m2_1)"/>
<use href="#z_hu_e" fill="#62a080"/>
<use href="#z_hu_e" fill="#00788a" mask="url(#m0_8)"/>
<use href="#z_hu_e" fill="#ebe6e3" mask="url(#m1_3)"/>
<use href="#z_hu_e" fill="#d04a60" mask="url(#m2_1)"/>
<use href="#z_si" fill="#ebe6e3"/>
<use href="#z_si" fill="#62a080" mask="url(#m0_9)"/>
<use href="#z_si" fill="#00788a" mask="url(#m1_4)"/>
<use href="#z_it_po" fill="#62a080"/>
<use href="#z_it_po" fill="#00788a" mask="url(#m0_9)"/>
<use href="#z_it_po" fill="#ecb045" mask="url(#m1_4)"/>
<use href="#z_it_po" fill="#ebe6e3" mask="url(#m2_3)"/>
<use href="#z_it_nw" fill="#ebe6e3"/>
<use href="#z_it_nw" fill="#62a080" mask="url(#m0_9)"/>
<use href="#z_it_nw" fill="#ecb045" mask="url(#m1_4)"/>
<use href="#z_it_c" fill="#ebe6e3"/>
<use href="#z_it_c" fill="#62a080" mask="url(#m0_9)"/>
<use href="#z_it_c" fill="#ecb045" mask="url(#m1_4)"/>
<use href="#z_it_s" fill="#62a080"/>
<use href="#z_it_s" fill="#ebe6e3" mask="url(#m0_10)"/>
<use href="#z_it_s" fill="#ecb045" mask="url(#m1_6)"/>
<use href="#z_it_alps" fill="#ebe6e3"/>
<use href="#z_it_alps" fill="#00788a" mask="url(#m0_5)"/>
<use href="#z_it_alps" fill="#62a080" mask="url(#m1_4)"/>
<use href="#z_sardinia" fill="#ebe6e3"/>
<use href="#z_sardinia" fill="#d04a60" mask="url(#m0_6)"/>
<use href="#z_sardinia" fill="#ecb045" mask="url(#m1_1)"/>
<use href="#z_corsica" fill="#ebe6e3"/>
<use href="#z_corsica" fill="#62a080" mask="url(#m0_4)"/>
<use href="#z_corsica" fill="#d04a60" mask="url(#m1_1)"/>
<use href="#z_sicily" fill="#ecb045"/>
<use href="#z_sicily" fill="#ebe6e3" mask="url(#m0_6)"/>
<use href="#z_sicily" fill="#d04a60" mask="url(#m1_1)"/>
<use href="#z_galicia" fill="#ebe6e3"/>
<use href="#z_galicia" fill="#dcdcdc" mask="url(#m0_4)"/>
<use href="#z_galicia" fill="#d04a60" mask="url(#m1_2)"/>
<use href="#z_pt_n" fill="#ebe6e3"/>
<use href="#z_pt_n" fill="#d04a60" mask="url(#m0_5)"/>
<use href="#z_pt_n" fill="#00788a" mask="url(#m1_4)"/>
<use href="#z_pt_s" fill="#ebe6e3"/>
<use href="#z_pt_s" fill="#d04a60" mask="url(#m0_5)"/>
<use href="#z_pt_s" fill="#ecb045" mask="url(#m1_4)"/>
<use href="#z_es_n" fill="#ebe6e3"/>
<use href="#z_es_n" fill="#d04a60" mask="url(#m0_7)"/>
<use href="#z_es_n" fill="#ecb045" mask="url(#m1_4)"/>
<use href="#z_es_cn" fill="#d04a60"/>
<use href="#z_es_cn" fill="#ebe6e3" mask="url(#m0_10)"/>
<use href="#z_es_cn" fill="#ecb045" mask="url(#m1_6)"/>
<use href="#z_es_c" fill="#00788a"/>
<use href="#z_es_c" fill="#ebe6e3" mask="url(#m0_10)"/>
<use href="#z_es_c" fill="#d04a60" mask="url(#m1_4)"/>
<use href="#z_es_c" fill="#ecb045" mask="url(#m2_1)"/>
<use href="#z_es_ne" fill="#ebe6e3"/>
<use href="#z_es_ne" fill="#ecb045" mask="url(#m0_9)"/>
<use href="#z_es_ne" fill="#d04a60" mask="url(#m1_4)"/>
<use href="#z_es_e" fill="#ebe6e3"/>
<use href="#z_es_e" fill="#d04a60" mask="url(#m0_9)"/>
<use href="#z_es_e" fill="#00788a" mask="url(#m1_6)"/>
<use href="#z_es_e" fill="#ecb045" mask="url(#m2_1)"/>
<use href="#z_es_s" fill="#ecb045"/>
<use href="#z_es_s" fill="#ebe6e3" mask="url(#m0_9)"/>
<use href="#z_es_s" fill="#d04a60" mask="url(#m1_4)"/>
<use href="#z_es_se" fill="#ebe6e3"/>
<use href="#z_es_se" fill="#d04a60" mask="url(#m0_7)"/>
<use href="#z_es_se" fill="#ecb045" mask="url(#m1_4)"/>
<use href="#z_es_cn_dk" fill="#d04a60"/>
<use href="#z_es_cn_dk" fill="#00788a" mask="url(#m0_8)"/>
<use href="#z_es_cn_dk" fill="#ebe6e3" mask="url(#m1_5)"/>
<use href="#z_balear" fill="#d04a60"/>
<use href="#z_balear" fill="#ebe6e3" mask="url(#m0_10)"/>
<use href="#z_balear" fill="#ecb045" mask="url(#m1_6)"/>
<use href="#z_se_n" fill="#dcdcdc"/>
<use href="#z_se_n" fill="#ebe6e3" mask="url(#m0_0)"/>
<use href="#z_se_c" fill="#dcdcdc"/>
<use href="#z_se_c" fill="#ebe6e3" mask="url(#m0_3)"/>
<use href="#z_se_c" fill="#d04a60" mask="url(#m1_0)"/>
<use href="#z_se_m" fill="#dcdcdc"/>
<use href="#z_se_m" fill="#ebe6e3" mask="url(#m0_5)"/>
<use href="#z_se_m" fill="#ecb045" mask="url(#m1_2)"/>
<use href="#z_se_m" fill="#d04a60" mask="url(#m2_1)"/>
<use href="#z_se_s" fill="#dcdcdc"/>
<use href="#z_se_s" fill="#ebe6e3" mask="url(#m0_7)"/>
<use href="#z_se_s" fill="#d04a60" mask="url(#m1_0)"/>
<use href="#z_se_s" fill="#ecb045" mask="url(#m2_0)"/>
<use href="#z_gotland" fill="#ebe6e3"/>
<use href="#z_gotland" fill="#d04a60" mask="url(#m0_8)"/>
<use href="#z_gotland" fill="#ecb045" mask="url(#m1_2)"/>
<use href="#z_fi_s" fill="#dcdcdc"/>
<use href="#z_fi_s" fill="#ebe6e3" mask="url(#m0_4)"/>
<use href="#z_fi_s" fill="#ecb045" mask="url(#m1_1)"/>
<use href="#z_fi_s" fill="#d04a60" mask="url(#m2_0)"/>
<use href="#z_fi_c" fill="#dcdcdc"/>
<use href="#z_fi_c" fill="#ebe6e3" mask="url(#m0_3)"/>
<use href="#z_fi_c" fill="#ecb045" mask="url(#m1_0)"/>
<use href="#z_fi_c" fill="#d04a60" mask="url(#m2_0)"/>
<use href="#z_fi_n" fill="#dcdcdc"/>
<use href="#z_fi_n" fill="#ebe6e3" mask="url(#m0_2)"/>
<use href="#z_fi_sw" fill="#dcdcdc"/>
<use href="#z_fi_sw" fill="#ebe6e3" mask="url(#m0_5)"/>
<use href="#z_fi_sw" fill="#ecb045" mask="url(#m1_3)"/>
<use href="#z_fi_sw" fill="#d04a60" mask="url(#m2_0)"/>
<use href="#z_ee" fill="#ebe6e3"/>
<use href="#z_ee" fill="#d04a60" mask="url(#m0_7)"/>
<use href="#z_ee" fill="#dcdcdc" mask="url(#m1_2)"/>
<use href="#z_ee" fill="#00788a" mask="url(#m2_2)"/>
<use href="#z_lv" fill="#ebe6e3"/>
<use href="#z_lv" fill="#d04a60" mask="url(#m0_8)"/>
<use href="#z_lv" fill="#dcdcdc" mask="url(#m1_2)"/>
<use href="#z_lv" fill="#00788a" mask="url(#m2_2)"/>
<use href="#z_lt" fill="#ebe6e3"/>
<use href="#z_lt" fill="#d04a60" mask="url(#m0_8)"/>
<use href="#z_lt" fill="#dcdcdc" mask="url(#m1_2)"/>
<use href="#z_lt" fill="#ecb045" mask="url(#m2_2)"/>
<use href="#z_gr" fill="#ebe6e3"/>
<use href="#z_gr" fill="#00788a" mask="url(#m0_5)"/>
<use href="#z_gr" fill="#d04a60" mask="url(#m1_2)"/>
<use href="#z_gr" fill="#ecb045" mask="url(#m2_1)"/>
<use href="#z_gr_n" fill="#ebe6e3"/>
<use href="#z_gr_n" fill="#00788a" mask="url(#m0_8)"/>
<use href="#z_gr_n" fill="#d04a60" mask="url(#m1_4)"/>
<use href="#z_gr_n" fill="#ecb045" mask="url(#m2_1)"/>
<use href="#z_crete" fill="#ecb045"/>
<use href="#z_crete" fill="#ebe6e3" mask="url(#m0_6)"/>
<use href="#z_crete" fill="#d04a60" mask="url(#m1_1)"/>
</g></g></g>
<use href="#swiss" fill="#e0e0e0" stroke="#555" stroke-width="0.35"/>
<use href="#nbord" fill="none" stroke="#5a5a5a" stroke-width="0.32" stroke-linejoin="round"/>
<use href="#landp" fill="none" stroke="#606060" stroke-width="0.3" stroke-linejoin="round"/>
</g></g>
<rect x="36.55" y="274.50" width="186.00" height="14.90" fill="#d9d9d9" stroke="#454545" stroke-width="1.25"/>
<text transform="translate(129.55,285.20) scale(1,1.07)" font-size="9.2" fill="#1a1a1a" text-anchor="middle">BL</text>
<rect x="36.55" y="289.40" width="186.00" height="239.35" fill="none" stroke="#454545" stroke-width="1.25"/>
<line x1="45.27" y1="528.75" x2="45.27" y2="531.35" stroke="#333" stroke-width="0.8"/>
<text transform="translate(45.27,539.20) scale(0.95,1.0)" font-size="9.6" fill="#4d4d4d" text-anchor="middle">−10<tspan font-size="6" dx="0.3" dy="-4.3">o</tspan><tspan dx="0.1" dy="4.3">W</tspan></text>
<line x1="89.60" y1="528.75" x2="89.60" y2="531.35" stroke="#333" stroke-width="0.8"/>
<text transform="translate(89.60,539.20) scale(0.95,1.0)" font-size="9.6" fill="#4d4d4d" text-anchor="middle">0</text>
<line x1="133.93" y1="528.75" x2="133.93" y2="531.35" stroke="#333" stroke-width="0.8"/>
<text transform="translate(133.93,539.20) scale(0.95,1.0)" font-size="9.6" fill="#4d4d4d" text-anchor="middle">10<tspan font-size="6" dx="0.3" dy="-4.3">o</tspan><tspan dx="0.1" dy="4.3">E</tspan></text>
<line x1="178.26" y1="528.75" x2="178.26" y2="531.35" stroke="#333" stroke-width="0.8"/>
<text transform="translate(178.26,539.20) scale(0.95,1.0)" font-size="9.6" fill="#4d4d4d" text-anchor="middle">20<tspan font-size="6" dx="0.3" dy="-4.3">o</tspan><tspan dx="0.1" dy="4.3">E</tspan></text>
<line x1="33.95" y1="311.00" x2="36.55" y2="311.00" stroke="#333" stroke-width="0.8"/>
<text transform="translate(33.25,314.45) scale(0.98,1.01)" font-size="9.6" fill="#4d4d4d" text-anchor="end">65<tspan font-size="6" dx="0.3" dy="-4.3">o</tspan><tspan dx="0.1" dy="4.3">N</tspan></text>
<line x1="33.95" y1="381.30" x2="36.55" y2="381.30" stroke="#333" stroke-width="0.8"/>
<text transform="translate(33.25,384.75) scale(0.98,1.01)" font-size="9.6" fill="#4d4d4d" text-anchor="end">55<tspan font-size="6" dx="0.3" dy="-4.3">o</tspan><tspan dx="0.1" dy="4.3">N</tspan></text>
<line x1="33.95" y1="451.60" x2="36.55" y2="451.60" stroke="#333" stroke-width="0.8"/>
<text transform="translate(33.25,455.05) scale(0.98,1.01)" font-size="9.6" fill="#4d4d4d" text-anchor="end">45<tspan font-size="6" dx="0.3" dy="-4.3">o</tspan><tspan dx="0.1" dy="4.3">N</tspan></text>
<line x1="33.95" y1="521.90" x2="36.55" y2="521.90" stroke="#333" stroke-width="0.8"/>
<text transform="translate(33.25,525.35) scale(0.98,1.01)" font-size="9.6" fill="#4d4d4d" text-anchor="end">35<tspan font-size="6" dx="0.3" dy="-4.3">o</tspan><tspan dx="0.1" dy="4.3">N</tspan></text>
<text transform="translate(8.3,409.07) rotate(-90)" font-size="11.5" fill="#000" text-anchor="middle">Latitude</text>
<g clip-path="url(#cp11)"><g transform="translate(190.25,268.40)">
<use href="#landp" fill="#e0e0e0"/>
<use href="#bord" fill="none" stroke="#555" stroke-width="0.35" stroke-linejoin="round"/>
<use href="#landp" fill="none" stroke="#555" stroke-width="0.35" stroke-linejoin="round"/>
<g clip-path="url(#land)"><g clip-path="url(#mask)"><g filter="url(#soft)">
<use href="#z_all" fill="#ebe6e3"/>
<use href="#z_all" fill="#00788a" mask="url(#m0_8)"/>
<use href="#z_all" fill="#d04a60" mask="url(#m1_4)"/>
<use href="#z_all" fill="#62a080" mask="url(#m2_1)"/>
<use href="#z_ire" fill="#d04a60"/>
<use href="#z_ire" fill="#00788a" mask="url(#m0_9)"/>
<use href="#z_ire" fill="#ebe6e3" mask="url(#m1_3)"/>
<use href="#z_ire_w" fill="#ebe6e3"/>
<use href="#z_ire_w" fill="#00788a" mask="url(#m0_8)"/>
<use href="#z_ire_w" fill="#d04a60" mask="url(#m1_6)"/>
<use href="#z_scot_hi" fill="#ebe6e3"/>
<use href="#z_scot_hi" fill="#00788a" mask="url(#m0_6)"/>
<use href="#z_scot_hi" fill="#dcdcdc" mask="url(#m1_1)"/>
<use href="#z_scot_ne" fill="#d04a60"/>
<use href="#z_scot_ne" fill="#ebe6e3" mask="url(#m0_9)"/>
<use href="#z_scot_ne" fill="#00788a" mask="url(#m1_4)"/>
<use href="#z_scot_isl" fill="#dcdcdc"/>
<use href="#z_scot_isl" fill="#ebe6e3" mask="url(#m0_4)"/>
<use href="#z_faroe" fill="#dcdcdc"/>
<use href="#z_scot_s" fill="#00788a"/>
<use href="#z_scot_s" fill="#d04a60" mask="url(#m0_8)"/>
<use href="#z_scot_s" fill="#ebe6e3" mask="url(#m1_5)"/>
<use href="#z_eng_n" fill="#00788a"/>
<use href="#z_eng_n" fill="#d04a60" mask="url(#m0_10)"/>
<use href="#z_eng_n" fill="#ebe6e3" mask="url(#m1_5)"/>
<use href="#z_wales" fill="#d04a60"/>
<use href="#z_wales" fill="#00788a" mask="url(#m0_10)"/>
<use href="#z_wales" fill="#ebe6e3" mask="url(#m1_5)"/>
<use href="#z_eng_sw" fill="#d04a60"/>
<use href="#z_eng_sw" fill="#ebe6e3" mask="url(#m0_6)"/>
<use href="#z_eng_sw" fill="#ecb045" mask="url(#m1_4)"/>
<use href="#z_eng_mid" fill="#d04a60"/>
<use href="#z_eng_mid" fill="#ecb045" mask="url(#m0_9)"/>
<use href="#z_eng_mid" fill="#ebe6e3" mask="url(#m1_6)"/>
<use href="#z_eng_mid" fill="#00788a" mask="url(#m2_1)"/>
<use href="#z_eng_s" fill="#ecb045"/>
<use href="#z_eng_s" fill="#d04a60" mask="url(#m0_8)"/>
<use href="#z_eng_s" fill="#ebe6e3" mask="url(#m1_5)"/>
<use href="#z_eng_e" fill="#d04a60"/>
<use href="#z_eng_e" fill="#ebe6e3" mask="url(#m0_6)"/>
<use href="#z_eng_e" fill="#ecb045" mask="url(#m1_1)"/>
<use href="#z_fens" fill="#d04a60"/>
<use href="#z_fens" fill="#ebe6e3" mask="url(#m0_5)"/>
<use href="#z_fra_w" fill="#00788a"/>
<use href="#z_fra_w" fill="#ecb045" mask="url(#m0_10)"/>
<use href="#z_fra_w" fill="#ebe6e3" mask="url(#m1_6)"/>
<use href="#z_fra_w" fill="#d04a60" mask="url(#m2_4)"/>
<use href="#z_fra_c" fill="#00788a"/>
<use href="#z_fra_c" fill="#ebe6e3" mask="url(#m0_10)"/>
<use href="#z_fra_c" fill="#62a080" mask="url(#m1_4)"/>
<use href="#z_fra_c" fill="#ecb045" mask="url(#m2_1)"/>
<use href="#z_fra_n" fill="#62a080"/>
<use href="#z_fra_n" fill="#ecb045" mask="url(#m0_10)"/>
<use href="#z_fra_n" fill="#ebe6e3" mask="url(#m1_5)"/>
<use href="#z_fra_ne" fill="#62a080"/>
<use href="#z_fra_ne" fill="#ebe6e3" mask="url(#m0_10)"/>
<use href="#z_fra_ne" fill="#00788a" mask="url(#m1_4)"/>
<use href="#z_fra_ne" fill="#ecb045" mask="url(#m2_1)"/>
<use href="#z_brittany" fill="#d04a60"/>
<use href="#z_brittany" fill="#ecb045" mask="url(#m0_9)"/>
<use href="#z_brittany" fill="#ebe6e3" mask="url(#m1_6)"/>
<use href="#z_brittany" fill="#00788a" mask="url(#m2_1)"/>
<use href="#z_normandy" fill="#ecb045"/>
<use href="#z_normandy" fill="#62a080" mask="url(#m0_9)"/>
<use href="#z_normandy" fill="#ebe6e3" mask="url(#m1_6)"/>
<use href="#z_normandy" fill="#d04a60" mask="url(#m2_1)"/>
<use href="#z_fra_cw" fill="#00788a"/>
<use href="#z_fra_cw" fill="#ebe6e3" mask="url(#m0_9)"/>
<use href="#z_fra_cw" fill="#d04a60" mask="url(#m1_4)"/>
<use href="#z_massif" fill="#00788a"/>
<use href="#z_massif" fill="#ebe6e3" mask="url(#m0_8)"/>
<use href="#z_massif" fill="#d04a60" mask="url(#m1_1)"/>
<use href="#z_fra_sw" fill="#ebe6e3"/>
<use href="#z_fra_sw" fill="#00788a" mask="url(#m0_6)"/>
<use href="#z_fra_sw" fill="#d04a60" mask="url(#m1_5)"/>
<use href="#z_fra_sw" fill="#ecb045" mask="url(#m2_4)"/>
<use href="#z_landes" fill="#dcdcdc"/>
<use href="#z_landes" fill="#ebe6e3" mask="url(#m0_8)"/>
<use href="#z_fra_s" fill="#ebe6e3"/>
<use href="#z_fra_s" fill="#00788a" mask="url(#m0_8)"/>
<use href="#z_fra_s" fill="#d04a60" mask="url(#m1_4)"/>
<use href="#z_fra_s" fill="#ecb045" mask="url(#m2_1)"/>
<use href="#z_fra_se" fill="#ebe6e3"/>
<use href="#z_fra_se" fill="#00788a" mask="url(#m0_7)"/>
<use href="#z_fra_se" fill="#62a080" mask="url(#m1_2)"/>
<use href="#z_fra_se" fill="#d04a60" mask="url(#m2_1)"/>
<use href="#z_alps_fr" fill="#ebe6e3"/>
<use href="#z_alps_fr" fill="#00788a" mask="url(#m0_6)"/>
<use href="#z_alps_fr" fill="#62a080" mask="url(#m1_1)"/>
<use href="#z_belg" fill="#ebe6e3"/>
<use href="#z_belg" fill="#62a080" mask="url(#m0_9)"/>
<use href="#z_belg" fill="#d04a60" mask="url(#m1_6)"/>
<use href="#z_belg" fill="#00788a" mask="url(#m2_1)"/>
<use href="#z_neth" fill="#d04a60"/>
<use href="#z_neth" fill="#ebe6e3" mask="url(#m0_5)"/>
<use href="#z_de_c" fill="#ebe6e3"/>
<use href="#z_de_c" fill="#62a080" mask="url(#m0_9)"/>
<use href="#z_de_c" fill="#ecb045" mask="url(#m1_6)"/>
<use href="#z_de_c" fill="#00788a" mask="url(#m2_1)"/>
<use href="#z_de_s" fill="#ebe6e3"/>
<use href="#z_de_s" fill="#62a080" mask="url(#m0_9)"/>
<use href="#z_de_s" fill="#00788a" mask="url(#m1_6)"/>
<use href="#z_de_s" fill="#ecb045" mask="url(#m2_1)"/>
<use href="#z_de_nw" fill="#d04a60"/>
<use href="#z_de_nw" fill="#ebe6e3" mask="url(#m0_6)"/>
<use href="#z_de_nw" fill="#00788a" mask="url(#m1_1)"/>
<use href="#z_de_n" fill="#d04a60"/>
<use href="#z_de_n" fill="#ebe6e3" mask="url(#m0_6)"/>
<use href="#z_de_n" fill="#00788a" mask="url(#m1_4)"/>
<use href="#z_dk" fill="#d04a60"/>
<use href="#z_dk" fill="#ebe6e3" mask="url(#m0_5)"/>
<use href="#z_pl_c" fill="#d04a60"/>
<use href="#z_pl_c" fill="#ebe6e3" mask="url(#m0_8)"/>
<use href="#z_pl_c" fill="#ecb045" mask="url(#m1_1)"/>
<use href="#z_pl_s" fill="#d04a60"/>
<use href="#z_pl_s" fill="#ecb045" mask="url(#m0_9)"/>
<use href="#z_pl_s" fill="#ebe6e3" mask="url(#m1_6)"/>
<use href="#z_pl_s" fill="#62a080" mask="url(#m2_1)"/>
<use href="#z_pl_n" fill="#d04a60"/>
<use href="#z_pl_n" fill="#ebe6e3" mask="url(#m0_7)"/>
<use href="#z_cz" fill="#ebe6e3"/>
<use href="#z_cz" fill="#62a080" mask="url(#m0_9)"/>
<use href="#z_cz" fill="#ecb045" mask="url(#m1_5)"/>
<use href="#z_cz" fill="#00788a" mask="url(#m2_4)"/>
<use href="#z_at" fill="#ebe6e3"/>
<use href="#z_at" fill="#00788a" mask="url(#m0_7)"/>
<use href="#z_at" fill="#62a080" mask="url(#m1_4)"/>
<use href="#z_sk" fill="#ebe6e3"/>
<use href="#z_sk" fill="#00788a" mask="url(#m0_8)"/>
<use href="#z_sk" fill="#ecb045" mask="url(#m1_4)"/>
<use href="#z_sk" fill="#62a080" mask="url(#m2_1)"/>
<use href="#z_hu" fill="#62a080"/>
<use href="#z_hu" fill="#00788a" mask="url(#m0_5)"/>
<use href="#z_hu" fill="#ebe6e3" mask="url(#m1_3)"/>
<use href="#z_hu" fill="#d04a60" mask="url(#m2_1)"/>
<use href="#z_hu_e" fill="#62a080"/>
<use href="#z_hu_e" fill="#00788a" mask="url(#m0_8)"/>
<use href="#z_hu_e" fill="#ebe6e3" mask="url(#m1_3)"/>
<use href="#z_hu_e" fill="#d04a60" mask="url(#m2_1)"/>
<use href="#z_si" fill="#ebe6e3"/>
<use href="#z_si" fill="#00788a" mask="url(#m0_9)"/>
<use href="#z_si" fill="#62a080" mask="url(#m1_4)"/>
<use href="#z_it_po" fill="#00788a"/>
<use href="#z_it_po" fill="#ecb045" mask="url(#m0_9)"/>
<use href="#z_it_po" fill="#62a080" mask="url(#m1_4)"/>
<use href="#z_it_po" fill="#ebe6e3" mask="url(#m2_3)"/>
<use href="#z_it_nw" fill="#ebe6e3"/>
<use href="#z_it_nw" fill="#00788a" mask="url(#m0_8)"/>
<use href="#z_it_nw" fill="#62a080" mask="url(#m1_6)"/>
<use href="#z_it_c" fill="#ebe6e3"/>
<use href="#z_it_c" fill="#62a080" mask="url(#m0_8)"/>
<use href="#z_it_c" fill="#00788a" mask="url(#m1_4)"/>
<use href="#z_it_c" fill="#ecb045" mask="url(#m2_1)"/>
<use href="#z_it_s" fill="#ecb045"/>
<use href="#z_it_s" fill="#ebe6e3" mask="url(#m0_10)"/>
<use href="#z_it_s" fill="#62a080" mask="url(#m1_6)"/>
<use href="#z_it_alps" fill="#ebe6e3"/>
<use href="#z_it_alps" fill="#00788a" mask="url(#m0_6)"/>
<use href="#z_it_alps" fill="#62a080" mask="url(#m1_1)"/>
<use href="#z_sardinia" fill="#ebe6e3"/>
<use href="#z_sardinia" fill="#d04a60" mask="url(#m0_6)"/>
<use href="#z_sardinia" fill="#00788a" mask="url(#m1_1)"/>
<use href="#z_corsica" fill="#ebe6e3"/>
<use href="#z_corsica" fill="#00788a" mask="url(#m0_4)"/>
<use href="#z_corsica" fill="#d04a60" mask="url(#m1_1)"/>
<use href="#z_sicily" fill="#ecb045"/>
<use href="#z_sicily" fill="#ebe6e3" mask="url(#m0_8)"/>
<use href="#z_sicily" fill="#d04a60" mask="url(#m1_1)"/>
<use href="#z_galicia" fill="#ebe6e3"/>
<use href="#z_galicia" fill="#dcdcdc" mask="url(#m0_4)"/>
<use href="#z_galicia" fill="#d04a60" mask="url(#m1_2)"/>
<use href="#z_pt_n" fill="#ebe6e3"/>
<use href="#z_pt_n" fill="#d04a60" mask="url(#m0_7)"/>
<use href="#z_pt_n" fill="#00788a" mask="url(#m1_4)"/>
<use href="#z_pt_s" fill="#ebe6e3"/>
<use href="#z_pt_s" fill="#d04a60" mask="url(#m0_7)"/>
<use href="#z_pt_s" fill="#00788a" mask="url(#m1_4)"/>
<use href="#z_es_n" fill="#ebe6e3"/>
<use href="#z_es_n" fill="#d04a60" mask="url(#m0_7)"/>
<use href="#z_es_n" fill="#00788a" mask="url(#m1_4)"/>
<use href="#z_es_cn" fill="#d04a60"/>
<use href="#z_es_cn" fill="#ebe6e3" mask="url(#m0_9)"/>
<use href="#z_es_cn" fill="#00788a" mask="url(#m1_4)"/>
<use href="#z_es_c" fill="#00788a"/>
<use href="#z_es_c" fill="#ebe6e3" mask="url(#m0_9)"/>
<use href="#z_es_c" fill="#d04a60" mask="url(#m1_4)"/>
<use href="#z_es_ne" fill="#ebe6e3"/>
<use href="#z_es_ne" fill="#ecb045" mask="url(#m0_8)"/>
<use href="#z_es_ne" fill="#d04a60" mask="url(#m1_6)"/>
<use href="#z_es_e" fill="#d04a60"/>
<use href="#z_es_e" fill="#ebe6e3" mask="url(#m0_10)"/>
<use href="#z_es_e" fill="#00788a" mask="url(#m1_6)"/>
<use href="#z_es_s" fill="#d04a60"/>
<use href="#z_es_s" fill="#ebe6e3" mask="url(#m0_10)"/>
<use href="#z_es_s" fill="#00788a" mask="url(#m1_6)"/>
<use href="#z_es_se" fill="#ebe6e3"/>
<use href="#z_es_se" fill="#d04a60" mask="url(#m0_9)"/>
<use href="#z_es_se" fill="#00788a" mask="url(#m1_4)"/>
<use href="#z_es_cn_dk" fill="#d04a60"/>
<use href="#z_es_cn_dk" fill="#ebe6e3" mask="url(#m0_6)"/>
<use href="#z_es_cn_dk" fill="#00788a" mask="url(#m1_4)"/>
<use href="#z_balear" fill="#d04a60"/>
<use href="#z_balear" fill="#ebe6e3" mask="url(#m0_9)"/>
<use href="#z_balear" fill="#ecb045" mask="url(#m1_4)"/>
<use href="#z_se_n" fill="#dcdcdc"/>
<use href="#z_se_n" fill="#ebe6e3" mask="url(#m0_0)"/>
<use href="#z_se_c" fill="#dcdcdc"/>
<use href="#z_se_c" fill="#ebe6e3" mask="url(#m0_3)"/>
<use href="#z_se_c" fill="#d04a60" mask="url(#m1_0)"/>
<use href="#z_se_m" fill="#dcdcdc"/>
<use href="#z_se_m" fill="#ebe6e3" mask="url(#m0_5)"/>
<use href="#z_se_m" fill="#d04a60" mask="url(#m1_2)"/>
<use href="#z_se_m" fill="#ecb045" mask="url(#m2_1)"/>
<use href="#z_se_s" fill="#dcdcdc"/>
<use href="#z_se_s" fill="#ebe6e3" mask="url(#m0_7)"/>
<use href="#z_se_s" fill="#d04a60" mask="url(#m1_2)"/>
<use href="#z_gotland" fill="#ebe6e3"/>
<use href="#z_gotland" fill="#d04a60" mask="url(#m0_9)"/>
<use href="#z_fi_s" fill="#dcdcdc"/>
<use href="#z_fi_s" fill="#ebe6e3" mask="url(#m0_4)"/>
<use href="#z_fi_s" fill="#d04a60" mask="url(#m1_1)"/>
<use href="#z_fi_s" fill="#ecb045" mask="url(#m2_0)"/>
<use href="#z_fi_c" fill="#dcdcdc"/>
<use href="#z_fi_c" fill="#ebe6e3" mask="url(#m0_3)"/>
<use href="#z_fi_c" fill="#d04a60" mask="url(#m1_0)"/>
<use href="#z_fi_n" fill="#dcdcdc"/>
<use href="#z_fi_n" fill="#ebe6e3" mask="url(#m0_2)"/>
<use href="#z_fi_sw" fill="#dcdcdc"/>
<use href="#z_fi_sw" fill="#ebe6e3" mask="url(#m0_5)"/>
<use href="#z_fi_sw" fill="#d04a60" mask="url(#m1_2)"/>
<use href="#z_fi_sw" fill="#ecb045" mask="url(#m2_1)"/>
<use href="#z_ee" fill="#ebe6e3"/>
<use href="#z_ee" fill="#d04a60" mask="url(#m0_8)"/>
<use href="#z_ee" fill="#dcdcdc" mask="url(#m1_2)"/>
<use href="#z_ee" fill="#00788a" mask="url(#m2_2)"/>
<use href="#z_lv" fill="#ebe6e3"/>
<use href="#z_lv" fill="#d04a60" mask="url(#m0_9)"/>
<use href="#z_lv" fill="#dcdcdc" mask="url(#m1_2)"/>
<use href="#z_lt" fill="#ebe6e3"/>
<use href="#z_lt" fill="#d04a60" mask="url(#m0_9)"/>
<use href="#z_lt" fill="#dcdcdc" mask="url(#m1_2)"/>
<use href="#z_gr" fill="#ebe6e3"/>
<use href="#z_gr" fill="#00788a" mask="url(#m0_5)"/>
<use href="#z_gr" fill="#d04a60" mask="url(#m1_4)"/>
<use href="#z_gr_n" fill="#ebe6e3"/>
<use href="#z_gr_n" fill="#00788a" mask="url(#m0_9)"/>
<use href="#z_gr_n" fill="#d04a60" mask="url(#m1_4)"/>
<use href="#z_crete" fill="#d04a60"/>
<use href="#z_crete" fill="#ebe6e3" mask="url(#m0_8)"/>
<use href="#z_crete" fill="#ecb045" mask="url(#m1_1)"/>
</g></g></g>
<use href="#swiss" fill="#e0e0e0" stroke="#555" stroke-width="0.35"/>
<use href="#nbord" fill="none" stroke="#5a5a5a" stroke-width="0.32" stroke-linejoin="round"/>
<use href="#landp" fill="none" stroke="#606060" stroke-width="0.3" stroke-linejoin="round"/>
</g></g>
<rect x="226.80" y="274.50" width="186.00" height="14.90" fill="#d9d9d9" stroke="#454545" stroke-width="1.25"/>
<text transform="translate(319.80,285.20) scale(1,1.07)" font-size="9.2" fill="#1a1a1a" text-anchor="middle">PBL</text>
<rect x="226.80" y="289.40" width="186.00" height="239.35" fill="none" stroke="#454545" stroke-width="1.25"/>
<line x1="235.52" y1="528.75" x2="235.52" y2="531.35" stroke="#333" stroke-width="0.8"/>
<text transform="translate(235.52,539.20) scale(0.95,1.0)" font-size="9.6" fill="#4d4d4d" text-anchor="middle">−10<tspan font-size="6" dx="0.3" dy="-4.3">o</tspan><tspan dx="0.1" dy="4.3">W</tspan></text>
<line x1="279.85" y1="528.75" x2="279.85" y2="531.35" stroke="#333" stroke-width="0.8"/>
<text transform="translate(279.85,539.20) scale(0.95,1.0)" font-size="9.6" fill="#4d4d4d" text-anchor="middle">0</text>
<line x1="324.18" y1="528.75" x2="324.18" y2="531.35" stroke="#333" stroke-width="0.8"/>
<text transform="translate(324.18,539.20) scale(0.95,1.0)" font-size="9.6" fill="#4d4d4d" text-anchor="middle">10<tspan font-size="6" dx="0.3" dy="-4.3">o</tspan><tspan dx="0.1" dy="4.3">E</tspan></text>
<line x1="368.51" y1="528.75" x2="368.51" y2="531.35" stroke="#333" stroke-width="0.8"/>
<text transform="translate(368.51,539.20) scale(0.95,1.0)" font-size="9.6" fill="#4d4d4d" text-anchor="middle">20<tspan font-size="6" dx="0.3" dy="-4.3">o</tspan><tspan dx="0.1" dy="4.3">E</tspan></text>
<g clip-path="url(#cp12)"><g transform="translate(380.50,268.40)">
<use href="#landp" fill="#e0e0e0"/>
<use href="#bord" fill="none" stroke="#555" stroke-width="0.35" stroke-linejoin="round"/>
<use href="#landp" fill="none" stroke="#555" stroke-width="0.35" stroke-linejoin="round"/>
<g clip-path="url(#land)"><g clip-path="url(#mask)"><g filter="url(#soft)">
<use href="#z_all" fill="#ebe6e3"/>
<use href="#z_all" fill="#62a080" mask="url(#m0_8)"/>
<use href="#z_all" fill="#ecb045" mask="url(#m1_6)"/>
<use href="#z_ire" fill="#d04a60"/>
<use href="#z_ire" fill="#ecb045" mask="url(#m0_8)"/>
<use href="#z_ire" fill="#62a080" mask="url(#m1_6)"/>
<use href="#z_ire" fill="#00788a" mask="url(#m2_4)"/>
<use href="#z_ire" fill="#ebe6e3" mask="url(#m3_3)"/>
<use href="#z_ire_w" fill="#ebe6e3"/>
<use href="#z_ire_w" fill="#00788a" mask="url(#m0_5)"/>
<use href="#z_ire_w" fill="#d04a60" mask="url(#m1_4)"/>
<use href="#z_ire_w" fill="#62a080" mask="url(#m2_1)"/>
<use href="#z_scot_hi" fill="#ebe6e3"/>
<use href="#z_scot_hi" fill="#00788a" mask="url(#m0_6)"/>
<use href="#z_scot_hi" fill="#dcdcdc" mask="url(#m1_1)"/>
<use href="#z_scot_ne" fill="#ecb045"/>
<use href="#z_scot_ne" fill="#ebe6e3" mask="url(#m0_10)"/>
<use href="#z_scot_ne" fill="#d04a60" mask="url(#m1_6)"/>
<use href="#z_scot_isl" fill="#dcdcdc"/>
<use href="#z_scot_isl" fill="#ebe6e3" mask="url(#m0_4)"/>
<use href="#z_faroe" fill="#dcdcdc"/>
<use href="#z_scot_s" fill="#00788a"/>
<use href="#z_scot_s" fill="#ebe6e3" mask="url(#m0_9)"/>
<use href="#z_scot_s" fill="#d04a60" mask="url(#m1_4)"/>
<use href="#z_eng_n" fill="#00788a"/>
<use href="#z_eng_n" fill="#d04a60" mask="url(#m0_10)"/>
<use href="#z_eng_n" fill="#ebe6e3" mask="url(#m1_6)"/>
<use href="#z_eng_n" fill="#ecb045" mask="url(#m2_4)"/>
<use href="#z_wales" fill="#d04a60"/>
<use href="#z_wales" fill="#00788a" mask="url(#m0_9)"/>
<use href="#z_wales" fill="#ebe6e3" mask="url(#m1_6)"/>
<use href="#z_wales" fill="#ecb045" mask="url(#m2_1)"/>
<use href="#z_eng_sw" fill="#d04a60"/>
<use href="#z_eng_sw" fill="#ecb045" mask="url(#m0_8)"/>
<use href="#z_eng_sw" fill="#ebe6e3" mask="url(#m1_5)"/>
<use href="#z_eng_mid" fill="#ecb045"/>
<use href="#z_eng_mid" fill="#ebe6e3" mask="url(#m0_6)"/>
<use href="#z_eng_mid" fill="#d04a60" mask="url(#m1_4)"/>
<use href="#z_eng_s" fill="#ecb045"/>
<use href="#z_eng_s" fill="#ebe6e3" mask="url(#m0_7)"/>
<use href="#z_eng_e" fill="#d04a60"/>
<use href="#z_eng_e" fill="#ecb045" mask="url(#m0_8)"/>
<use href="#z_eng_e" fill="#ebe6e3" mask="url(#m1_5)"/>
<use href="#z_fens" fill="#d04a60"/>
<use href="#z_fens" fill="#ecb045" mask="url(#m0_7)"/>
<use href="#z_fens" fill="#ebe6e3" mask="url(#m1_3)"/>
<use href="#z_fra_w" fill="#ecb045"/>
<use href="#z_fra_w" fill="#62a080" mask="url(#m0_8)"/>
<use href="#z_fra_w" fill="#ebe6e3" mask="url(#m1_5)"/>
<use href="#z_fra_c" fill="#62a080"/>
<use href="#z_fra_c" fill="#ebe6e3" mask="url(#m0_10)"/>
<use href="#z_fra_c" fill="#00788a" mask="url(#m1_6)"/>
<use href="#z_fra_n" fill="#62a080"/>
<use href="#z_fra_n" fill="#ecb045" mask="url(#m0_8)"/>
<use href="#z_fra_n" fill="#ebe6e3" mask="url(#m1_5)"/>
<use href="#z_fra_ne" fill="#62a080"/>
<use href="#z_fra_ne" fill="#ebe6e3" mask="url(#m0_9)"/>
<use href="#z_fra_ne" fill="#ecb045" mask="url(#m1_4)"/>
<use href="#z_brittany" fill="#ecb045"/>
<use href="#z_brittany" fill="#ebe6e3" mask="url(#m0_6)"/>
<use href="#z_brittany" fill="#62a080" mask="url(#m1_4)"/>
<use href="#z_normandy" fill="#ecb045"/>
<use href="#z_normandy" fill="#62a080" mask="url(#m0_8)"/>
<use href="#z_normandy" fill="#ebe6e3" mask="url(#m1_5)"/>
<use href="#z_fra_cw" fill="#00788a"/>
<use href="#z_fra_cw" fill="#ebe6e3" mask="url(#m0_10)"/>
<use href="#z_fra_cw" fill="#62a080" mask="url(#m1_6)"/>
<use href="#z_massif" fill="#00788a"/>
<use href="#z_massif" fill="#ebe6e3" mask="url(#m0_9)"/>
<use href="#z_massif" fill="#62a080" mask="url(#m1_4)"/>
<use href="#z_fra_sw" fill="#ebe6e3"/>
<use href="#z_fra_sw" fill="#ecb045" mask="url(#m0_8)"/>
<use href="#z_fra_sw" fill="#62a080" mask="url(#m1_6)"/>
<use href="#z_landes" fill="#dcdcdc"/>
<use href="#z_landes" fill="#ebe6e3" mask="url(#m0_8)"/>
<use href="#z_fra_s" fill="#ebe6e3"/>
<use href="#z_fra_s" fill="#62a080" mask="url(#m0_7)"/>
<use href="#z_fra_s" fill="#ecb045" mask="url(#m1_4)"/>
<use href="#z_fra_se" fill="#ebe6e3"/>
<use href="#z_fra_se" fill="#62a080" mask="url(#m0_7)"/>
<use href="#z_fra_se" fill="#ecb045" mask="url(#m1_4)"/>
<use href="#z_alps_fr" fill="#ebe6e3"/>
<use href="#z_alps_fr" fill="#00788a" mask="url(#m0_5)"/>
<use href="#z_alps_fr" fill="#62a080" mask="url(#m1_4)"/>
<use href="#z_belg" fill="#62a080"/>
<use href="#z_belg" fill="#ebe6e3" mask="url(#m0_10)"/>
<use href="#z_belg" fill="#ecb045" mask="url(#m1_6)"/>
<use href="#z_neth" fill="#d04a60"/>
<use href="#z_neth" fill="#ebe6e3" mask="url(#m0_6)"/>
<use href="#z_neth" fill="#ecb045" mask="url(#m1_4)"/>
<use href="#z_de_c" fill="#62a080"/>
<use href="#z_de_c" fill="#ecb045" mask="url(#m0_10)"/>
<use href="#z_de_c" fill="#ebe6e3" mask="url(#m1_5)"/>
<use href="#z_de_s" fill="#62a080"/>
<use href="#z_de_s" fill="#ebe6e3" mask="url(#m0_9)"/>
<use href="#z_de_s" fill="#ecb045" mask="url(#m1_4)"/>
<use href="#z_de_nw" fill="#d04a60"/>
<use href="#z_de_nw" fill="#ecb045" mask="url(#m0_8)"/>
<use href="#z_de_nw" fill="#ebe6e3" mask="url(#m1_5)"/>
<use href="#z_de_n" fill="#d04a60"/>
<use href="#z_de_n" fill="#ecb045" mask="url(#m0_9)"/>
<use href="#z_de_n" fill="#ebe6e3" mask="url(#m1_6)"/>
<use href="#z_de_n" fill="#00788a" mask="url(#m2_1)"/>
<use href="#z_dk" fill="#d04a60"/>
<use href="#z_dk" fill="#ebe6e3" mask="url(#m0_7)"/>
<use href="#z_pl_c" fill="#ecb045"/>
<use href="#z_pl_c" fill="#d04a60" mask="url(#m0_8)"/>
<use href="#z_pl_c" fill="#ebe6e3" mask="url(#m1_5)"/>
<use href="#z_pl_s" fill="#ecb045"/>
<use href="#z_pl_s" fill="#ebe6e3" mask="url(#m0_9)"/>
<use href="#z_pl_s" fill="#62a080" mask="url(#m1_4)"/>
<use href="#z_pl_n" fill="#ecb045"/>
<use href="#z_pl_n" fill="#d04a60" mask="url(#m0_10)"/>
<use href="#z_pl_n" fill="#ebe6e3" mask="url(#m1_5)"/>
<use href="#z_cz" fill="#62a080"/>
<use href="#z_cz" fill="#ecb045" mask="url(#m0_10)"/>
<use href="#z_cz" fill="#ebe6e3" mask="url(#m1_5)"/>
<use href="#z_at" fill="#ebe6e3"/>
<use href="#z_at" fill="#00788a" mask="url(#m0_7)"/>
<use href="#z_at" fill="#62a080" mask="url(#m1_4)"/>
<use href="#z_sk" fill="#ebe6e3"/>
<use href="#z_sk" fill="#62a080" mask="url(#m0_9)"/>
<use href="#z_sk" fill="#ecb045" mask="url(#m1_4)"/>
<use href="#z_hu" fill="#62a080"/>
<use href="#z_hu" fill="#00788a" mask="url(#m0_5)"/>
<use href="#z_hu" fill="#ebe6e3" mask="url(#m1_3)"/>
<use href="#z_hu" fill="#ecb045" mask="url(#m2_1)"/>
<use href="#z_hu_e" fill="#62a080"/>
<use href="#z_hu_e" fill="#00788a" mask="url(#m0_8)"/>
<use href="#z_hu_e" fill="#ebe6e3" mask="url(#m1_3)"/>
<use href="#z_hu_e" fill="#ecb045" mask="url(#m2_1)"/>
<use href="#z_si" fill="#ebe6e3"/>
<use href="#z_si" fill="#62a080" mask="url(#m0_9)"/>
<use href="#z_si" fill="#00788a" mask="url(#m1_4)"/>
<use href="#z_it_po" fill="#00788a"/>
<use href="#z_it_po" fill="#ecb045" mask="url(#m0_10)"/>
<use href="#z_it_po" fill="#62a080" mask="url(#m1_7)"/>
<use href="#z_it_po" fill="#ebe6e3" mask="url(#m2_3)"/>
<use href="#z_it_nw" fill="#ebe6e3"/>
<use href="#z_it_nw" fill="#62a080" mask="url(#m0_9)"/>
<use href="#z_it_nw" fill="#ecb045" mask="url(#m1_4)"/>
<use href="#z_it_c" fill="#ebe6e3"/>
<use href="#z_it_c" fill="#62a080" mask="url(#m0_9)"/>
<use href="#z_it_c" fill="#ecb045" mask="url(#m1_4)"/>
<use href="#z_it_s" fill="#ecb045"/>
<use href="#z_it_s" fill="#62a080" mask="url(#m0_10)"/>
<use href="#z_it_s" fill="#ebe6e3" mask="url(#m1_5)"/>
<use href="#z_it_alps" fill="#ebe6e3"/>
<use href="#z_it_alps" fill="#00788a" mask="url(#m0_5)"/>
<use href="#z_it_alps" fill="#62a080" mask="url(#m1_4)"/>
<use href="#z_sardinia" fill="#ebe6e3"/>
<use href="#z_sardinia" fill="#ecb045" mask="url(#m0_5)"/>
<use href="#z_sardinia" fill="#d04a60" mask="url(#m1_2)"/>
<use href="#z_sardinia" fill="#62a080" mask="url(#m2_1)"/>
<use href="#z_corsica" fill="#ebe6e3"/>
<use href="#z_corsica" fill="#62a080" mask="url(#m0_4)"/>
<use href="#z_corsica" fill="#ecb045" mask="url(#m1_1)"/>
<use href="#z_sicily" fill="#ecb045"/>
<use href="#z_sicily" fill="#ebe6e3" mask="url(#m0_6)"/>
<use href="#z_sicily" fill="#62a080" mask="url(#m1_1)"/>
<use href="#z_galicia" fill="#ebe6e3"/>
<use href="#z_galicia" fill="#dcdcdc" mask="url(#m0_4)"/>
<use href="#z_galicia" fill="#d04a60" mask="url(#m1_2)"/>
<use href="#z_pt_n" fill="#ebe6e3"/>
<use href="#z_pt_n" fill="#62a080" mask="url(#m0_5)"/>
<use href="#z_pt_n" fill="#ecb045" mask="url(#m1_4)"/>
<use href="#z_pt_s" fill="#ebe6e3"/>
<use href="#z_pt_s" fill="#ecb045" mask="url(#m0_6)"/>
<use href="#z_pt_s" fill="#62a080" mask="url(#m1_1)"/>
<use href="#z_es_n" fill="#ebe6e3"/>
<use href="#z_es_n" fill="#ecb045" mask="url(#m0_7)"/>
<use href="#z_es_n" fill="#62a080" mask="url(#m1_4)"/>
<use href="#z_es_cn" fill="#ecb045"/>
<use href="#z_es_cn" fill="#ebe6e3" mask="url(#m0_10)"/>
<use href="#z_es_cn" fill="#62a080" mask="url(#m1_6)"/>
<use href="#z_es_c" fill="#62a080"/>
<use href="#z_es_c" fill="#ecb045" mask="url(#m0_10)"/>
<use href="#z_es_c" fill="#ebe6e3" mask="url(#m1_6)"/>
<use href="#z_es_c" fill="#00788a" mask="url(#m2_4)"/>
<use href="#z_es_ne" fill="#ecb045"/>
<use href="#z_es_ne" fill="#ebe6e3" mask="url(#m0_9)"/>
<use href="#z_es_ne" fill="#62a080" mask="url(#m1_4)"/>
<use href="#z_es_e" fill="#ecb045"/>
<use href="#z_es_e" fill="#ebe6e3" mask="url(#m0_10)"/>
<use href="#z_es_e" fill="#62a080" mask="url(#m1_6)"/>
<use href="#z_es_s" fill="#ecb045"/>
<use href="#z_es_s" fill="#ebe6e3" mask="url(#m0_9)"/>
<use href="#z_es_s" fill="#62a080" mask="url(#m1_4)"/>
<use href="#z_es_se" fill="#ebe6e3"/>
<use href="#z_es_se" fill="#ecb045" mask="url(#m0_7)"/>
<use href="#z_es_se" fill="#62a080" mask="url(#m1_4)"/>
<use href="#z_es_cn_dk" fill="#ecb045"/>
<use href="#z_es_cn_dk" fill="#ebe6e3" mask="url(#m0_10)"/>
<use href="#z_es_cn_dk" fill="#62a080" mask="url(#m1_6)"/>
<use href="#z_es_cn_dk" fill="#00788a" mask="url(#m2_3)"/>
<use href="#z_balear" fill="#ecb045"/>
<use href="#z_balear" fill="#ebe6e3" mask="url(#m0_9)"/>
<use href="#z_balear" fill="#d04a60" mask="url(#m1_4)"/>
<use href="#z_se_n" fill="#dcdcdc"/>
<use href="#z_se_n" fill="#ebe6e3" mask="url(#m0_0)"/>
<use href="#z_se_c" fill="#dcdcdc"/>
<use href="#z_se_c" fill="#ebe6e3" mask="url(#m0_3)"/>
<use href="#z_se_c" fill="#ecb045" mask="url(#m1_0)"/>
<use href="#z_se_m" fill="#dcdcdc"/>
<use href="#z_se_m" fill="#ebe6e3" mask="url(#m0_5)"/>
<use href="#z_se_m" fill="#ecb045" mask="url(#m1_3)"/>
<use href="#z_se_m" fill="#d04a60" mask="url(#m2_0)"/>
<use href="#z_se_s" fill="#dcdcdc"/>
<use href="#z_se_s" fill="#ebe6e3" mask="url(#m0_7)"/>
<use href="#z_se_s" fill="#ecb045" mask="url(#m1_1)"/>
<use href="#z_se_s" fill="#d04a60" mask="url(#m2_0)"/>
<use href="#z_gotland" fill="#ebe6e3"/>
<use href="#z_gotland" fill="#d04a60" mask="url(#m0_6)"/>
<use href="#z_gotland" fill="#ecb045" mask="url(#m1_5)"/>
<use href="#z_fi_s" fill="#dcdcdc"/>
<use href="#z_fi_s" fill="#ebe6e3" mask="url(#m0_4)"/>
<use href="#z_fi_s" fill="#ecb045" mask="url(#m1_2)"/>
<use href="#z_fi_c" fill="#dcdcdc"/>
<use href="#z_fi_c" fill="#ebe6e3" mask="url(#m0_3)"/>
<use href="#z_fi_c" fill="#ecb045" mask="url(#m1_0)"/>
<use href="#z_fi_n" fill="#dcdcdc"/>
<use href="#z_fi_n" fill="#ebe6e3" mask="url(#m0_2)"/>
<use href="#z_fi_sw" fill="#dcdcdc"/>
<use href="#z_fi_sw" fill="#ebe6e3" mask="url(#m0_5)"/>
<use href="#z_fi_sw" fill="#ecb045" mask="url(#m1_4)"/>
<use href="#z_ee" fill="#ebe6e3"/>
<use href="#z_ee" fill="#ecb045" mask="url(#m0_5)"/>
<use href="#z_ee" fill="#d04a60" mask="url(#m1_4)"/>
<use href="#z_ee" fill="#dcdcdc" mask="url(#m2_2)"/>
<use href="#z_lv" fill="#ebe6e3"/>
<use href="#z_lv" fill="#d04a60" mask="url(#m0_6)"/>
<use href="#z_lv" fill="#ecb045" mask="url(#m1_4)"/>
<use href="#z_lv" fill="#dcdcdc" mask="url(#m2_2)"/>
<use href="#z_lt" fill="#ebe6e3"/>
<use href="#z_lt" fill="#d04a60" mask="url(#m0_6)"/>
<use href="#z_lt" fill="#ecb045" mask="url(#m1_4)"/>
<use href="#z_lt" fill="#dcdcdc" mask="url(#m2_2)"/>
<use href="#z_gr" fill="#ebe6e3"/>
<use href="#z_gr" fill="#62a080" mask="url(#m0_5)"/>
<use href="#z_gr" fill="#ecb045" mask="url(#m1_4)"/>
<use href="#z_gr_n" fill="#ebe6e3"/>
<use href="#z_gr_n" fill="#00788a" mask="url(#m0_8)"/>
<use href="#z_gr_n" fill="#62a080" mask="url(#m1_4)"/>
<use href="#z_gr_n" fill="#ecb045" mask="url(#m2_1)"/>
<use href="#z_crete" fill="#ecb045"/>
<use href="#z_crete" fill="#ebe6e3" mask="url(#m0_6)"/>
<use href="#z_crete" fill="#d04a60" mask="url(#m1_1)"/>
</g></g></g>
<use href="#swiss" fill="#e0e0e0" stroke="#555" stroke-width="0.35"/>
<use href="#nbord" fill="none" stroke="#5a5a5a" stroke-width="0.32" stroke-linejoin="round"/>
<use href="#landp" fill="none" stroke="#606060" stroke-width="0.3" stroke-linejoin="round"/>
</g></g>
<rect x="417.05" y="274.50" width="186.00" height="14.90" fill="#d9d9d9" stroke="#454545" stroke-width="1.25"/>
<text transform="translate(510.05,285.20) scale(1,1.07)" font-size="9.2" fill="#1a1a1a" text-anchor="middle">NBL</text>
<rect x="417.05" y="289.40" width="186.00" height="239.35" fill="none" stroke="#454545" stroke-width="1.25"/>
<line x1="425.77" y1="528.75" x2="425.77" y2="531.35" stroke="#333" stroke-width="0.8"/>
<text transform="translate(425.77,539.20) scale(0.95,1.0)" font-size="9.6" fill="#4d4d4d" text-anchor="middle">−10<tspan font-size="6" dx="0.3" dy="-4.3">o</tspan><tspan dx="0.1" dy="4.3">W</tspan></text>
<line x1="470.10" y1="528.75" x2="470.10" y2="531.35" stroke="#333" stroke-width="0.8"/>
<text transform="translate(470.10,539.20) scale(0.95,1.0)" font-size="9.6" fill="#4d4d4d" text-anchor="middle">0</text>
<line x1="514.43" y1="528.75" x2="514.43" y2="531.35" stroke="#333" stroke-width="0.8"/>
<text transform="translate(514.43,539.20) scale(0.95,1.0)" font-size="9.6" fill="#4d4d4d" text-anchor="middle">10<tspan font-size="6" dx="0.3" dy="-4.3">o</tspan><tspan dx="0.1" dy="4.3">E</tspan></text>
<line x1="558.76" y1="528.75" x2="558.76" y2="531.35" stroke="#333" stroke-width="0.8"/>
<text transform="translate(558.76,539.20) scale(0.95,1.0)" font-size="9.6" fill="#4d4d4d" text-anchor="middle">20<tspan font-size="6" dx="0.3" dy="-4.3">o</tspan><tspan dx="0.1" dy="4.3">E</tspan></text>
<text x="2.3" y="9.2" font-size="16.8" font-weight="bold" fill="#000">a</text>
<text x="1.1" y="285.4" font-size="16.8" font-weight="bold" fill="#000">b</text>
<text x="319.80" y="552.7" font-size="11.6" fill="#000" text-anchor="middle">Longitude</text>
<linearGradient id="cb" x1="0" y1="1" x2="0" y2="0">
<stop offset="0" stop-color="#fdf6b5"/><stop offset="0.15" stop-color="#f2d466"/><stop offset="0.3" stop-color="#ebb04c"/>
<stop offset="0.45" stop-color="#e58a4c"/><stop offset="0.58" stop-color="#d8624f"/><stop offset="0.68" stop-color="#b8464e"/>
<stop offset="0.8" stop-color="#6e2e2f"/><stop offset="0.9" stop-color="#3a2520"/><stop offset="1" stop-color="#1a1a0e"/></linearGradient>
<rect x="625.9" y="118.5" width="11.1" height="53.5" fill="url(#cb)"/>
<line x1="625.9" y1="118.80" x2="628.1" y2="118.80" stroke="#fff" stroke-width="0.5"/><line x1="634.8" y1="118.80" x2="637" y2="118.80" stroke="#fff" stroke-width="0.5"/>
<text transform="translate(640.0,122.00) scale(1.02,1.0)" font-size="9" fill="#4d4d4d">100</text>
<line x1="625.9" y1="129.63" x2="628.1" y2="129.63" stroke="#fff" stroke-width="0.5"/><line x1="634.8" y1="129.63" x2="637" y2="129.63" stroke="#fff" stroke-width="0.5"/>
<text transform="translate(640.0,132.83) scale(1.02,1.0)" font-size="9" fill="#4d4d4d">90</text>
<line x1="625.9" y1="140.46" x2="628.1" y2="140.46" stroke="#fff" stroke-width="0.5"/><line x1="634.8" y1="140.46" x2="637" y2="140.46" stroke="#fff" stroke-width="0.5"/>
<text transform="translate(640.0,143.66) scale(1.02,1.0)" font-size="9" fill="#4d4d4d">80</text>
<line x1="625.9" y1="151.29" x2="628.1" y2="151.29" stroke="#fff" stroke-width="0.5"/><line x1="634.8" y1="151.29" x2="637" y2="151.29" stroke="#fff" stroke-width="0.5"/>
<text transform="translate(640.0,154.49) scale(1.02,1.0)" font-size="9" fill="#4d4d4d">70</text>
<line x1="625.9" y1="162.12" x2="628.1" y2="162.12" stroke="#fff" stroke-width="0.5"/><line x1="634.8" y1="162.12" x2="637" y2="162.12" stroke="#fff" stroke-width="0.5"/>
<text transform="translate(640.0,165.32) scale(1.02,1.0)" font-size="9" fill="#4d4d4d">60</text>
<text x="625.5" y="111.8" font-size="10.2" fill="#000">MAOC<tspan font-size="6.2" dy="3.0">sat</tspan><tspan dy="-3.0"> / %</tspan></text>
<rect x="625.8" y="379.1" width="29.6" height="29.8" fill="#d04a60"/>
<rect x="655.4" y="379.1" width="29.6" height="29.8" fill="#00788a"/>
<rect x="625.8" y="408.9" width="29.6" height="30.4" fill="#ecb045"/>
<rect x="655.4" y="408.9" width="29.6" height="30.4" fill="#62a080"/>
<text transform="translate(640.6,397.8) scale(1,1.06)" font-size="9.4" fill="#1a1a1a" text-anchor="middle">HR</text>
<text transform="translate(670.2,397.8) scale(1,1.06)" font-size="9.4" fill="#1a1a1a" text-anchor="middle">NH</text>
<text transform="translate(640.6,427.5) scale(1,1.06)" font-size="9.4" fill="#1a1a1a" text-anchor="middle">HH</text>
<text transform="translate(670.2,427.5) scale(1,1.06)" font-size="9.4" fill="#1a1a1a" text-anchor="middle">NR</text>
<text transform="translate(655.4,449.0) scale(1,1.02)" font-size="8.6" fill="#262626" text-anchor="middle">ΔSOC</text>
<path d="M625.8,379.1V439.4H685" fill="none" stroke="#777" stroke-width="0.7"/>
<text transform="translate(620,409.3) rotate(-90)" font-size="8.2" fill="#000" text-anchor="middle">MAOC<tspan font-size="5.8" dy="2">sat</tspan></text>
<defs><filter id="f0_0" x="-50" y="-50" width="800" height="400" filterUnits="userSpaceOnUse" color-interpolation-filters="sRGB"><feTurbulence type="fractalNoise" baseFrequency="0.85" numOctaves="2" seed="1"/><feComponentTransfer><feFuncR type="discrete" tableValues="0 0 0 0 0 0 0 0 0 0 0 0 0 0 0 0 0 0 0 0 0 0 0 0 0 0 0 0 0 0 0 0 0 0 0 0 0 0 0 0 0 0 0 0 0 0 0 0 0 0 0 0 0 0 0 0 0 0 0 0 0 0 0 0 0 0 0 0 0 0 0 1 1 1 1 1 1 1 1 1 1 1 1 1 1 1 1 1 1 1 1 1 1 1 1 1 1 1 1 1"/><feFuncA type="linear" slope="0" intercept="1"/></feComponentTransfer><feColorMatrix type="matrix" values="1 0 0 0 0 1 0 0 0 0 1 0 0 0 0 0 0 0 0 1"/></filter><mask id="m0_0" maskUnits="userSpaceOnUse" x="-50" y="-50" width="800" height="400"><rect x="-50" y="-50" width="800" height="400" filter="url(#f0_0)"/></mask><filter id="f0_1" x="-50" y="-50" width="800" height="400" filterUnits="userSpaceOnUse" color-interpolation-filters="sRGB"><feTurbulence type="fractalNoise" baseFrequency="0.85" numOctaves="2" seed="1"/><feComponentTransfer><feFuncR type="discrete" tableValues="0 0 0 0 0 0 0 0 0 0 0 0 0 0 0 0 0 0 0 0 0 0 0 0 0 0 0 0 0 0 0 0 0 0 0 0 0 0 0 0 0 0 0 0 0 0 0 0 0 0 0 0 0 0 0 0 0 0 0 0 0 0 0 0 0 0 0 1 1 1 1 1 1 1 1 1 1 1 1 1 1 1 1 1 1 1 1 1 1 1 1 1 1 1 1 1 1 1 1 1"/><feFuncA type="linear" slope="0" intercept="1"/></feComponentTransfer><feColorMatrix type="matrix" values="1 0 0 0 0 1 0 0 0 0 1 0 0 0 0 0 0 0 0 1"/></filter><mask id="m0_1" maskUnits="userSpaceOnUse" x="-50" y="-50" width="800" height="400"><rect x="-50" y="-50" width="800" height="400" filter="url(#f0_1)"/></mask><filter id="f0_2" x="-50" y="-50" width="800" height="400" filterUnits="userSpaceOnUse" color-interpolation-filters="sRGB"><feTurbulence type="fractalNoise" baseFrequency="0.85" numOctaves="2" seed="1"/><feComponentTransfer><feFuncR type="discrete" tableValues="0 0 0 0 0 0 0 0 0 0 0 0 0 0 0 0 0 0 0 0 0 0 0 0 0 0 0 0 0 0 0 0 0 0 0 0 0 0 0 0 0 0 0 0 0 0 0 0 0 0 0 0 0 0 0 0 0 0 0 0 0 0 0 0 1 1 1 1 1 1 1 1 1 1 1 1 1 1 1 1 1 1 1 1 1 1 1 1 1 1 1 1 1 1 1 1 1 1 1 1"/><feFuncA type="linear" slope="0" intercept="1"/></feComponentTransfer><feColorMatrix type="matrix" values="1 0 0 0 0 1 0 0 0 0 1 0 0 0 0 0 0 0 0 1"/></filter><mask id="m0_2" maskUnits="userSpaceOnUse" x="-50" y="-50" width="800" height="400"><rect x="-50" y="-50" width="800" height="400" filter="url(#f0_2)"/></mask><filter id="f0_3" x="-50" y="-50" width="800" height="400" filterUnits="userSpaceOnUse" color-interpolation-filters="sRGB"><feTurbulence type="fractalNoise" baseFrequency="0.85" numOctaves="2" seed="1"/><feComponentTransfer><feFuncR type="discrete" tableValues="0 0 0 0 0 0 0 0 0 0 0 0 0 0 0 0 0 0 0 0 0 0 0 0 0 0 0 0 0 0 0 0 0 0 0 0 0 0 0 0 0 0 0 0 0 0 0 0 0 0 0 0 0 0 0 0 0 0 0 0 0 0 1 1 1 1 1 1 1 1 1 1 1 1 1 1 1 1 1 1 1 1 1 1 1 1 1 1 1 1 1 1 1 1 1 1 1 1 1 1"/><feFuncA type="linear" slope="0" intercept="1"/></feComponentTransfer><feColorMatrix type="matrix" values="1 0 0 0 0 1 0 0 0 0 1 0 0 0 0 0 0 0 0 1"/></filter><mask id="m0_3" maskUnits="userSpaceOnUse" x="-50" y="-50" width="800" height="400"><rect x="-50" y="-50" width="800" height="400" filter="url(#f0_3)"/></mask><filter id="f0_4" x="-50" y="-50" width="800" height="400" filterUnits="userSpaceOnUse" color-interpolation-filters="sRGB"><feTurbulence type="fractalNoise" baseFrequency="0.85" numOctaves="2" seed="1"/><feComponentTransfer><feFuncR type="discrete" tableValues="0 0 0 0 0 0 0 0 0 0 0 0 0 0 0 0 0 0 0 0 0 0 0 0 0 0 0 0 0 0 0 0 0 0 0 0 0 0 0 0 0 0 0 0 0 0 0 0 0 0 0 0 0 0 0 0 0 0 0 0 1 1 1 1 1 1 1 1 1 1 1 1 1 1 1 1 1 1 1 1 1 1 1 1 1 1 1 1 1 1 1 1 1 1 1 1 1 1 1 1"/><feFuncA type="linear" slope="0" intercept="1"/></feComponentTransfer><feColorMatrix type="matrix" values="1 0 0 0 0 1 0 0 0 0 1 0 0 0 0 0 0 0 0 1"/></filter><mask id="m0_4" maskUnits="userSpaceOnUse" x="-50" y="-50" width="800" height="400"><rect x="-50" y="-50" width="800" height="400" filter="url(#f0_4)"/></mask><filter id="f0_5" x="-50" y="-50" width="800" height="400" filterUnits="userSpaceOnUse" color-interpolation-filters="sRGB"><feTurbulence type="fractalNoise" baseFrequency="0.85" numOctaves="2" seed="1"/><feComponentTransfer><feFuncR type="discrete" tableValues="0 0 0 0 0 0 0 0 0 0 0 0 0 0 0 0 0 0 0 0 0 0 0 0 0 0 0 0 0 0 0 0 0 0 0 0 0 0 0 0 0 0 0 0 0 0 0 0 0 0 0 0 0 0 0 0 0 0 1 1 1 1 1 1 1 1 1 1 1 1 1 1 1 1 1 1 1 1 1 1 1 1 1 1 1 1 1 1 1 1 1 1 1 1 1 1 1 1 1 1"/><feFuncA type="linear" slope="0" intercept="1"/></feComponentTransfer><feColorMatrix type="matrix" values="1 0 0 0 0 1 0 0 0 0 1 0 0 0 0 0 0 0 0 1"/></filter><mask id="m0_5" maskUnits="userSpaceOnUse" x="-50" y="-50" width="800" height="400"><rect x="-50" y="-50" width="800" height="400" filter="url(#f0_5)"/></mask><filter id="f0_6" x="-50" y="-50" width="800" height="400" filterUnits="userSpaceOnUse" color-interpolation-filters="sRGB"><feTurbulence type="fractalNoise" baseFrequency="0.85" numOctaves="2" seed="1"/><feComponentTransfer><feFuncR type="discrete" tableValues="0 0 0 0 0 0 0 0 0 0 0 0 0 0 0 0 0 0 0 0 0 0 0 0 0 0 0 0 0 0 0 0 0 0 0 0 0 0 0 0 0 0 0 0 0 0 0 0 0 0 0 0 0 0 0 0 1 1 1 1 1 1 1 1 1 1 1 1 1 1 1 1 1 1 1 1 1 1 1 1 1 1 1 1 1 1 1 1 1 1 1 1 1 1 1 1 1 1 1 1"/><feFuncA type="linear" slope="0" intercept="1"/></feComponentTransfer><feColorMatrix type="matrix" values="1 0 0 0 0 1 0 0 0 0 1 0 0 0 0 0 0 0 0 1"/></filter><mask id="m0_6" maskUnits="userSpaceOnUse" x="-50" y="-50" width="800" height="400"><rect x="-50" y="-50" width="800" height="400" filter="url(#f0_6)"/></mask><filter id="f0_7" x="-50" y="-50" width="800" height="400" filterUnits="userSpaceOnUse" color-interpolation-filters="sRGB"><feTurbulence type="fractalNoise" baseFrequency="0.85" numOctaves="2" seed="1"/><feComponentTransfer><feFuncR type="discrete" tableValues="0 0 0 0 0 0 0 0 0 0 0 0 0 0 0 0 0 0 0 0 0 0 0 0 0 0 0 0 0 0 0 0 0 0 0 0 0 0 0 0 0 0 0 0 0 0 0 0 0 0 0 0 0 0 0 1 1 1 1 1 1 1 1 1 1 1 1 1 1 1 1 1 1 1 1 1 1 1 1 1 1 1 1 1 1 1 1 1 1 1 1 1 1 1 1 1 1 1 1 1"/><feFuncA type="linear" slope="0" intercept="1"/></feComponentTransfer><feColorMatrix type="matrix" values="1 0 0 0 0 1 0 0 0 0 1 0 0 0 0 0 0 0 0 1"/></filter><mask id="m0_7" maskUnits="userSpaceOnUse" x="-50" y="-50" width="800" height="400"><rect x="-50" y="-50" width="800" height="400" filter="url(#f0_7)"/></mask><filter id="f0_8" x="-50" y="-50" width="800" height="400" filterUnits="userSpaceOnUse" color-interpolation-filters="sRGB"><feTurbulence type="fractalNoise" baseFrequency="0.85" numOctaves="2" seed="1"/><feComponentTransfer><feFuncR type="discrete" tableValues="0 0 0 0 0 0 0 0 0 0 0 0 0 0 0 0 0 0 0 0 0 0 0 0 0 0 0 0 0 0 0 0 0 0 0 0 0 0 0 0 0 0 0 0 0 0 0 0 0 0 0 0 0 1 1 1 1 1 1 1 1 1 1 1 1 1 1 1 1 1 1 1 1 1 1 1 1 1 1 1 1 1 1 1 1 1 1 1 1 1 1 1 1 1 1 1 1 1 1 1"/><feFuncA type="linear" slope="0" intercept="1"/></feComponentTransfer><feColorMatrix type="matrix" values="1 0 0 0 0 1 0 0 0 0 1 0 0 0 0 0 0 0 0 1"/></filter><mask id="m0_8" maskUnits="userSpaceOnUse" x="-50" y="-50" width="800" height="400"><rect x="-50" y="-50" width="800" height="400" filter="url(#f0_8)"/></mask><filter id="f0_9" x="-50" y="-50" width="800" height="400" filterUnits="userSpaceOnUse" color-interpolation-filters="sRGB"><feTurbulence type="fractalNoise" baseFrequency="0.85" numOctaves="2" seed="1"/><feComponentTransfer><feFuncR type="discrete" tableValues="0 0 0 0 0 0 0 0 0 0 0 0 0 0 0 0 0 0 0 0 0 0 0 0 0 0 0 0 0 0 0 0 0 0 0 0 0 0 0 0 0 0 0 0 0 0 0 0 0 0 0 1 1 1 1 1 1 1 1 1 1 1 1 1 1 1 1 1 1 1 1 1 1 1 1 1 1 1 1 1 1 1 1 1 1 1 1 1 1 1 1 1 1 1 1 1 1 1 1 1"/><feFuncA type="linear" slope="0" intercept="1"/></feComponentTransfer><feColorMatrix type="matrix" values="1 0 0 0 0 1 0 0 0 0 1 0 0 0 0 0 0 0 0 1"/></filter><mask id="m0_9" maskUnits="userSpaceOnUse" x="-50" y="-50" width="800" height="400"><rect x="-50" y="-50" width="800" height="400" filter="url(#f0_9)"/></mask><filter id="f0_10" x="-50" y="-50" width="800" height="400" filterUnits="userSpaceOnUse" color-interpolation-filters="sRGB"><feTurbulence type="fractalNoise" baseFrequency="0.85" numOctaves="2" seed="1"/><feComponentTransfer><feFuncR type="discrete" tableValues="0 0 0 0 0 0 0 0 0 0 0 0 0 0 0 0 0 0 0 0 0 0 0 0 0 0 0 0 0 0 0 0 0 0 0 0 0 0 0 0 0 0 0 0 0 0 0 0 0 0 1 1 1 1 1 1 1 1 1 1 1 1 1 1 1 1 1 1 1 1 1 1 1 1 1 1 1 1 1 1 1 1 1 1 1 1 1 1 1 1 1 1 1 1 1 1 1 1 1 1"/><feFuncA type="linear" slope="0" intercept="1"/></feComponentTransfer><feColorMatrix type="matrix" values="1 0 0 0 0 1 0 0 0 0 1 0 0 0 0 0 0 0 0 1"/></filter><mask id="m0_10" maskUnits="userSpaceOnUse" x="-50" y="-50" width="800" height="400"><rect x="-50" y="-50" width="800" height="400" filter="url(#f0_10)"/></mask><filter id="f1_0" x="-50" y="-50" width="800" height="400" filterUnits="userSpaceOnUse" color-interpolation-filters="sRGB"><feTurbulence type="fractalNoise" baseFrequency="0.85" numOctaves="2" seed="4"/><feComponentTransfer><feFuncR type="discrete" tableValues="0 0 0 0 0 0 0 0 0 0 0 0 0 0 0 0 0 0 0 0 0 0 0 0 0 0 0 0 0 0 0 0 0 0 0 0 0 0 0 0 0 0 0 0 0 0 0 0 0 0 0 0 0 0 0 0 0 0 0 0 0 0 0 0 0 0 0 0 0 0 0 1 1 1 1 1 1 1 1 1 1 1 1 1 1 1 1 1 1 1 1 1 1 1 1 1 1 1 1 1"/><feFuncA type="linear" slope="0" intercept="1"/></feComponentTransfer><feColorMatrix type="matrix" values="1 0 0 0 0 1 0 0 0 0 1 0 0 0 0 0 0 0 0 1"/></filter><mask id="m1_0" maskUnits="userSpaceOnUse" x="-50" y="-50" width="800" height="400"><rect x="-50" y="-50" width="800" height="400" filter="url(#f1_0)"/></mask><filter id="f1_1" x="-50" y="-50" width="800" height="400" filterUnits="userSpaceOnUse" color-interpolation-filters="sRGB"><feTurbulence type="fractalNoise" baseFrequency="0.85" numOctaves="2" seed="4"/><feComponentTransfer><feFuncR type="discrete" tableValues="0 0 0 0 0 0 0 0 0 0 0 0 0 0 0 0 0 0 0 0 0 0 0 0 0 0 0 0 0 0 0 0 0 0 0 0 0 0 0 0 0 0 0 0 0 0 0 0 0 0 0 0 0 0 0 0 0 0 0 0 0 0 0 0 0 0 0 1 1 1 1 1 1 1 1 1 1 1 1 1 1 1 1 1 1 1 1 1 1 1 1 1 1 1 1 1 1 1 1 1"/><feFuncA type="linear" slope="0" intercept="1"/></feComponentTransfer><feColorMatrix type="matrix" values="1 0 0 0 0 1 0 0 0 0 1 0 0 0 0 0 0 0 0 1"/></filter><mask id="m1_1" maskUnits="userSpaceOnUse" x="-50" y="-50" width="800" height="400"><rect x="-50" y="-50" width="800" height="400" filter="url(#f1_1)"/></mask><filter id="f1_2" x="-50" y="-50" width="800" height="400" filterUnits="userSpaceOnUse" color-interpolation-filters="sRGB"><feTurbulence type="fractalNoise" baseFrequency="0.85" numOctaves="2" seed="4"/><feComponentTransfer><feFuncR type="discrete" tableValues="0 0 0 0 0 0 0 0 0 0 0 0 0 0 0 0 0 0 0 0 0 0 0 0 0 0 0 0 0 0 0 0 0 0 0 0 0 0 0 0 0 0 0 0 0 0 0 0 0 0 0 0 0 0 0 0 0 0 0 0 0 0 0 0 1 1 1 1 1 1 1 1 1 1 1 1 1 1 1 1 1 1 1 1 1 1 1 1 1 1 1 1 1 1 1 1 1 1 1 1"/><feFuncA type="linear" slope="0" intercept="1"/></feComponentTransfer><feColorMatrix type="matrix" values="1 0 0 0 0 1 0 0 0 0 1 0 0 0 0 0 0 0 0 1"/></filter><mask id="m1_2" maskUnits="userSpaceOnUse" x="-50" y="-50" width="800" height="400"><rect x="-50" y="-50" width="800" height="400" filter="url(#f1_2)"/></mask><filter id="f1_3" x="-50" y="-50" width="800" height="400" filterUnits="userSpaceOnUse" color-interpolation-filters="sRGB"><feTurbulence type="fractalNoise" baseFrequency="0.85" numOctaves="2" seed="4"/><feComponentTransfer><feFuncR type="discrete" tableValues="0 0 0 0 0 0 0 0 0 0 0 0 0 0 0 0 0 0 0 0 0 0 0 0 0 0 0 0 0 0 0 0 0 0 0 0 0 0 0 0 0 0 0 0 0 0 0 0 0 0 0 0 0 0 0 0 0 0 0 0 0 0 1 1 1 1 1 1 1 1 1 1 1 1 1 1 1 1 1 1 1 1 1 1 1 1 1 1 1 1 1 1 1 1 1 1 1 1 1 1"/><feFuncA type="linear" slope="0" intercept="1"/></feComponentTransfer><feColorMatrix type="matrix" values="1 0 0 0 0 1 0 0 0 0 1 0 0 0 0 0 0 0 0 1"/></filter><mask id="m1_3" maskUnits="userSpaceOnUse" x="-50" y="-50" width="800" height="400"><rect x="-50" y="-50" width="800" height="400" filter="url(#f1_3)"/></mask><filter id="f1_4" x="-50" y="-50" width="800" height="400" filterUnits="userSpaceOnUse" color-interpolation-filters="sRGB"><feTurbulence type="fractalNoise" baseFrequency="0.85" numOctaves="2" seed="4"/><feComponentTransfer><feFuncR type="discrete" tableValues="0 0 0 0 0 0 0 0 0 0 0 0 0 0 0 0 0 0 0 0 0 0 0 0 0 0 0 0 0 0 0 0 0 0 0 0 0 0 0 0 0 0 0 0 0 0 0 0 0 0 0 0 0 0 0 0 0 0 0 0 1 1 1 1 1 1 1 1 1 1 1 1 1 1 1 1 1 1 1 1 1 1 1 1 1 1 1 1 1 1 1 1 1 1 1 1 1 1 1 1"/><feFuncA type="linear" slope="0" intercept="1"/></feComponentTransfer><feColorMatrix type="matrix" values="1 0 0 0 0 1 0 0 0 0 1 0 0 0 0 0 0 0 0 1"/></filter><mask id="m1_4" maskUnits="userSpaceOnUse" x="-50" y="-50" width="800" height="400"><rect x="-50" y="-50" width="800" height="400" filter="url(#f1_4)"/></mask><filter id="f1_5" x="-50" y="-50" width="800" height="400" filterUnits="userSpaceOnUse" color-interpolation-filters="sRGB"><feTurbulence type="fractalNoise" baseFrequency="0.85" numOctaves="2" seed="4"/><feComponentTransfer><feFuncR type="discrete" tableValues="0 0 0 0 0 0 0 0 0 0 0 0 0 0 0 0 0 0 0 0 0 0 0 0 0 0 0 0 0 0 0 0 0 0 0 0 0 0 0 0 0 0 0 0 0 0 0 0 0 0 0 0 0 0 0 0 0 0 1 1 1 1 1 1 1 1 1 1 1 1 1 1 1 1 1 1 1 1 1 1 1 1 1 1 1 1 1 1 1 1 1 1 1 1 1 1 1 1 1 1"/><feFuncA type="linear" slope="0" intercept="1"/></feComponentTransfer><feColorMatrix type="matrix" values="1 0 0 0 0 1 0 0 0 0 1 0 0 0 0 0 0 0 0 1"/></filter><mask id="m1_5" maskUnits="userSpaceOnUse" x="-50" y="-50" width="800" height="400"><rect x="-50" y="-50" width="800" height="400" filter="url(#f1_5)"/></mask><filter id="f1_6" x="-50" y="-50" width="800" height="400" filterUnits="userSpaceOnUse" color-interpolation-filters="sRGB"><feTurbulence type="fractalNoise" baseFrequency="0.85" numOctaves="2" seed="4"/><feComponentTransfer><feFuncR type="discrete" tableValues="0 0 0 0 0 0 0 0 0 0 0 0 0 0 0 0 0 0 0 0 0 0 0 0 0 0 0 0 0 0 0 0 0 0 0 0 0 0 0 0 0 0 0 0 0 0 0 0 0 0 0 0 0 0 0 0 1 1 1 1 1 1 1 1 1 1 1 1 1 1 1 1 1 1 1 1 1 1 1 1 1 1 1 1 1 1 1 1 1 1 1 1 1 1 1 1 1 1 1 1"/><feFuncA type="linear" slope="0" intercept="1"/></feComponentTransfer><feColorMatrix type="matrix" values="1 0 0 0 0 1 0 0 0 0 1 0 0 0 0 0 0 0 0 1"/></filter><mask id="m1_6" maskUnits="userSpaceOnUse" x="-50" y="-50" width="800" height="400"><rect x="-50" y="-50" width="800" height="400" filter="url(#f1_6)"/></mask><filter id="f1_7" x="-50" y="-50" width="800" height="400" filterUnits="userSpaceOnUse" color-interpolation-filters="sRGB"><feTurbulence type="fractalNoise" baseFrequency="0.85" numOctaves="2" seed="4"/><feComponentTransfer><feFuncR type="discrete" tableValues="0 0 0 0 0 0 0 0 0 0 0 0 0 0 0 0 0 0 0 0 0 0 0 0 0 0 0 0 0 0 0 0 0 0 0 0 0 0 0 0 0 0 0 0 0 0 0 0 0 0 0 0 0 0 0 1 1 1 1 1 1 1 1 1 1 1 1 1 1 1 1 1 1 1 1 1 1 1 1 1 1 1 1 1 1 1 1 1 1 1 1 1 1 1 1 1 1 1 1 1"/><feFuncA type="linear" slope="0" intercept="1"/></feComponentTransfer><feColorMatrix type="matrix" values="1 0 0 0 0 1 0 0 0 0 1 0 0 0 0 0 0 0 0 1"/></filter><mask id="m1_7" maskUnits="userSpaceOnUse" x="-50" y="-50" width="800" height="400"><rect x="-50" y="-50" width="800" height="400" filter="url(#f1_7)"/></mask><filter id="f2_0" x="-50" y="-50" width="800" height="400" filterUnits="userSpaceOnUse" color-interpolation-filters="sRGB"><feTurbulence type="fractalNoise" baseFrequency="0.85" numOctaves="2" seed="7"/><feComponentTransfer><feFuncR type="discrete" tableValues="0 0 0 0 0 0 0 0 0 0 0 0 0 0 0 0 0 0 0 0 0 0 0 0 0 0 0 0 0 0 0 0 0 0 0 0 0 0 0 0 0 0 0 0 0 0 0 0 0 0 0 0 0 0 0 0 0 0 0 0 0 0 0 0 0 0 0 0 0 0 0 1 1 1 1 1 1 1 1 1 1 1 1 1 1 1 1 1 1 1 1 1 1 1 1 1 1 1 1 1"/><feFuncA type="linear" slope="0" intercept="1"/></feComponentTransfer><feColorMatrix type="matrix" values="1 0 0 0 0 1 0 0 0 0 1 0 0 0 0 0 0 0 0 1"/></filter><mask id="m2_0" maskUnits="userSpaceOnUse" x="-50" y="-50" width="800" height="400"><rect x="-50" y="-50" width="800" height="400" filter="url(#f2_0)"/></mask><filter id="f2_1" x="-50" y="-50" width="800" height="400" filterUnits="userSpaceOnUse" color-interpolation-filters="sRGB"><feTurbulence type="fractalNoise" baseFrequency="0.85" numOctaves="2" seed="7"/><feComponentTransfer><feFuncR type="discrete" tableValues="0 0 0 0 0 0 0 0 0 0 0 0 0 0 0 0 0 0 0 0 0 0 0 0 0 0 0 0 0 0 0 0 0 0 0 0 0 0 0 0 0 0 0 0 0 0 0 0 0 0 0 0 0 0 0 0 0 0 0 0 0 0 0 0 0 0 0 1 1 1 1 1 1 1 1 1 1 1 1 1 1 1 1 1 1 1 1 1 1 1 1 1 1 1 1 1 1 1 1 1"/><feFuncA type="linear" slope="0" intercept="1"/></feComponentTransfer><feColorMatrix type="matrix" values="1 0 0 0 0 1 0 0 0 0 1 0 0 0 0 0 0 0 0 1"/></filter><mask id="m2_1" maskUnits="userSpaceOnUse" x="-50" y="-50" width="800" height="400"><rect x="-50" y="-50" width="800" height="400" filter="url(#f2_1)"/></mask><filter id="f2_2" x="-50" y="-50" width="800" height="400" filterUnits="userSpaceOnUse" color-interpolation-filters="sRGB"><feTurbulence type="fractalNoise" baseFrequency="0.85" numOctaves="2" seed="7"/><feComponentTransfer><feFuncR type="discrete" tableValues="0 0 0 0 0 0 0 0 0 0 0 0 0 0 0 0 0 0 0 0 0 0 0 0 0 0 0 0 0 0 0 0 0 0 0 0 0 0 0 0 0 0 0 0 0 0 0 0 0 0 0 0 0 0 0 0 0 0 0 0 0 0 0 0 1 1 1 1 1 1 1 1 1 1 1 1 1 1 1 1 1 1 1 1 1 1 1 1 1 1 1 1 1 1 1 1 1 1 1 1"/><feFuncA type="linear" slope="0" intercept="1"/></feComponentTransfer><feColorMatrix type="matrix" values="1 0 0 0 0 1 0 0 0 0 1 0 0 0 0 0 0 0 0 1"/></filter><mask id="m2_2" maskUnits="userSpaceOnUse" x="-50" y="-50" width="800" height="400"><rect x="-50" y="-50" width="800" height="400" filter="url(#f2_2)"/></mask><filter id="f2_3" x="-50" y="-50" width="800" height="400" filterUnits="userSpaceOnUse" color-interpolation-filters="sRGB"><feTurbulence type="fractalNoise" baseFrequency="0.85" numOctaves="2" seed="7"/><feComponentTransfer><feFuncR type="discrete" tableValues="0 0 0 0 0 0 0 0 0 0 0 0 0 0 0 0 0 0 0 0 0 0 0 0 0 0 0 0 0 0 0 0 0 0 0 0 0 0 0 0 0 0 0 0 0 0 0 0 0 0 0 0 0 0 0 0 0 0 0 0 0 0 1 1 1 1 1 1 1 1 1 1 1 1 1 1 1 1 1 1 1 1 1 1 1 1 1 1 1 1 1 1 1 1 1 1 1 1 1 1"/><feFuncA type="linear" slope="0" intercept="1"/></feComponentTransfer><feColorMatrix type="matrix" values="1 0 0 0 0 1 0 0 0 0 1 0 0 0 0 0 0 0 0 1"/></filter><mask id="m2_3" maskUnits="userSpaceOnUse" x="-50" y="-50" width="800" height="400"><rect x="-50" y="-50" width="800" height="400" filter="url(#f2_3)"/></mask><filter id="f2_4" x="-50" y="-50" width="800" height="400" filterUnits="userSpaceOnUse" color-interpolation-filters="sRGB"><feTurbulence type="fractalNoise" baseFrequency="0.85" numOctaves="2" seed="7"/><feComponentTransfer><feFuncR type="discrete" tableValues="0 0 0 0 0 0 0 0 0 0 0 0 0 0 0 0 0 0 0 0 0 0 0 0 0 0 0 0 0 0 0 0 0 0 0 0 0 0 0 0 0 0 0 0 0 0 0 0 0 0 0 0 0 0 0 0 0 0 0 0 1 1 1 1 1 1 1 1 1 1 1 1 1 1 1 1 1 1 1 1 1 1 1 1 1 1 1 1 1 1 1 1 1 1 1 1 1 1 1 1"/><feFuncA type="linear" slope="0" intercept="1"/></feComponentTransfer><feColorMatrix type="matrix" values="1 0 0 0 0 1 0 0 0 0 1 0 0 0 0 0 0 0 0 1"/></filter><mask id="m2_4" maskUnits="userSpaceOnUse" x="-50" y="-50" width="800" height="400"><rect x="-50" y="-50" width="800" height="400" filter="url(#f2_4)"/></mask><filter id="f3_0" x="-50" y="-50" width="800" height="400" filterUnits="userSpaceOnUse" color-interpolation-filters="sRGB"><feTurbulence type="fractalNoise" baseFrequency="0.85" numOctaves="2" seed="10"/><feComponentTransfer><feFuncR type="discrete" tableValues="0 0 0 0 0 0 0 0 0 0 0 0 0 0 0 0 0 0 0 0 0 0 0 0 0 0 0 0 0 0 0 0 0 0 0 0 0 0 0 0 0 0 0 0 0 0 0 0 0 0 0 0 0 0 0 0 0 0 0 0 0 0 0 0 0 0 0 0 0 0 0 1 1 1 1 1 1 1 1 1 1 1 1 1 1 1 1 1 1 1 1 1 1 1 1 1 1 1 1 1"/><feFuncA type="linear" slope="0" intercept="1"/></feComponentTransfer><feColorMatrix type="matrix" values="1 0 0 0 0 1 0 0 0 0 1 0 0 0 0 0 0 0 0 1"/></filter><mask id="m3_0" maskUnits="userSpaceOnUse" x="-50" y="-50" width="800" height="400"><rect x="-50" y="-50" width="800" height="400" filter="url(#f3_0)"/></mask><filter id="f3_2" x="-50" y="-50" width="800" height="400" filterUnits="userSpaceOnUse" color-interpolation-filters="sRGB"><feTurbulence type="fractalNoise" baseFrequency="0.85" numOctaves="2" seed="10"/><feComponentTransfer><feFuncR type="discrete" tableValues="0 0 0 0 0 0 0 0 0 0 0 0 0 0 0 0 0 0 0 0 0 0 0 0 0 0 0 0 0 0 0 0 0 0 0 0 0 0 0 0 0 0 0 0 0 0 0 0 0 0 0 0 0 0 0 0 0 0 0 0 0 0 0 0 1 1 1 1 1 1 1 1 1 1 1 1 1 1 1 1 1 1 1 1 1 1 1 1 1 1 1 1 1 1 1 1 1 1 1 1"/><feFuncA type="linear" slope="0" intercept="1"/></feComponentTransfer><feColorMatrix type="matrix" values="1 0 0 0 0 1 0 0 0 0 1 0 0 0 0 0 0 0 0 1"/></filter><mask id="m3_2" maskUnits="userSpaceOnUse" x="-50" y="-50" width="800" height="400"><rect x="-50" y="-50" width="800" height="400" filter="url(#f3_2)"/></mask><filter id="f3_3" x="-50" y="-50" width="800" height="400" filterUnits="userSpaceOnUse" color-interpolation-filters="sRGB"><feTurbulence type="fractalNoise" baseFrequency="0.85" numOctaves="2" seed="10"/><feComponentTransfer><feFuncR type="discrete" tableValues="0 0 0 0 0 0 0 0 0 0 0 0 0 0 0 0 0 0 0 0 0 0 0 0 0 0 0 0 0 0 0 0 0 0 0 0 0 0 0 0 0 0 0 0 0 0 0 0 0 0 0 0 0 0 0 0 0 0 0 0 0 0 1 1 1 1 1 1 1 1 1 1 1 1 1 1 1 1 1 1 1 1 1 1 1 1 1 1 1 1 1 1 1 1 1 1 1 1 1 1"/><feFuncA type="linear" slope="0" intercept="1"/></feComponentTransfer><feColorMatrix type="matrix" values="1 0 0 0 0 1 0 0 0 0 1 0 0 0 0 0 0 0 0 1"/></filter><mask id="m3_3" maskUnits="userSpaceOnUse" x="-50" y="-50" width="800" height="400"><rect x="-50" y="-50" width="800" height="400" filter="url(#f3_3)"/></mask></defs>
</svg></body></html>
